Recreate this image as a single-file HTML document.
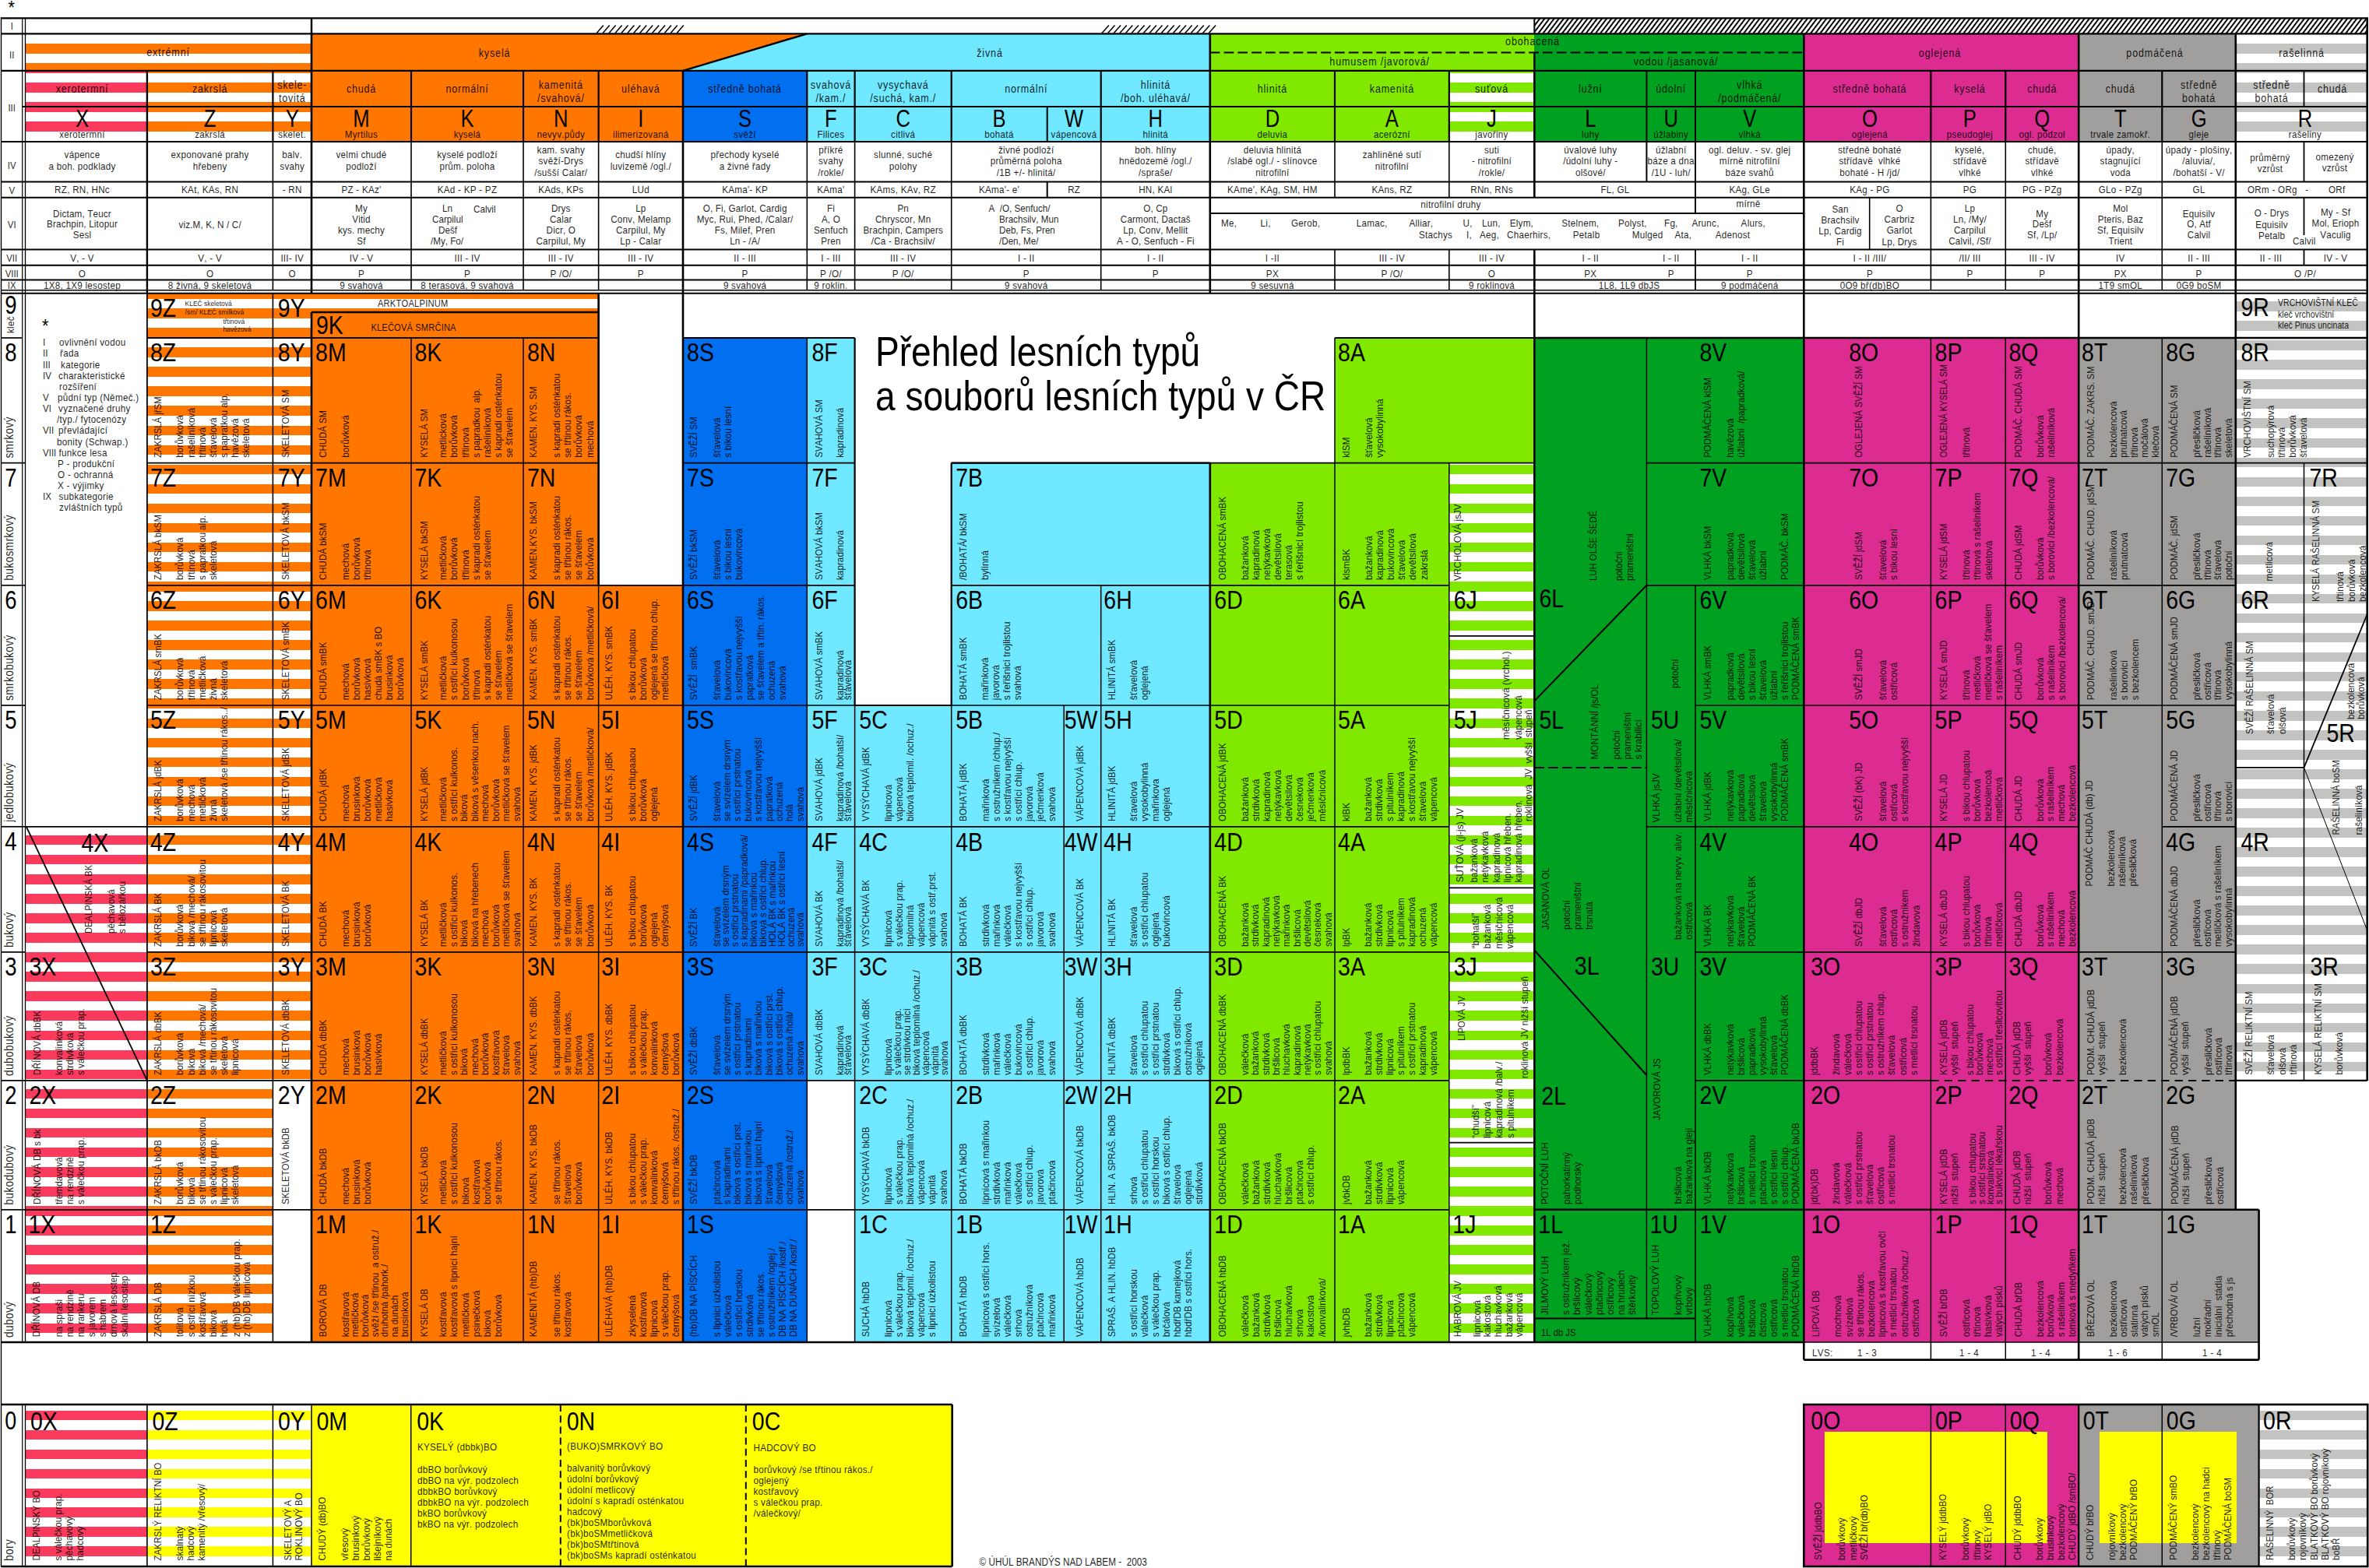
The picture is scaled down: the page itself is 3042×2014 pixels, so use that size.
<!DOCTYPE html><html lang="cs"><head><meta charset="utf-8"><title>Přehled lesních typů a souborů lesních typů v ČR</title><style>html,body{margin:0;padding:0;background:#fff}body{width:3042px;height:2014px;overflow:hidden}svg{display:block}</style></head><body><svg width="3042" height="2014" viewBox="0 0 3042 2014"><defs>
<pattern id="hatch" width="4.9" height="4.9" patternUnits="userSpaceOnUse" patternTransform="rotate(-53)"><rect width="4.9" height="4.9" fill="#fff"/><rect width="4.9" height="2.0" fill="#000"/></pattern>
</defs><rect width="100%" height="100%" fill="#fff"/><g shape-rendering="crispEdges"><rect x="32.5" y="43.4" width="367.5" height="0.2" fill="#FF7600"/><rect x="32.5" y="56.1" width="367.5" height="12.5" fill="#FF7600"/><rect x="32.5" y="81.1" width="367.5" height="9.7" fill="#FF7600"/><polygon points="400.0,43.4 1036.3,43.4 877.0,90.8 400.0,90.8" fill="#FF7600"/><polygon points="1036.3,43.4 1553.8,43.4 1553.8,90.8 877.0,90.8" fill="#70E8FF"/><rect x="1553.8" y="43.4" width="416.5" height="47.4" fill="#81E800"/><rect x="1970.3" y="43.4" width="346.0" height="47.4" fill="#00A020"/><rect x="2316.3" y="43.4" width="352.9" height="47.4" fill="#DC2C92"/><rect x="2669.2" y="43.4" width="201.6" height="47.4" fill="#A19F9D"/><rect x="2870.8" y="43.4" width="168.9" height="0.2" fill="#C3C3C1"/><rect x="2870.8" y="56.1" width="168.9" height="12.5" fill="#C3C3C1"/><rect x="2870.8" y="81.1" width="168.9" height="9.7" fill="#C3C3C1"/><rect x="32.5" y="90.8" width="156.4" height="2.8" fill="#FB3B5E"/><rect x="32.5" y="106.1" width="156.4" height="12.5" fill="#FB3B5E"/><rect x="32.5" y="131.1" width="156.4" height="12.5" fill="#FB3B5E"/><rect x="32.5" y="156.1" width="156.4" height="12.5" fill="#FB3B5E"/><rect x="32.5" y="181.1" width="156.4" height="0.8" fill="#FB3B5E"/><rect x="188.9" y="90.8" width="211.1" height="2.8" fill="#FF7600"/><rect x="188.9" y="106.1" width="211.1" height="12.5" fill="#FF7600"/><rect x="188.9" y="131.1" width="211.1" height="12.5" fill="#FF7600"/><rect x="188.9" y="156.1" width="211.1" height="12.5" fill="#FF7600"/><rect x="188.9" y="181.1" width="211.1" height="0.8" fill="#FF7600"/><rect x="400.0" y="90.8" width="477.0" height="91.1" fill="#FF7600"/><rect x="877.0" y="90.8" width="159.3" height="91.1" fill="#0070F0"/><rect x="1036.3" y="90.8" width="517.5" height="91.1" fill="#70E8FF"/><rect x="1553.8" y="90.8" width="307.0" height="91.1" fill="#81E800"/><rect x="1860.8" y="90.8" width="109.5" height="2.8" fill="#81E800"/><rect x="1860.8" y="106.1" width="109.5" height="12.5" fill="#81E800"/><rect x="1860.8" y="131.1" width="109.5" height="12.5" fill="#81E800"/><rect x="1860.8" y="156.1" width="109.5" height="12.5" fill="#81E800"/><rect x="1860.8" y="181.1" width="109.5" height="0.8" fill="#81E800"/><rect x="1970.3" y="90.8" width="346.0" height="91.1" fill="#00A020"/><rect x="2316.3" y="90.8" width="352.9" height="91.1" fill="#DC2C92"/><rect x="2669.2" y="90.8" width="201.6" height="91.1" fill="#A19F9D"/><rect x="2870.8" y="90.8" width="168.9" height="2.8" fill="#C3C3C1"/><rect x="2870.8" y="106.1" width="168.9" height="12.5" fill="#C3C3C1"/><rect x="2870.8" y="131.1" width="168.9" height="12.5" fill="#C3C3C1"/><rect x="2870.8" y="156.1" width="168.9" height="12.5" fill="#C3C3C1"/><rect x="2870.8" y="181.1" width="168.9" height="0.8" fill="#C3C3C1"/><rect x="1970.3" y="23.3" width="1069.4" height="20.1" fill="url(#hatch)"/><rect x="32.5" y="1072.9" width="156.4" height="12.5" fill="#FB3B5E"/><rect x="32.5" y="1097.9" width="156.4" height="12.5" fill="#FB3B5E"/><rect x="32.5" y="1123.0" width="156.4" height="12.5" fill="#FB3B5E"/><rect x="32.5" y="1148.1" width="156.4" height="12.5" fill="#FB3B5E"/><rect x="32.5" y="1173.1" width="156.4" height="12.5" fill="#FB3B5E"/><rect x="32.5" y="1198.2" width="156.4" height="12.5" fill="#FB3B5E"/><rect x="32.5" y="1223.2" width="156.4" height="12.5" fill="#FB3B5E"/><rect x="32.5" y="1248.3" width="156.4" height="12.5" fill="#FB3B5E"/><rect x="32.5" y="1273.4" width="156.4" height="12.5" fill="#FB3B5E"/><rect x="32.5" y="1298.4" width="156.4" height="12.5" fill="#FB3B5E"/><rect x="32.5" y="1323.5" width="156.4" height="12.5" fill="#FB3B5E"/><rect x="32.5" y="1348.6" width="156.4" height="12.5" fill="#FB3B5E"/><rect x="32.5" y="1373.6" width="156.4" height="12.5" fill="#FB3B5E"/><rect x="32.5" y="1398.7" width="156.4" height="12.5" fill="#FB3B5E"/><rect x="32.5" y="1423.8" width="156.4" height="12.5" fill="#FB3B5E"/><rect x="32.5" y="1448.8" width="156.4" height="12.5" fill="#FB3B5E"/><rect x="32.5" y="1473.9" width="156.4" height="12.5" fill="#FB3B5E"/><rect x="32.5" y="1499.0" width="156.4" height="12.5" fill="#FB3B5E"/><rect x="32.5" y="1524.0" width="156.4" height="12.5" fill="#FB3B5E"/><rect x="32.5" y="1549.1" width="156.4" height="12.5" fill="#FB3B5E"/><rect x="32.5" y="1574.2" width="156.4" height="12.5" fill="#FB3B5E"/><rect x="32.5" y="1599.2" width="156.4" height="12.5" fill="#FB3B5E"/><rect x="32.5" y="1624.3" width="156.4" height="12.5" fill="#FB3B5E"/><rect x="32.5" y="1649.4" width="156.4" height="12.5" fill="#FB3B5E"/><rect x="32.5" y="1674.4" width="156.4" height="12.5" fill="#FB3B5E"/><rect x="32.5" y="1699.5" width="156.4" height="12.5" fill="#FB3B5E"/><rect x="188.9" y="376.8" width="161.5" height="6.7" fill="#FF7600"/><rect x="188.9" y="396.1" width="161.5" height="12.5" fill="#FF7600"/><rect x="188.9" y="421.2" width="161.5" height="12.5" fill="#FF7600"/><rect x="188.9" y="446.2" width="161.5" height="12.5" fill="#FF7600"/><rect x="188.9" y="471.3" width="161.5" height="12.5" fill="#FF7600"/><rect x="188.9" y="496.4" width="161.5" height="12.5" fill="#FF7600"/><rect x="188.9" y="521.4" width="161.5" height="12.5" fill="#FF7600"/><rect x="188.9" y="546.5" width="161.5" height="12.5" fill="#FF7600"/><rect x="188.9" y="571.6" width="161.5" height="12.5" fill="#FF7600"/><rect x="188.9" y="596.6" width="161.5" height="12.5" fill="#FF7600"/><rect x="188.9" y="621.7" width="161.5" height="12.5" fill="#FF7600"/><rect x="188.9" y="646.8" width="161.5" height="12.5" fill="#FF7600"/><rect x="188.9" y="671.8" width="161.5" height="12.5" fill="#FF7600"/><rect x="188.9" y="696.9" width="161.5" height="12.5" fill="#FF7600"/><rect x="188.9" y="721.9" width="161.5" height="12.5" fill="#FF7600"/><rect x="188.9" y="747.0" width="161.5" height="4.8" fill="#FF7600"/><rect x="188.9" y="751.8" width="161.5" height="7.7" fill="#FF7600"/><rect x="188.9" y="772.1" width="161.5" height="12.5" fill="#FF7600"/><rect x="188.9" y="797.1" width="161.5" height="12.5" fill="#FF7600"/><rect x="188.9" y="822.2" width="161.5" height="12.5" fill="#FF7600"/><rect x="188.9" y="847.3" width="161.5" height="12.5" fill="#FF7600"/><rect x="188.9" y="872.3" width="161.5" height="12.5" fill="#FF7600"/><rect x="188.9" y="897.4" width="161.5" height="8.6" fill="#FF7600"/><rect x="188.9" y="906.0" width="161.5" height="3.9" fill="#FF7600"/><rect x="188.9" y="922.5" width="161.5" height="12.5" fill="#FF7600"/><rect x="188.9" y="947.5" width="161.5" height="12.5" fill="#FF7600"/><rect x="188.9" y="972.6" width="161.5" height="12.5" fill="#FF7600"/><rect x="188.9" y="997.7" width="161.5" height="12.5" fill="#FF7600"/><rect x="188.9" y="1022.7" width="161.5" height="12.5" fill="#FF7600"/><rect x="188.9" y="1047.8" width="161.5" height="12.5" fill="#FF7600"/><rect x="188.9" y="1072.9" width="161.5" height="12.5" fill="#FF7600"/><rect x="188.9" y="1097.9" width="161.5" height="12.5" fill="#FF7600"/><rect x="188.9" y="1123.0" width="161.5" height="12.5" fill="#FF7600"/><rect x="188.9" y="1148.1" width="161.5" height="12.5" fill="#FF7600"/><rect x="188.9" y="1173.1" width="161.5" height="12.5" fill="#FF7600"/><rect x="188.9" y="1198.2" width="161.5" height="12.5" fill="#FF7600"/><rect x="188.9" y="1223.2" width="161.5" height="12.5" fill="#FF7600"/><rect x="188.9" y="1248.3" width="161.5" height="12.5" fill="#FF7600"/><rect x="188.9" y="1273.4" width="161.5" height="12.5" fill="#FF7600"/><rect x="188.9" y="1298.4" width="161.5" height="12.5" fill="#FF7600"/><rect x="188.9" y="1323.5" width="161.5" height="12.5" fill="#FF7600"/><rect x="188.9" y="1348.6" width="161.5" height="12.5" fill="#FF7600"/><rect x="188.9" y="1373.6" width="161.5" height="12.5" fill="#FF7600"/><rect x="188.9" y="1398.7" width="161.5" height="12.5" fill="#FF7600"/><rect x="188.9" y="1423.8" width="161.5" height="12.5" fill="#FF7600"/><rect x="188.9" y="1448.8" width="161.5" height="12.5" fill="#FF7600"/><rect x="188.9" y="1473.9" width="161.5" height="12.5" fill="#FF7600"/><rect x="188.9" y="1499.0" width="161.5" height="12.5" fill="#FF7600"/><rect x="188.9" y="1524.0" width="161.5" height="12.5" fill="#FF7600"/><rect x="188.9" y="1549.1" width="161.5" height="4.7" fill="#FF7600"/><rect x="188.9" y="1553.8" width="161.5" height="7.8" fill="#FF7600"/><rect x="188.9" y="1574.2" width="161.5" height="12.5" fill="#FF7600"/><rect x="188.9" y="1599.2" width="161.5" height="12.5" fill="#FF7600"/><rect x="188.9" y="1624.3" width="161.5" height="12.5" fill="#FF7600"/><rect x="188.9" y="1649.4" width="161.5" height="12.5" fill="#FF7600"/><rect x="188.9" y="1674.4" width="161.5" height="12.5" fill="#FF7600"/><rect x="188.9" y="1699.5" width="161.5" height="12.5" fill="#FF7600"/><rect x="350.4" y="376.8" width="49.6" height="6.7" fill="#FF7600"/><rect x="350.4" y="396.1" width="49.6" height="12.5" fill="#FF7600"/><rect x="350.4" y="421.2" width="49.6" height="12.5" fill="#FF7600"/><rect x="350.4" y="446.2" width="49.6" height="12.5" fill="#FF7600"/><rect x="350.4" y="471.3" width="49.6" height="12.5" fill="#FF7600"/><rect x="350.4" y="496.4" width="49.6" height="12.5" fill="#FF7600"/><rect x="350.4" y="521.4" width="49.6" height="12.5" fill="#FF7600"/><rect x="350.4" y="546.5" width="49.6" height="12.5" fill="#FF7600"/><rect x="350.4" y="571.6" width="49.6" height="12.5" fill="#FF7600"/><rect x="350.4" y="596.6" width="49.6" height="12.5" fill="#FF7600"/><rect x="350.4" y="621.7" width="49.6" height="12.5" fill="#FF7600"/><rect x="350.4" y="646.8" width="49.6" height="12.5" fill="#FF7600"/><rect x="350.4" y="671.8" width="49.6" height="12.5" fill="#FF7600"/><rect x="350.4" y="696.9" width="49.6" height="12.5" fill="#FF7600"/><rect x="350.4" y="721.9" width="49.6" height="12.5" fill="#FF7600"/><rect x="350.4" y="747.0" width="49.6" height="4.8" fill="#FF7600"/><rect x="350.4" y="751.8" width="49.6" height="7.7" fill="#FF7600"/><rect x="350.4" y="772.1" width="49.6" height="12.5" fill="#FF7600"/><rect x="350.4" y="797.1" width="49.6" height="12.5" fill="#FF7600"/><rect x="350.4" y="822.2" width="49.6" height="12.5" fill="#FF7600"/><rect x="350.4" y="847.3" width="49.6" height="12.5" fill="#FF7600"/><rect x="350.4" y="872.3" width="49.6" height="12.5" fill="#FF7600"/><rect x="350.4" y="897.4" width="49.6" height="8.6" fill="#FF7600"/><rect x="350.4" y="906.0" width="49.6" height="3.9" fill="#FF7600"/><rect x="350.4" y="922.5" width="49.6" height="12.5" fill="#FF7600"/><rect x="350.4" y="947.5" width="49.6" height="12.5" fill="#FF7600"/><rect x="350.4" y="972.6" width="49.6" height="12.5" fill="#FF7600"/><rect x="350.4" y="997.7" width="49.6" height="12.5" fill="#FF7600"/><rect x="350.4" y="1022.7" width="49.6" height="12.5" fill="#FF7600"/><rect x="350.4" y="1047.8" width="49.6" height="12.5" fill="#FF7600"/><rect x="350.4" y="1072.9" width="49.6" height="12.5" fill="#FF7600"/><rect x="350.4" y="1097.9" width="49.6" height="12.5" fill="#FF7600"/><rect x="350.4" y="1123.0" width="49.6" height="12.5" fill="#FF7600"/><rect x="350.4" y="1148.1" width="49.6" height="12.5" fill="#FF7600"/><rect x="350.4" y="1173.1" width="49.6" height="12.5" fill="#FF7600"/><rect x="350.4" y="1198.2" width="49.6" height="12.5" fill="#FF7600"/><rect x="350.4" y="1223.2" width="49.6" height="12.5" fill="#FF7600"/><rect x="350.4" y="1248.3" width="49.6" height="12.5" fill="#FF7600"/><rect x="350.4" y="1273.4" width="49.6" height="12.5" fill="#FF7600"/><rect x="350.4" y="1298.4" width="49.6" height="12.5" fill="#FF7600"/><rect x="350.4" y="1323.5" width="49.6" height="12.5" fill="#FF7600"/><rect x="350.4" y="1348.6" width="49.6" height="12.5" fill="#FF7600"/><rect x="350.4" y="1373.6" width="49.6" height="12.5" fill="#FF7600"/><rect x="400.0" y="376.8" width="368.6" height="6.7" fill="#FF7600"/><rect x="400.0" y="396.1" width="368.6" height="4.9" fill="#FF7600"/><rect x="400.0" y="401.0" width="368.6" height="33.0" fill="#FF7600"/><rect x="400.0" y="434.0" width="128.0" height="160.6" fill="#FF7600"/><rect x="400.0" y="594.6" width="128.0" height="157.2" fill="#FF7600"/><rect x="400.0" y="751.8" width="128.0" height="154.2" fill="#FF7600"/><rect x="400.0" y="906.0" width="128.0" height="155.8" fill="#FF7600"/><rect x="400.0" y="1061.8" width="128.0" height="161.1" fill="#FF7600"/><rect x="400.0" y="1222.9" width="128.0" height="165.0" fill="#FF7600"/><rect x="400.0" y="1387.9" width="128.0" height="165.9" fill="#FF7600"/><rect x="400.0" y="1553.8" width="128.0" height="170.2" fill="#FF7600"/><rect x="528.0" y="434.0" width="144.0" height="160.6" fill="#FF7600"/><rect x="528.0" y="594.6" width="144.0" height="157.2" fill="#FF7600"/><rect x="528.0" y="751.8" width="144.0" height="154.2" fill="#FF7600"/><rect x="528.0" y="906.0" width="144.0" height="155.8" fill="#FF7600"/><rect x="528.0" y="1061.8" width="144.0" height="161.1" fill="#FF7600"/><rect x="528.0" y="1222.9" width="144.0" height="165.0" fill="#FF7600"/><rect x="528.0" y="1387.9" width="144.0" height="165.9" fill="#FF7600"/><rect x="528.0" y="1553.8" width="144.0" height="170.2" fill="#FF7600"/><rect x="672.0" y="434.0" width="96.6" height="160.6" fill="#FF7600"/><rect x="672.0" y="594.6" width="96.6" height="157.2" fill="#FF7600"/><rect x="672.0" y="751.8" width="96.6" height="154.2" fill="#FF7600"/><rect x="672.0" y="906.0" width="96.6" height="155.8" fill="#FF7600"/><rect x="672.0" y="1061.8" width="96.6" height="161.1" fill="#FF7600"/><rect x="672.0" y="1222.9" width="96.6" height="165.0" fill="#FF7600"/><rect x="672.0" y="1387.9" width="96.6" height="165.9" fill="#FF7600"/><rect x="672.0" y="1553.8" width="96.6" height="170.2" fill="#FF7600"/><rect x="768.6" y="751.8" width="108.4" height="154.2" fill="#FF7600"/><rect x="768.6" y="906.0" width="108.4" height="155.8" fill="#FF7600"/><rect x="768.6" y="1061.8" width="108.4" height="161.1" fill="#FF7600"/><rect x="768.6" y="1222.9" width="108.4" height="165.0" fill="#FF7600"/><rect x="768.6" y="1387.9" width="108.4" height="165.9" fill="#FF7600"/><rect x="768.6" y="1553.8" width="108.4" height="170.2" fill="#FF7600"/><rect x="877.0" y="434.0" width="159.3" height="160.6" fill="#0070F0"/><rect x="877.0" y="594.6" width="159.3" height="157.2" fill="#0070F0"/><rect x="877.0" y="751.8" width="159.3" height="154.2" fill="#0070F0"/><rect x="877.0" y="906.0" width="159.3" height="155.8" fill="#0070F0"/><rect x="877.0" y="1061.8" width="159.3" height="161.1" fill="#0070F0"/><rect x="877.0" y="1222.9" width="159.3" height="165.0" fill="#0070F0"/><rect x="877.0" y="1387.9" width="159.3" height="165.9" fill="#0070F0"/><rect x="877.0" y="1553.8" width="159.3" height="170.2" fill="#0070F0"/><rect x="1036.3" y="434.0" width="61.3" height="160.6" fill="#70E8FF"/><rect x="1036.3" y="594.6" width="61.3" height="157.2" fill="#70E8FF"/><rect x="1036.3" y="751.8" width="61.3" height="154.2" fill="#70E8FF"/><rect x="1036.3" y="906.0" width="61.3" height="155.8" fill="#70E8FF"/><rect x="1036.3" y="1061.8" width="61.3" height="161.1" fill="#70E8FF"/><rect x="1036.3" y="1222.9" width="61.3" height="165.0" fill="#70E8FF"/><rect x="1097.6" y="906.0" width="124.1" height="155.8" fill="#70E8FF"/><rect x="1097.6" y="1061.8" width="124.1" height="161.1" fill="#70E8FF"/><rect x="1097.6" y="1222.9" width="124.1" height="165.0" fill="#70E8FF"/><rect x="1097.6" y="1387.9" width="124.1" height="165.9" fill="#70E8FF"/><rect x="1097.6" y="1553.8" width="124.1" height="170.2" fill="#70E8FF"/><rect x="1221.7" y="594.6" width="332.1" height="157.2" fill="#70E8FF"/><rect x="1221.7" y="751.8" width="192.0" height="154.2" fill="#70E8FF"/><rect x="1221.7" y="906.0" width="144.5" height="155.8" fill="#70E8FF"/><rect x="1221.7" y="1061.8" width="144.5" height="161.1" fill="#70E8FF"/><rect x="1221.7" y="1222.9" width="144.5" height="165.0" fill="#70E8FF"/><rect x="1221.7" y="1387.9" width="144.5" height="165.9" fill="#70E8FF"/><rect x="1221.7" y="1553.8" width="144.5" height="170.2" fill="#70E8FF"/><rect x="1366.2" y="906.0" width="47.5" height="155.8" fill="#70E8FF"/><rect x="1366.2" y="1061.8" width="47.5" height="161.1" fill="#70E8FF"/><rect x="1366.2" y="1222.9" width="47.5" height="165.0" fill="#70E8FF"/><rect x="1366.2" y="1387.9" width="47.5" height="165.9" fill="#70E8FF"/><rect x="1366.2" y="1553.8" width="47.5" height="170.2" fill="#70E8FF"/><rect x="1413.7" y="751.8" width="140.1" height="154.2" fill="#70E8FF"/><rect x="1413.7" y="906.0" width="140.1" height="155.8" fill="#70E8FF"/><rect x="1413.7" y="1061.8" width="140.1" height="161.1" fill="#70E8FF"/><rect x="1413.7" y="1222.9" width="140.1" height="165.0" fill="#70E8FF"/><rect x="1413.7" y="1387.9" width="140.1" height="165.9" fill="#70E8FF"/><rect x="1413.7" y="1553.8" width="140.1" height="170.2" fill="#70E8FF"/><rect x="1553.8" y="594.6" width="160.2" height="157.2" fill="#81E800"/><rect x="1553.8" y="751.8" width="160.2" height="154.2" fill="#81E800"/><rect x="1553.8" y="906.0" width="160.2" height="155.8" fill="#81E800"/><rect x="1553.8" y="1061.8" width="160.2" height="161.1" fill="#81E800"/><rect x="1553.8" y="1222.9" width="160.2" height="165.0" fill="#81E800"/><rect x="1553.8" y="1387.9" width="160.2" height="165.9" fill="#81E800"/><rect x="1553.8" y="1553.8" width="160.2" height="170.2" fill="#81E800"/><rect x="1714.0" y="434.0" width="256.3" height="160.6" fill="#81E800"/><rect x="1714.0" y="594.6" width="146.8" height="157.2" fill="#81E800"/><rect x="1714.0" y="751.8" width="146.8" height="154.2" fill="#81E800"/><rect x="1714.0" y="906.0" width="146.8" height="155.8" fill="#81E800"/><rect x="1714.0" y="1061.8" width="146.8" height="161.1" fill="#81E800"/><rect x="1714.0" y="1222.9" width="146.8" height="165.0" fill="#81E800"/><rect x="1714.0" y="1387.9" width="146.8" height="165.9" fill="#81E800"/><rect x="1714.0" y="1553.8" width="146.8" height="170.2" fill="#81E800"/><rect x="1860.8" y="596.6" width="109.5" height="12.5" fill="#81E800"/><rect x="1860.8" y="621.7" width="109.5" height="12.5" fill="#81E800"/><rect x="1860.8" y="646.8" width="109.5" height="12.5" fill="#81E800"/><rect x="1860.8" y="671.8" width="109.5" height="12.5" fill="#81E800"/><rect x="1860.8" y="696.9" width="109.5" height="12.5" fill="#81E800"/><rect x="1860.8" y="721.9" width="109.5" height="12.5" fill="#81E800"/><rect x="1860.8" y="747.0" width="109.5" height="12.5" fill="#81E800"/><rect x="1860.8" y="772.1" width="109.5" height="12.5" fill="#81E800"/><rect x="1860.8" y="797.1" width="109.5" height="12.5" fill="#81E800"/><rect x="1860.8" y="822.2" width="109.5" height="12.5" fill="#81E800"/><rect x="1860.8" y="847.3" width="109.5" height="12.5" fill="#81E800"/><rect x="1860.8" y="872.3" width="109.5" height="12.5" fill="#81E800"/><rect x="1860.8" y="897.4" width="109.5" height="12.5" fill="#81E800"/><rect x="1860.8" y="922.5" width="109.5" height="12.5" fill="#81E800"/><rect x="1860.8" y="947.5" width="109.5" height="12.5" fill="#81E800"/><rect x="1860.8" y="972.6" width="109.5" height="12.5" fill="#81E800"/><rect x="1860.8" y="997.7" width="109.5" height="12.5" fill="#81E800"/><rect x="1860.8" y="1022.7" width="109.5" height="12.5" fill="#81E800"/><rect x="1860.8" y="1047.8" width="109.5" height="12.5" fill="#81E800"/><rect x="1860.8" y="1072.9" width="109.5" height="12.5" fill="#81E800"/><rect x="1860.8" y="1097.9" width="109.5" height="12.5" fill="#81E800"/><rect x="1860.8" y="1123.0" width="109.5" height="12.5" fill="#81E800"/><rect x="1860.8" y="1148.1" width="109.5" height="12.5" fill="#81E800"/><rect x="1860.8" y="1173.1" width="109.5" height="12.5" fill="#81E800"/><rect x="1860.8" y="1198.2" width="109.5" height="12.5" fill="#81E800"/><rect x="1860.8" y="1223.2" width="109.5" height="12.5" fill="#81E800"/><rect x="1860.8" y="1248.3" width="109.5" height="12.5" fill="#81E800"/><rect x="1860.8" y="1273.4" width="109.5" height="12.5" fill="#81E800"/><rect x="1860.8" y="1298.4" width="109.5" height="12.5" fill="#81E800"/><rect x="1860.8" y="1323.5" width="109.5" height="12.5" fill="#81E800"/><rect x="1860.8" y="1348.6" width="109.5" height="12.5" fill="#81E800"/><rect x="1860.8" y="1373.6" width="109.5" height="12.5" fill="#81E800"/><rect x="1860.8" y="1398.7" width="109.5" height="12.5" fill="#81E800"/><rect x="1860.8" y="1423.8" width="109.5" height="12.5" fill="#81E800"/><rect x="1860.8" y="1448.8" width="109.5" height="12.5" fill="#81E800"/><rect x="1860.8" y="1473.9" width="109.5" height="12.5" fill="#81E800"/><rect x="1860.8" y="1499.0" width="109.5" height="12.5" fill="#81E800"/><rect x="1860.8" y="1524.0" width="109.5" height="12.5" fill="#81E800"/><rect x="1860.8" y="1549.1" width="109.5" height="12.5" fill="#81E800"/><rect x="1860.8" y="1574.2" width="109.5" height="12.5" fill="#81E800"/><rect x="1860.8" y="1599.2" width="109.5" height="12.5" fill="#81E800"/><rect x="1860.8" y="1624.3" width="109.5" height="12.5" fill="#81E800"/><rect x="1860.8" y="1649.4" width="109.5" height="12.5" fill="#81E800"/><rect x="1860.8" y="1674.4" width="109.5" height="12.5" fill="#81E800"/><rect x="1860.8" y="1699.5" width="109.5" height="12.5" fill="#81E800"/><rect x="1970.3" y="434.0" width="346.0" height="1290.0" fill="#00A020"/><rect x="2316.3" y="434.0" width="163.1" height="160.6" fill="#DC2C92"/><rect x="2316.3" y="594.6" width="163.1" height="157.2" fill="#DC2C92"/><rect x="2316.3" y="751.8" width="163.1" height="154.2" fill="#DC2C92"/><rect x="2316.3" y="906.0" width="163.1" height="155.8" fill="#DC2C92"/><rect x="2316.3" y="1061.8" width="163.1" height="161.1" fill="#DC2C92"/><rect x="2316.3" y="1222.9" width="163.1" height="165.0" fill="#DC2C92"/><rect x="2316.3" y="1387.9" width="163.1" height="165.9" fill="#DC2C92"/><rect x="2316.3" y="1553.8" width="163.1" height="170.2" fill="#DC2C92"/><rect x="2479.4" y="434.0" width="95.9" height="160.6" fill="#DC2C92"/><rect x="2479.4" y="594.6" width="95.9" height="157.2" fill="#DC2C92"/><rect x="2479.4" y="751.8" width="95.9" height="154.2" fill="#DC2C92"/><rect x="2479.4" y="906.0" width="95.9" height="155.8" fill="#DC2C92"/><rect x="2479.4" y="1061.8" width="95.9" height="161.1" fill="#DC2C92"/><rect x="2479.4" y="1222.9" width="95.9" height="165.0" fill="#DC2C92"/><rect x="2479.4" y="1387.9" width="95.9" height="165.9" fill="#DC2C92"/><rect x="2479.4" y="1553.8" width="95.9" height="170.2" fill="#DC2C92"/><rect x="2575.3" y="434.0" width="93.9" height="160.6" fill="#DC2C92"/><rect x="2575.3" y="594.6" width="93.9" height="157.2" fill="#DC2C92"/><rect x="2575.3" y="751.8" width="93.9" height="154.2" fill="#DC2C92"/><rect x="2575.3" y="906.0" width="93.9" height="155.8" fill="#DC2C92"/><rect x="2575.3" y="1061.8" width="93.9" height="161.1" fill="#DC2C92"/><rect x="2575.3" y="1222.9" width="93.9" height="165.0" fill="#DC2C92"/><rect x="2575.3" y="1387.9" width="93.9" height="165.9" fill="#DC2C92"/><rect x="2575.3" y="1553.8" width="93.9" height="170.2" fill="#DC2C92"/><rect x="2669.2" y="434.0" width="107.1" height="160.6" fill="#A19F9D"/><rect x="2669.2" y="594.6" width="107.1" height="157.2" fill="#A19F9D"/><rect x="2669.2" y="751.8" width="107.1" height="154.2" fill="#A19F9D"/><rect x="2669.2" y="1222.9" width="107.1" height="165.0" fill="#A19F9D"/><rect x="2669.2" y="1387.9" width="107.1" height="165.9" fill="#A19F9D"/><rect x="2669.2" y="1553.8" width="107.1" height="170.2" fill="#A19F9D"/><rect x="2669.2" y="906.0" width="107.1" height="316.9" fill="#A19F9D"/><rect x="2776.3" y="434.0" width="94.5" height="160.6" fill="#A19F9D"/><rect x="2776.3" y="594.6" width="94.5" height="157.2" fill="#A19F9D"/><rect x="2776.3" y="751.8" width="94.5" height="154.2" fill="#A19F9D"/><rect x="2776.3" y="906.0" width="94.5" height="155.8" fill="#A19F9D"/><rect x="2776.3" y="1061.8" width="94.5" height="161.1" fill="#A19F9D"/><rect x="2776.3" y="1222.9" width="94.5" height="165.0" fill="#A19F9D"/><rect x="2776.3" y="1387.9" width="94.5" height="165.9" fill="#A19F9D"/><rect x="2776.3" y="1553.8" width="124.3" height="170.2" fill="#A19F9D"/><rect x="2870.8" y="387.2" width="168.9" height="12.5" fill="#C3C3C1"/><rect x="2870.8" y="412.2" width="168.9" height="12.5" fill="#C3C3C1"/><rect x="2870.8" y="437.3" width="168.9" height="12.5" fill="#C3C3C1"/><rect x="2870.8" y="462.3" width="168.9" height="12.5" fill="#C3C3C1"/><rect x="2870.8" y="487.3" width="168.9" height="12.5" fill="#C3C3C1"/><rect x="2870.8" y="512.4" width="168.9" height="12.5" fill="#C3C3C1"/><rect x="2870.8" y="537.4" width="168.9" height="12.5" fill="#C3C3C1"/><rect x="2870.8" y="562.5" width="168.9" height="12.5" fill="#C3C3C1"/><rect x="2870.8" y="587.5" width="168.9" height="12.5" fill="#C3C3C1"/><rect x="2870.8" y="612.5" width="168.9" height="12.5" fill="#C3C3C1"/><rect x="2870.8" y="637.6" width="168.9" height="12.5" fill="#C3C3C1"/><rect x="2870.8" y="662.6" width="168.9" height="12.5" fill="#C3C3C1"/><rect x="2870.8" y="687.6" width="168.9" height="12.5" fill="#C3C3C1"/><rect x="2870.8" y="712.7" width="168.9" height="12.5" fill="#C3C3C1"/><rect x="2870.8" y="737.7" width="168.9" height="12.5" fill="#C3C3C1"/><rect x="2870.8" y="762.7" width="168.9" height="12.5" fill="#C3C3C1"/><rect x="2870.8" y="787.8" width="168.9" height="12.5" fill="#C3C3C1"/><rect x="2870.8" y="812.8" width="168.9" height="12.5" fill="#C3C3C1"/><rect x="2870.8" y="837.8" width="168.9" height="12.5" fill="#C3C3C1"/><rect x="2870.8" y="862.9" width="168.9" height="12.5" fill="#C3C3C1"/><rect x="2870.8" y="887.9" width="168.9" height="12.5" fill="#C3C3C1"/><rect x="2870.8" y="913.0" width="168.9" height="12.5" fill="#C3C3C1"/><rect x="2870.8" y="938.0" width="168.9" height="12.5" fill="#C3C3C1"/><rect x="2870.8" y="963.0" width="168.9" height="12.5" fill="#C3C3C1"/><rect x="2870.8" y="988.1" width="168.9" height="12.5" fill="#C3C3C1"/><rect x="2870.8" y="1013.1" width="168.9" height="12.5" fill="#C3C3C1"/><rect x="2870.8" y="1038.1" width="168.9" height="12.5" fill="#C3C3C1"/><rect x="2870.8" y="1063.2" width="168.9" height="12.5" fill="#C3C3C1"/><rect x="2870.8" y="1088.2" width="168.9" height="12.5" fill="#C3C3C1"/><rect x="2870.8" y="1113.2" width="168.9" height="12.5" fill="#C3C3C1"/><rect x="2870.8" y="1138.3" width="168.9" height="12.5" fill="#C3C3C1"/><rect x="2870.8" y="1163.3" width="168.9" height="12.5" fill="#C3C3C1"/><rect x="2870.8" y="1188.4" width="168.9" height="12.5" fill="#C3C3C1"/><rect x="2870.8" y="1213.4" width="168.9" height="12.5" fill="#C3C3C1"/><rect x="2870.8" y="1238.4" width="168.9" height="12.5" fill="#C3C3C1"/><rect x="2870.8" y="1263.5" width="168.9" height="12.5" fill="#C3C3C1"/><rect x="2870.8" y="1288.5" width="168.9" height="12.5" fill="#C3C3C1"/><rect x="2870.8" y="1313.5" width="168.9" height="12.5" fill="#C3C3C1"/><rect x="2870.8" y="1338.6" width="168.9" height="12.5" fill="#C3C3C1"/><rect x="2870.8" y="1363.6" width="168.9" height="12.5" fill="#C3C3C1"/><rect x="32.5" y="1811.9" width="156.4" height="12.3" fill="#FB3B5E"/><rect x="32.5" y="1836.8" width="156.4" height="12.3" fill="#FB3B5E"/><rect x="32.5" y="1861.7" width="156.4" height="12.3" fill="#FB3B5E"/><rect x="32.5" y="1886.6" width="156.4" height="12.3" fill="#FB3B5E"/><rect x="32.5" y="1911.5" width="156.4" height="12.3" fill="#FB3B5E"/><rect x="32.5" y="1936.4" width="156.4" height="12.3" fill="#FB3B5E"/><rect x="32.5" y="1961.3" width="156.4" height="12.3" fill="#FB3B5E"/><rect x="32.5" y="1986.2" width="156.4" height="12.3" fill="#FB3B5E"/><rect x="32.5" y="2011.1" width="156.4" height="0.9" fill="#FB3B5E"/><rect x="188.9" y="1811.9" width="161.5" height="12.3" fill="#FFFF00"/><rect x="188.9" y="1836.8" width="161.5" height="12.3" fill="#FFFF00"/><rect x="188.9" y="1861.7" width="161.5" height="12.3" fill="#FFFF00"/><rect x="188.9" y="1886.6" width="161.5" height="12.3" fill="#FFFF00"/><rect x="188.9" y="1911.5" width="161.5" height="12.3" fill="#FFFF00"/><rect x="188.9" y="1936.4" width="161.5" height="12.3" fill="#FFFF00"/><rect x="188.9" y="1961.3" width="161.5" height="12.3" fill="#FFFF00"/><rect x="188.9" y="1986.2" width="161.5" height="12.3" fill="#FFFF00"/><rect x="188.9" y="2011.1" width="161.5" height="0.9" fill="#FFFF00"/><rect x="350.4" y="1811.9" width="49.6" height="12.3" fill="#FFFF00"/><rect x="350.4" y="1836.8" width="49.6" height="12.3" fill="#FFFF00"/><rect x="350.4" y="1861.7" width="49.6" height="12.3" fill="#FFFF00"/><rect x="350.4" y="1886.6" width="49.6" height="12.3" fill="#FFFF00"/><rect x="350.4" y="1911.5" width="49.6" height="12.3" fill="#FFFF00"/><rect x="350.4" y="1936.4" width="49.6" height="12.3" fill="#FFFF00"/><rect x="350.4" y="1961.3" width="49.6" height="12.3" fill="#FFFF00"/><rect x="350.4" y="1986.2" width="49.6" height="12.3" fill="#FFFF00"/><rect x="350.4" y="2011.1" width="49.6" height="0.9" fill="#FFFF00"/><rect x="400.0" y="1804.0" width="822.7" height="208.0" fill="#FFFF00"/><rect x="2316.3" y="1804.0" width="352.9" height="208.0" fill="#DC2C92"/><rect x="2669.2" y="1804.0" width="231.4" height="208.0" fill="#A19F9D"/><rect x="2900.6" y="1812.0" width="139.6" height="12.3" fill="#C3C3C1"/><rect x="2900.6" y="1836.9" width="139.6" height="12.3" fill="#C3C3C1"/><rect x="2900.6" y="1861.8" width="139.6" height="12.3" fill="#C3C3C1"/><rect x="2900.6" y="1886.7" width="139.6" height="12.3" fill="#C3C3C1"/><rect x="2900.6" y="1911.6" width="139.6" height="12.3" fill="#C3C3C1"/><rect x="2900.6" y="1936.5" width="139.6" height="12.3" fill="#C3C3C1"/><rect x="2900.6" y="1961.4" width="139.6" height="12.3" fill="#C3C3C1"/><rect x="2900.6" y="1986.3" width="139.6" height="12.3" fill="#C3C3C1"/><rect x="2900.6" y="2011.2" width="139.6" height="0.8" fill="#C3C3C1"/><rect x="2343.3" y="1839.1" width="286.1" height="142.9" fill="#FFFF00"/><rect x="2696.2" y="1839.1" width="175.7" height="142.9" fill="#FFFF00"/></g><g stroke="#000" fill="none"><line x1="766.2" y1="42.6" x2="774.8" y2="32.6" stroke-width="1.5"/><line x1="774.1" y1="42.6" x2="782.7" y2="32.6" stroke-width="1.5"/><line x1="782.0" y1="42.6" x2="790.6" y2="32.6" stroke-width="1.5"/><line x1="790.0" y1="42.6" x2="798.6" y2="32.6" stroke-width="1.5"/><line x1="797.9" y1="42.6" x2="806.5" y2="32.6" stroke-width="1.5"/><line x1="805.8" y1="42.6" x2="814.4" y2="32.6" stroke-width="1.5"/><line x1="813.7" y1="42.6" x2="822.3" y2="32.6" stroke-width="1.5"/><line x1="821.6" y1="42.6" x2="830.2" y2="32.6" stroke-width="1.5"/><line x1="829.6" y1="42.6" x2="838.2" y2="32.6" stroke-width="1.5"/><line x1="837.5" y1="42.6" x2="846.1" y2="32.6" stroke-width="1.5"/><line x1="845.4" y1="42.6" x2="854.0" y2="32.6" stroke-width="1.5"/><line x1="853.3" y1="42.6" x2="861.9" y2="32.6" stroke-width="1.5"/><line x1="861.2" y1="42.6" x2="869.8" y2="32.6" stroke-width="1.5"/><line x1="869.2" y1="42.6" x2="877.8" y2="32.6" stroke-width="1.5"/><line x1="1415.0" y1="42.6" x2="1423.9" y2="32.6" stroke-width="1.5"/><line x1="1422.6" y1="42.6" x2="1431.5" y2="32.6" stroke-width="1.5"/><line x1="1430.2" y1="42.6" x2="1439.1" y2="32.6" stroke-width="1.5"/><line x1="1437.9" y1="42.6" x2="1446.8" y2="32.6" stroke-width="1.5"/><line x1="1445.5" y1="42.6" x2="1454.4" y2="32.6" stroke-width="1.5"/><line x1="1453.1" y1="42.6" x2="1462.0" y2="32.6" stroke-width="1.5"/><line x1="1460.7" y1="42.6" x2="1469.6" y2="32.6" stroke-width="1.5"/><line x1="1468.3" y1="42.6" x2="1477.2" y2="32.6" stroke-width="1.5"/><line x1="1476.0" y1="42.6" x2="1484.9" y2="32.6" stroke-width="1.5"/><line x1="1483.6" y1="42.6" x2="1492.5" y2="32.6" stroke-width="1.5"/><line x1="1491.2" y1="42.6" x2="1500.1" y2="32.6" stroke-width="1.5"/><line x1="1498.8" y1="42.6" x2="1507.7" y2="32.6" stroke-width="1.5"/><line x1="1506.4" y1="42.6" x2="1515.3" y2="32.6" stroke-width="1.5"/><line x1="1514.1" y1="42.6" x2="1523.0" y2="32.6" stroke-width="1.5"/><line x1="1521.7" y1="42.6" x2="1530.6" y2="32.6" stroke-width="1.5"/><line x1="1529.3" y1="42.6" x2="1538.2" y2="32.6" stroke-width="1.5"/><line x1="1536.9" y1="42.6" x2="1545.8" y2="32.6" stroke-width="1.5"/><line x1="1544.5" y1="42.6" x2="1553.4" y2="32.6" stroke-width="1.5"/><line x1="1552.2" y1="42.6" x2="1561.1" y2="32.6" stroke-width="1.5"/><line x1="1.5" y1="23.3" x2="3039.7" y2="23.3" stroke-width="2.2"/><line x1="1.5" y1="43.4" x2="3039.7" y2="43.4" stroke-width="2.4"/><line x1="1.5" y1="90.8" x2="877.0" y2="90.8" stroke-width="2.2"/><line x1="877.0" y1="90.8" x2="3039.7" y2="90.8" stroke-width="2.2"/><line x1="877.0" y1="90.8" x2="1036.3" y2="43.4" stroke-width="2.4"/><line x1="28.7" y1="137.1" x2="3039.7" y2="137.1" stroke-width="2.0"/><line x1="1.5" y1="181.9" x2="3039.7" y2="181.9" stroke-width="2.0"/><line x1="1.5" y1="233.5" x2="3039.7" y2="233.5" stroke-width="2.0"/><line x1="1.5" y1="253.8" x2="3039.7" y2="253.8" stroke-width="2.0"/><line x1="1.5" y1="320.6" x2="3039.7" y2="320.6" stroke-width="2.0"/><line x1="1.5" y1="340.8" x2="3039.7" y2="340.8" stroke-width="2.0"/><line x1="1.5" y1="359.4" x2="3039.7" y2="359.4" stroke-width="2.0"/><line x1="1.5" y1="372.8" x2="3039.7" y2="372.8" stroke-width="1.6"/><line x1="1.5" y1="376.8" x2="3039.7" y2="376.8" stroke-width="2.0"/><line x1="1.5" y1="22.2" x2="1.5" y2="2012.5" stroke-width="1.4"/><line x1="28.7" y1="23.3" x2="28.7" y2="1724.0" stroke-width="1.2"/><line x1="32.5" y1="23.3" x2="32.5" y2="1724.0" stroke-width="1.3"/><line x1="3039.7" y1="22.2" x2="3039.7" y2="1388.0" stroke-width="2.6"/><line x1="400.0" y1="43.4" x2="400.0" y2="90.8" stroke-width="2.6"/><line x1="1553.8" y1="43.4" x2="1553.8" y2="90.8" stroke-width="2.6"/><line x1="2316.3" y1="43.4" x2="2316.3" y2="90.8" stroke-width="2.6"/><line x1="2669.2" y1="43.4" x2="2669.2" y2="90.8" stroke-width="2.6"/><line x1="2870.8" y1="43.4" x2="2870.8" y2="90.8" stroke-width="2.6"/><line x1="1970.3" y1="67.5" x2="1970.3" y2="90.8" stroke-width="2.4"/><line x1="400.0" y1="23.3" x2="400.0" y2="43.4" stroke-width="2.4"/><line x1="1970.3" y1="23.3" x2="1970.3" y2="43.4" stroke-width="2.0"/><line x1="1553.8" y1="67.5" x2="2316.3" y2="67.5" stroke-width="2.0" stroke-dasharray="12.7 5.1"/><line x1="400.0" y1="90.8" x2="400.0" y2="376.8" stroke-width="2.6"/><line x1="877.0" y1="90.8" x2="877.0" y2="376.8" stroke-width="2.6"/><line x1="1553.8" y1="90.8" x2="1553.8" y2="376.8" stroke-width="2.6"/><line x1="1970.3" y1="90.8" x2="1970.3" y2="253.8" stroke-width="2.6"/><line x1="1970.3" y1="320.6" x2="1970.3" y2="376.8" stroke-width="2.6"/><line x1="2316.3" y1="90.8" x2="2316.3" y2="376.8" stroke-width="2.6"/><line x1="2669.2" y1="90.8" x2="2669.2" y2="376.8" stroke-width="2.6"/><line x1="2870.8" y1="90.8" x2="2870.8" y2="376.8" stroke-width="2.6"/><line x1="188.9" y1="90.8" x2="188.9" y2="376.8" stroke-width="2.4"/><line x1="350.4" y1="90.8" x2="350.4" y2="181.9" stroke-width="2.2"/><line x1="350.4" y1="181.9" x2="350.4" y2="372.8" stroke-width="1.6"/><line x1="528.0" y1="90.8" x2="528.0" y2="181.9" stroke-width="2.2"/><line x1="528.0" y1="181.9" x2="528.0" y2="372.8" stroke-width="1.6"/><line x1="672.0" y1="90.8" x2="672.0" y2="181.9" stroke-width="2.2"/><line x1="672.0" y1="181.9" x2="672.0" y2="372.8" stroke-width="1.6"/><line x1="768.6" y1="90.8" x2="768.6" y2="181.9" stroke-width="2.2"/><line x1="768.6" y1="181.9" x2="768.6" y2="372.8" stroke-width="1.6"/><line x1="1036.3" y1="90.8" x2="1036.3" y2="181.9" stroke-width="2.2"/><line x1="1036.3" y1="181.9" x2="1036.3" y2="372.8" stroke-width="1.6"/><line x1="1097.6" y1="90.8" x2="1097.6" y2="181.9" stroke-width="2.2"/><line x1="1097.6" y1="181.9" x2="1097.6" y2="372.8" stroke-width="1.6"/><line x1="1221.7" y1="90.8" x2="1221.7" y2="181.9" stroke-width="2.2"/><line x1="1221.7" y1="181.9" x2="1221.7" y2="372.8" stroke-width="1.6"/><line x1="1413.7" y1="90.8" x2="1413.7" y2="181.9" stroke-width="2.2"/><line x1="1413.7" y1="181.9" x2="1413.7" y2="372.8" stroke-width="1.6"/><line x1="1714.0" y1="90.8" x2="1714.0" y2="181.9" stroke-width="2.2"/><line x1="1714.0" y1="181.9" x2="1714.0" y2="253.8" stroke-width="1.6"/><line x1="1714.0" y1="320.6" x2="1714.0" y2="372.8" stroke-width="1.6"/><line x1="1860.8" y1="90.8" x2="1860.8" y2="181.9" stroke-width="2.2"/><line x1="1860.8" y1="181.9" x2="1860.8" y2="253.8" stroke-width="1.6"/><line x1="1860.8" y1="320.6" x2="1860.8" y2="372.8" stroke-width="1.6"/><line x1="2479.4" y1="90.8" x2="2479.4" y2="181.9" stroke-width="2.2"/><line x1="2479.4" y1="181.9" x2="2479.4" y2="372.8" stroke-width="1.6"/><line x1="2575.3" y1="90.8" x2="2575.3" y2="181.9" stroke-width="2.2"/><line x1="2575.3" y1="181.9" x2="2575.3" y2="372.8" stroke-width="1.6"/><line x1="2776.3" y1="90.8" x2="2776.3" y2="181.9" stroke-width="2.2"/><line x1="2776.3" y1="181.9" x2="2776.3" y2="372.8" stroke-width="1.6"/><line x1="1344.7" y1="137.1" x2="1344.7" y2="181.9" stroke-width="2.0"/><line x1="1344.7" y1="233.5" x2="1344.7" y2="253.8" stroke-width="2.0"/><line x1="2114.4" y1="90.8" x2="2114.4" y2="233.5" stroke-width="2.0"/><line x1="2177.0" y1="90.8" x2="2177.0" y2="274.0" stroke-width="2.0"/><line x1="2177.0" y1="320.6" x2="2177.0" y2="372.8" stroke-width="1.8"/><line x1="2958.5" y1="90.8" x2="2958.5" y2="137.1" stroke-width="1.8"/><line x1="2958.5" y1="181.9" x2="2958.5" y2="233.5" stroke-width="1.8"/><line x1="2958.5" y1="253.8" x2="2958.5" y2="302.0" stroke-width="1.8"/><line x1="2958.5" y1="320.6" x2="2958.5" y2="340.8" stroke-width="1.8"/><line x1="2400.7" y1="253.8" x2="2400.7" y2="320.6" stroke-width="1.6"/><line x1="1553.8" y1="274.0" x2="2316.3" y2="274.0" stroke-width="1.8"/><line x1="400.0" y1="400.9" x2="400.0" y2="1724.0" stroke-width="2.6"/><line x1="877.0" y1="376.8" x2="877.0" y2="1724.0" stroke-width="2.6"/><line x1="1553.8" y1="594.6" x2="1553.8" y2="1724.0" stroke-width="2.6"/><line x1="1970.3" y1="376.8" x2="1970.3" y2="1724.0" stroke-width="2.6"/><line x1="2316.3" y1="376.8" x2="2316.3" y2="1746.6" stroke-width="2.6"/><line x1="2669.2" y1="376.8" x2="2669.2" y2="1746.6" stroke-width="2.6"/><line x1="2870.8" y1="376.8" x2="2870.8" y2="1553.8" stroke-width="2.6"/><line x1="188.9" y1="376.8" x2="188.9" y2="1724.0" stroke-width="1.8"/><line x1="350.4" y1="376.8" x2="350.4" y2="1724.0" stroke-width="1.6"/><line x1="768.6" y1="376.8" x2="768.6" y2="751.8" stroke-width="2.6"/><line x1="768.6" y1="751.8" x2="768.6" y2="1724.0" stroke-width="1.5"/><line x1="528.0" y1="434.0" x2="528.0" y2="1724.0" stroke-width="1.5"/><line x1="672.0" y1="434.0" x2="672.0" y2="1724.0" stroke-width="1.5"/><line x1="1036.3" y1="434.0" x2="1036.3" y2="1724.0" stroke-width="1.5"/><line x1="1097.6" y1="434.0" x2="1097.6" y2="906.0" stroke-width="2.2"/><line x1="1097.6" y1="906.0" x2="1097.6" y2="1724.0" stroke-width="1.5"/><line x1="1221.7" y1="594.6" x2="1221.7" y2="906.0" stroke-width="2.2"/><line x1="1221.7" y1="906.0" x2="1221.7" y2="1724.0" stroke-width="1.5"/><line x1="1366.2" y1="906.0" x2="1366.2" y2="1724.0" stroke-width="1.5"/><line x1="1413.7" y1="751.8" x2="1413.7" y2="1724.0" stroke-width="1.5"/><line x1="1714.0" y1="434.0" x2="1714.0" y2="1724.0" stroke-width="1.5"/><line x1="1860.8" y1="594.6" x2="1860.8" y2="1724.0" stroke-width="1.5"/><line x1="2114.4" y1="434.0" x2="2114.4" y2="1693.5" stroke-width="1.5"/><line x1="2177.0" y1="751.8" x2="2177.0" y2="1222.9" stroke-width="1.5"/><line x1="2177.0" y1="1222.9" x2="2177.0" y2="1724.0" stroke-width="1.5"/><line x1="2479.4" y1="434.0" x2="2479.4" y2="1746.6" stroke-width="1.5"/><line x1="2575.3" y1="434.0" x2="2575.3" y2="1746.6" stroke-width="1.5"/><line x1="2776.3" y1="434.0" x2="2776.3" y2="1746.6" stroke-width="1.5"/><line x1="2958.5" y1="594.6" x2="2958.5" y2="1387.9" stroke-width="1.5"/><line x1="2900.6" y1="1553.8" x2="2900.6" y2="1746.6" stroke-width="2.6"/><line x1="188.9" y1="434.0" x2="768.6" y2="434.0" stroke-width="2.0"/><line x1="400.0" y1="401.0" x2="768.6" y2="401.0" stroke-width="2.6"/><line x1="877.0" y1="434.0" x2="1097.6" y2="434.0" stroke-width="2.2"/><line x1="1714.0" y1="434.0" x2="1970.3" y2="434.0" stroke-width="2.2"/><line x1="1970.3" y1="434.0" x2="2316.3" y2="434.0" stroke-width="2.6"/><line x1="2316.3" y1="434.0" x2="3039.7" y2="434.0" stroke-width="2.6"/><line x1="1.5" y1="594.6" x2="32.5" y2="594.6" stroke-width="1.7"/><line x1="188.9" y1="594.6" x2="768.6" y2="594.6" stroke-width="1.7"/><line x1="877.0" y1="594.6" x2="1097.6" y2="594.6" stroke-width="1.7"/><line x1="1221.7" y1="594.6" x2="1860.8" y2="594.6" stroke-width="1.7"/><line x1="1.5" y1="751.8" x2="32.5" y2="751.8" stroke-width="1.7"/><line x1="188.9" y1="751.8" x2="1097.6" y2="751.8" stroke-width="1.7"/><line x1="1221.7" y1="751.8" x2="1860.8" y2="751.8" stroke-width="1.7"/><line x1="1.5" y1="906.0" x2="32.5" y2="906.0" stroke-width="1.7"/><line x1="188.9" y1="906.0" x2="1097.6" y2="906.0" stroke-width="1.7"/><line x1="1097.6" y1="906.0" x2="1221.7" y2="906.0" stroke-width="1.7"/><line x1="1221.7" y1="906.0" x2="1860.8" y2="906.0" stroke-width="1.7"/><line x1="1.5" y1="1061.8" x2="32.5" y2="1061.8" stroke-width="1.7"/><line x1="32.5" y1="1061.8" x2="188.9" y2="1061.8" stroke-width="1.7"/><line x1="188.9" y1="1061.8" x2="1097.6" y2="1061.8" stroke-width="1.7"/><line x1="1097.6" y1="1061.8" x2="1221.7" y2="1061.8" stroke-width="1.7"/><line x1="1221.7" y1="1061.8" x2="1860.8" y2="1061.8" stroke-width="1.7"/><line x1="1.5" y1="1222.9" x2="32.5" y2="1222.9" stroke-width="1.7"/><line x1="188.9" y1="1222.9" x2="1097.6" y2="1222.9" stroke-width="1.7"/><line x1="1097.6" y1="1222.9" x2="1221.7" y2="1222.9" stroke-width="1.7"/><line x1="1221.7" y1="1222.9" x2="1860.8" y2="1222.9" stroke-width="1.7"/><line x1="1.5" y1="1387.9" x2="32.5" y2="1387.9" stroke-width="1.7"/><line x1="32.5" y1="1387.9" x2="188.9" y2="1387.9" stroke-width="1.7"/><line x1="188.9" y1="1387.9" x2="1097.6" y2="1387.9" stroke-width="1.7"/><line x1="1097.6" y1="1387.9" x2="1221.7" y2="1387.9" stroke-width="1.7"/><line x1="1221.7" y1="1387.9" x2="1860.8" y2="1387.9" stroke-width="1.7"/><line x1="1.5" y1="1553.8" x2="32.5" y2="1553.8" stroke-width="1.7"/><line x1="32.5" y1="1553.8" x2="188.9" y2="1553.8" stroke-width="1.7"/><line x1="188.9" y1="1553.8" x2="1097.6" y2="1553.8" stroke-width="1.7"/><line x1="1097.6" y1="1553.8" x2="1221.7" y2="1553.8" stroke-width="1.7"/><line x1="1221.7" y1="1553.8" x2="1860.8" y2="1553.8" stroke-width="1.7"/><line x1="1221.7" y1="594.6" x2="1553.8" y2="594.6" stroke-width="2.2"/><line x1="1097.6" y1="906.0" x2="1221.7" y2="906.0" stroke-width="2.2"/><line x1="33.8" y1="1061.8" x2="188.9" y2="1387.9" stroke-width="1.8"/><line x1="1860.8" y1="594.6" x2="1970.3" y2="594.6" stroke-width="1.7"/><line x1="1860.8" y1="816.8" x2="1970.3" y2="816.8" stroke-width="1.7"/><line x1="1860.8" y1="1140.4" x2="1970.3" y2="1140.4" stroke-width="1.7"/><line x1="1860.8" y1="1467.6" x2="1970.3" y2="1467.6" stroke-width="1.7"/><line x1="2114.4" y1="594.6" x2="2316.3" y2="594.6" stroke-width="1.7"/><line x1="2114.4" y1="751.8" x2="2316.3" y2="751.8" stroke-width="1.7"/><line x1="2177.0" y1="906.0" x2="2316.3" y2="906.0" stroke-width="1.7"/><line x1="2177.0" y1="1061.8" x2="2316.3" y2="1061.8" stroke-width="1.7"/><line x1="2177.0" y1="1222.9" x2="2316.3" y2="1222.9" stroke-width="1.7"/><line x1="2177.0" y1="1387.9" x2="2316.3" y2="1387.9" stroke-width="1.7"/><line x1="2114.4" y1="1061.8" x2="2177.0" y2="1061.8" stroke-width="1.7"/><line x1="1970.3" y1="1553.8" x2="2316.3" y2="1553.8" stroke-width="2.4"/><line x1="1970.3" y1="1693.5" x2="2177.0" y2="1693.5" stroke-width="2.1"/><line x1="2114.4" y1="751.8" x2="1970.3" y2="900.4" stroke-width="2.0"/><line x1="1970.3" y1="1220.5" x2="2114.4" y2="1381.0" stroke-width="2.0"/><line x1="1970.3" y1="986.0" x2="2114.4" y2="986.0" stroke-width="2.0" stroke-dasharray="12.7 5.1"/><line x1="2316.3" y1="594.6" x2="2870.8" y2="594.6" stroke-width="1.7"/><line x1="2316.3" y1="751.8" x2="2870.8" y2="751.8" stroke-width="1.7"/><line x1="2316.3" y1="906.0" x2="2870.8" y2="906.0" stroke-width="1.7"/><line x1="2316.3" y1="1061.8" x2="2669.2" y2="1061.8" stroke-width="1.7"/><line x1="2776.3" y1="1061.8" x2="2870.8" y2="1061.8" stroke-width="1.7"/><line x1="2316.3" y1="1222.9" x2="2870.8" y2="1222.9" stroke-width="1.7"/><line x1="2316.3" y1="1387.9" x2="2479.4" y2="1387.9" stroke-width="1.7"/><line x1="2479.4" y1="1387.9" x2="2870.8" y2="1387.9" stroke-width="2.0" stroke-dasharray="10.2 7.2"/><line x1="2316.3" y1="1553.8" x2="2900.6" y2="1553.8" stroke-width="2.6"/><line x1="2870.8" y1="594.6" x2="3039.7" y2="594.6" stroke-width="1.7"/><line x1="2870.8" y1="985.9" x2="2958.5" y2="985.9" stroke-width="1.7"/><line x1="2870.8" y1="1387.9" x2="3039.7" y2="1387.9" stroke-width="2.2"/><line x1="2958.5" y1="985.9" x2="3039.7" y2="789.0" stroke-width="1.8"/><line x1="2958.5" y1="985.9" x2="3039.7" y2="1195.0" stroke-width="1.0"/><line x1="1.5" y1="1724.0" x2="2316.3" y2="1724.0" stroke-width="2.6"/><line x1="2316.3" y1="1724.0" x2="2900.6" y2="1724.0" stroke-width="1.5"/><line x1="2316.3" y1="1746.6" x2="2900.6" y2="1746.6" stroke-width="2.6"/><line x1="1.5" y1="434.0" x2="28.7" y2="434.0" stroke-width="1.7"/><line x1="1.5" y1="1804.0" x2="1222.7" y2="1804.0" stroke-width="2.4"/><line x1="1.5" y1="2012.0" x2="1222.7" y2="2012.0" stroke-width="2.4"/><line x1="28.7" y1="1804.0" x2="28.7" y2="2012.0" stroke-width="1.2"/><line x1="32.5" y1="1804.0" x2="32.5" y2="2012.0" stroke-width="1.3"/><line x1="188.9" y1="1804.0" x2="188.9" y2="2012.0" stroke-width="1.6"/><line x1="350.4" y1="1804.0" x2="350.4" y2="2012.0" stroke-width="1.5"/><line x1="400.0" y1="1804.0" x2="400.0" y2="2012.0" stroke-width="1.5"/><line x1="527.7" y1="1804.0" x2="527.7" y2="2012.0" stroke-width="1.5"/><line x1="719.8" y1="1804.0" x2="719.8" y2="2012.0" stroke-width="2.0" stroke-dasharray="9 5.2"/><line x1="957.8" y1="1804.0" x2="957.8" y2="2012.0" stroke-width="2.0" stroke-dasharray="9 5.2"/><line x1="1222.7" y1="1804.0" x2="1222.7" y2="2012.0" stroke-width="2.6"/><rect x="2316.3" y="1804.0" width="723.9" height="208.0" fill="none" stroke-width="2.6"/><line x1="2479.4" y1="1804.0" x2="2479.4" y2="2012.0" stroke-width="1.5"/><line x1="2575.3" y1="1804.0" x2="2575.3" y2="2012.0" stroke-width="1.5"/><line x1="2776.3" y1="1804.0" x2="2776.3" y2="2012.0" stroke-width="1.5"/><line x1="2669.2" y1="1804.0" x2="2669.2" y2="2012.0" stroke-width="2.2"/><line x1="2900.6" y1="1804.0" x2="2900.6" y2="2012.0" stroke-width="2.2"/></g><g font-family='"Liberation Sans", sans-serif' font-size="13.4" fill="#000" style="font-kerning:none"><g fill-opacity=".88"><text transform="translate(15.2 38.0) scale(0.85 1)" text-anchor="middle">I</text><text transform="translate(15.2 74.5) scale(0.85 1)" text-anchor="middle">II</text><text transform="translate(15.2 143.0) scale(0.85 1)" text-anchor="middle">III</text><text transform="translate(15.2 217.0) scale(0.85 1)" text-anchor="middle">IV</text><text transform="translate(15.2 249.0) scale(0.85 1)" text-anchor="middle">V</text><text transform="translate(15.2 293.0) scale(0.85 1)" text-anchor="middle">VI</text><text transform="translate(15.2 336.0) scale(0.85 1)" text-anchor="middle">VII</text><text transform="translate(15.2 356.0) scale(0.85 1)" text-anchor="middle">VIII</text><text transform="translate(15.2 370.6) scale(0.85 1)" text-anchor="middle">IX</text><text transform="translate(216.0 71.6) scale(0.86 1)" font-size="14.6" text-anchor="middle" letter-spacing="1.0">extrémní</text><text transform="translate(635.0 72.6) scale(0.86 1)" font-size="14.6" text-anchor="middle" letter-spacing="1.0">kyselá</text><text transform="translate(1271.0 72.6) scale(0.86 1)" font-size="14.6" text-anchor="middle" letter-spacing="1.0">živná</text><text transform="translate(2491.0 72.6) scale(0.86 1)" font-size="14.6" text-anchor="middle" letter-spacing="1.0">oglejená</text><text transform="translate(2767.0 72.6) scale(0.86 1)" font-size="14.6" text-anchor="middle" letter-spacing="1.0">podmáčená</text><text transform="translate(2955.6 72.6) scale(0.86 1)" font-size="14.6" text-anchor="middle" letter-spacing="1.0">rašelinná</text><text transform="translate(1968.0 57.6) scale(0.86 1)" font-size="14.6" text-anchor="middle" letter-spacing="1.0">obohacená</text><text transform="translate(1771.6 83.6) scale(0.86 1)" font-size="14.6" text-anchor="middle" letter-spacing="1.0">humusem /javorová/</text><text transform="translate(2152.0 83.6) scale(0.86 1)" font-size="14.6" text-anchor="middle" letter-spacing="1.0">vodou /jasanová/</text><text transform="translate(105.5 118.5) scale(0.86 1)" font-size="14.6" text-anchor="middle" letter-spacing="0.9">xerotermní</text><text transform="translate(105.5 177.3) scale(0.86 1)" text-anchor="middle" letter-spacing="0.4">xerotermní</text><text transform="translate(105.5 203.0) scale(0.87 1)" text-anchor="middle" letter-spacing="0.3">vápence</text><text transform="translate(105.5 217.5) scale(0.87 1)" text-anchor="middle" letter-spacing="0.3">a boh. podklady</text><text transform="translate(105.5 248.4) scale(0.87 1)" text-anchor="middle" letter-spacing="0.3">RZ, RN, HNc</text><text transform="translate(105.5 278.7) scale(0.87 1)" text-anchor="middle" letter-spacing="0.2">Dictam, Teucr</text><text transform="translate(105.5 292.4) scale(0.87 1)" text-anchor="middle" letter-spacing="0.2">Brachpin, Litopur</text><text transform="translate(105.5 306.2) scale(0.87 1)" text-anchor="middle" letter-spacing="0.2">Sesl</text><text transform="translate(105.5 335.6) scale(0.87 1)" text-anchor="middle" letter-spacing="0.3">V, - V</text><text transform="translate(105.5 355.6) scale(0.87 1)" text-anchor="middle" letter-spacing="0.3">O</text><text transform="translate(105.5 370.6) scale(0.87 1)" text-anchor="middle" letter-spacing="0.3">1X8, 1X9 lesostep</text><text transform="translate(269.6 118.5) scale(0.86 1)" font-size="14.6" text-anchor="middle" letter-spacing="0.9">zakrslá</text><text transform="translate(269.6 177.3) scale(0.86 1)" text-anchor="middle" letter-spacing="0.4">zakrslá</text><text transform="translate(269.6 203.0) scale(0.87 1)" text-anchor="middle" letter-spacing="0.3">exponované prahy</text><text transform="translate(269.6 217.5) scale(0.87 1)" text-anchor="middle" letter-spacing="0.3">hřebeny</text><text transform="translate(269.6 248.4) scale(0.87 1)" text-anchor="middle" letter-spacing="0.3">KAt, KAs, RN</text><text transform="translate(269.6 293.0) scale(0.87 1)" text-anchor="middle" letter-spacing="0.2">viz.M, K, N / C/</text><text transform="translate(269.6 335.6) scale(0.87 1)" text-anchor="middle" letter-spacing="0.3">V, - V</text><text transform="translate(269.6 355.6) scale(0.87 1)" text-anchor="middle" letter-spacing="0.3">O</text><text transform="translate(269.6 370.6) scale(0.87 1)" text-anchor="middle" letter-spacing="0.3">8 živná, 9 skeletová</text><text transform="translate(375.2 113.5) scale(0.86 1)" font-size="14.6" text-anchor="middle" letter-spacing="0.9">skele-</text><text transform="translate(375.2 130.5) scale(0.86 1)" font-size="14.6" text-anchor="middle" letter-spacing="0.9">tovitá</text><text transform="translate(375.2 177.3) scale(0.86 1)" text-anchor="middle" letter-spacing="0.4">skelet.</text><text transform="translate(375.2 203.0) scale(0.87 1)" text-anchor="middle" letter-spacing="0.3">balv.</text><text transform="translate(375.2 217.5) scale(0.87 1)" text-anchor="middle" letter-spacing="0.3">svahy</text><text transform="translate(375.2 248.4) scale(0.87 1)" text-anchor="middle" letter-spacing="0.3">- RN</text><text transform="translate(375.2 335.6) scale(0.87 1)" text-anchor="middle" letter-spacing="0.3">III- IV</text><text transform="translate(375.2 355.6) scale(0.87 1)" text-anchor="middle" letter-spacing="0.3">O</text><text transform="translate(464.0 118.5) scale(0.86 1)" font-size="14.6" text-anchor="middle" letter-spacing="0.9">chudá</text><text transform="translate(464.0 177.3) scale(0.86 1)" text-anchor="middle" letter-spacing="0.4">Myrtilus</text><text transform="translate(464.0 203.0) scale(0.87 1)" text-anchor="middle" letter-spacing="0.3">velmi chudé</text><text transform="translate(464.0 217.5) scale(0.87 1)" text-anchor="middle" letter-spacing="0.3">podloží</text><text transform="translate(464.0 248.4) scale(0.87 1)" text-anchor="middle" letter-spacing="0.3">PZ - KAz'</text><text transform="translate(464.0 272.0) scale(0.87 1)" text-anchor="middle" letter-spacing="0.2">My</text><text transform="translate(464.0 286.0) scale(0.87 1)" text-anchor="middle" letter-spacing="0.2">Vitid</text><text transform="translate(464.0 300.0) scale(0.87 1)" text-anchor="middle" letter-spacing="0.2">kys. mechy</text><text transform="translate(464.0 314.0) scale(0.87 1)" text-anchor="middle" letter-spacing="0.2">Sf</text><text transform="translate(464.0 335.6) scale(0.87 1)" text-anchor="middle" letter-spacing="0.3">IV - V</text><text transform="translate(464.0 355.6) scale(0.87 1)" text-anchor="middle" letter-spacing="0.3">P</text><text transform="translate(464.0 370.6) scale(0.87 1)" text-anchor="middle" letter-spacing="0.3">9 svahová</text><text transform="translate(600.0 118.5) scale(0.86 1)" font-size="14.6" text-anchor="middle" letter-spacing="0.9">normální</text><text transform="translate(600.0 177.3) scale(0.86 1)" text-anchor="middle" letter-spacing="0.4">kyselá</text><text transform="translate(600.0 203.0) scale(0.87 1)" text-anchor="middle" letter-spacing="0.3">kyselé podloží</text><text transform="translate(600.0 217.5) scale(0.87 1)" text-anchor="middle" letter-spacing="0.3">prům. poloha</text><text transform="translate(600.0 248.4) scale(0.87 1)" text-anchor="middle" letter-spacing="0.3">KAd - KP - PZ</text><text transform="translate(600.0 335.6) scale(0.87 1)" text-anchor="middle" letter-spacing="0.3">III - IV</text><text transform="translate(600.0 355.6) scale(0.87 1)" text-anchor="middle" letter-spacing="0.3">P</text><text transform="translate(600.0 370.6) scale(0.87 1)" text-anchor="middle" letter-spacing="0.3">8 terasová, 9 svahová</text><text transform="translate(720.3 113.5) scale(0.86 1)" font-size="14.6" text-anchor="middle" letter-spacing="0.9">kamenitá</text><text transform="translate(720.3 130.5) scale(0.86 1)" font-size="14.6" text-anchor="middle" letter-spacing="0.9">/svahová/</text><text transform="translate(720.3 177.3) scale(0.86 1)" text-anchor="middle" letter-spacing="0.4">nevyv.půdy</text><text transform="translate(720.3 196.5) scale(0.87 1)" text-anchor="middle" letter-spacing="0.3">kam. svahy</text><text transform="translate(720.3 211.0) scale(0.87 1)" text-anchor="middle" letter-spacing="0.3">svěží-Drys</text><text transform="translate(720.3 225.5) scale(0.87 1)" text-anchor="middle" letter-spacing="0.3">/sušší Calar/</text><text transform="translate(720.3 248.4) scale(0.87 1)" text-anchor="middle" letter-spacing="0.3">KAds, KPs</text><text transform="translate(720.3 272.0) scale(0.87 1)" text-anchor="middle" letter-spacing="0.2">Drys</text><text transform="translate(720.3 286.0) scale(0.87 1)" text-anchor="middle" letter-spacing="0.2">Calar</text><text transform="translate(720.3 300.0) scale(0.87 1)" text-anchor="middle" letter-spacing="0.2">Dicr, O</text><text transform="translate(720.3 314.0) scale(0.87 1)" text-anchor="middle" letter-spacing="0.2">Carpilul, My</text><text transform="translate(720.3 335.6) scale(0.87 1)" text-anchor="middle" letter-spacing="0.3">III - IV</text><text transform="translate(720.3 355.6) scale(0.87 1)" text-anchor="middle" letter-spacing="0.3">P /O/</text><text transform="translate(822.8 118.5) scale(0.86 1)" font-size="14.6" text-anchor="middle" letter-spacing="0.9">uléhavá</text><text transform="translate(822.8 177.3) scale(0.86 1)" text-anchor="middle" letter-spacing="0.4">ilimerizovaná</text><text transform="translate(822.8 203.0) scale(0.87 1)" text-anchor="middle" letter-spacing="0.3">chudší hlíny</text><text transform="translate(822.8 217.5) scale(0.87 1)" text-anchor="middle" letter-spacing="0.3">luvizemě /ogl./</text><text transform="translate(822.8 248.4) scale(0.87 1)" text-anchor="middle" letter-spacing="0.3">LUd</text><text transform="translate(822.8 272.0) scale(0.87 1)" text-anchor="middle" letter-spacing="0.2">Lp</text><text transform="translate(822.8 286.0) scale(0.87 1)" text-anchor="middle" letter-spacing="0.2">Conv, Melamp</text><text transform="translate(822.8 300.0) scale(0.87 1)" text-anchor="middle" letter-spacing="0.2">Carpilul, My</text><text transform="translate(822.8 314.0) scale(0.87 1)" text-anchor="middle" letter-spacing="0.2">Lp - Calar</text><text transform="translate(822.8 335.6) scale(0.87 1)" text-anchor="middle" letter-spacing="0.3">III - IV</text><text transform="translate(822.8 355.6) scale(0.87 1)" text-anchor="middle" letter-spacing="0.3">P</text><text transform="translate(956.6 118.5) scale(0.86 1)" font-size="14.6" text-anchor="middle" letter-spacing="0.9">středně bohatá</text><text transform="translate(956.6 177.3) scale(0.86 1)" text-anchor="middle" letter-spacing="0.4">svěží</text><text transform="translate(956.6 203.0) scale(0.87 1)" text-anchor="middle" letter-spacing="0.3">přechody kyselé</text><text transform="translate(956.6 217.5) scale(0.87 1)" text-anchor="middle" letter-spacing="0.3">a živné řady</text><text transform="translate(956.6 248.4) scale(0.87 1)" text-anchor="middle" letter-spacing="0.3">KAma'- KP</text><text transform="translate(956.6 272.0) scale(0.87 1)" text-anchor="middle" letter-spacing="0.2">O, Fi, Garlot, Cardig</text><text transform="translate(956.6 286.0) scale(0.87 1)" text-anchor="middle" letter-spacing="0.2">Myc, Rui, Phed, /Calar/</text><text transform="translate(956.6 300.0) scale(0.87 1)" text-anchor="middle" letter-spacing="0.2">Fs, Milef, Pren</text><text transform="translate(956.6 314.0) scale(0.87 1)" text-anchor="middle" letter-spacing="0.2">Ln - /A/</text><text transform="translate(956.6 335.6) scale(0.87 1)" text-anchor="middle" letter-spacing="0.3">II - III</text><text transform="translate(956.6 355.6) scale(0.87 1)" text-anchor="middle" letter-spacing="0.3">P</text><text transform="translate(956.6 370.6) scale(0.87 1)" text-anchor="middle" letter-spacing="0.3">9 svahová</text><text transform="translate(1066.9 113.5) scale(0.86 1)" font-size="14.6" text-anchor="middle" letter-spacing="0.9">svahová</text><text transform="translate(1066.9 130.5) scale(0.86 1)" font-size="14.6" text-anchor="middle" letter-spacing="0.9">/kam./</text><text transform="translate(1066.9 177.3) scale(0.86 1)" text-anchor="middle" letter-spacing="0.4">Filices</text><text transform="translate(1066.9 196.5) scale(0.87 1)" text-anchor="middle" letter-spacing="0.3">příkré</text><text transform="translate(1066.9 211.0) scale(0.87 1)" text-anchor="middle" letter-spacing="0.3">svahy</text><text transform="translate(1066.9 225.5) scale(0.87 1)" text-anchor="middle" letter-spacing="0.3">/rokle/</text><text transform="translate(1066.9 248.4) scale(0.87 1)" text-anchor="middle" letter-spacing="0.3">KAma'</text><text transform="translate(1066.9 272.0) scale(0.87 1)" text-anchor="middle" letter-spacing="0.2">Fi</text><text transform="translate(1066.9 286.0) scale(0.87 1)" text-anchor="middle" letter-spacing="0.2">A, O</text><text transform="translate(1066.9 300.0) scale(0.87 1)" text-anchor="middle" letter-spacing="0.2">Senfuch</text><text transform="translate(1066.9 314.0) scale(0.87 1)" text-anchor="middle" letter-spacing="0.2">Pren</text><text transform="translate(1066.9 335.6) scale(0.87 1)" text-anchor="middle" letter-spacing="0.3">I - III</text><text transform="translate(1066.9 355.6) scale(0.87 1)" text-anchor="middle" letter-spacing="0.3">P /O/</text><text transform="translate(1066.9 370.6) scale(0.87 1)" text-anchor="middle" letter-spacing="0.3">9 roklin.</text><text transform="translate(1159.7 113.5) scale(0.86 1)" font-size="14.6" text-anchor="middle" letter-spacing="0.9">vysychavá</text><text transform="translate(1159.7 130.5) scale(0.86 1)" font-size="14.6" text-anchor="middle" letter-spacing="0.9">/suchá, kam./</text><text transform="translate(1159.7 177.3) scale(0.86 1)" text-anchor="middle" letter-spacing="0.4">citlivá</text><text transform="translate(1159.7 203.0) scale(0.87 1)" text-anchor="middle" letter-spacing="0.3">slunné, suché</text><text transform="translate(1159.7 217.5) scale(0.87 1)" text-anchor="middle" letter-spacing="0.3">polohy</text><text transform="translate(1159.7 248.4) scale(0.87 1)" text-anchor="middle" letter-spacing="0.3">KAms, KAv, RZ</text><text transform="translate(1159.7 272.0) scale(0.87 1)" text-anchor="middle" letter-spacing="0.2">Pn</text><text transform="translate(1159.7 286.0) scale(0.87 1)" text-anchor="middle" letter-spacing="0.2">Chryscor, Mn</text><text transform="translate(1159.7 300.0) scale(0.87 1)" text-anchor="middle" letter-spacing="0.2">Brachpin, Campers</text><text transform="translate(1159.7 314.0) scale(0.87 1)" text-anchor="middle" letter-spacing="0.2">/Ca - Brachsilv/</text><text transform="translate(1159.7 335.6) scale(0.87 1)" text-anchor="middle" letter-spacing="0.3">III - IV</text><text transform="translate(1159.7 355.6) scale(0.87 1)" text-anchor="middle" letter-spacing="0.3">P /O/</text><text transform="translate(1317.7 118.5) scale(0.86 1)" font-size="14.6" text-anchor="middle" letter-spacing="0.9">normální</text><text transform="translate(1317.7 196.5) scale(0.87 1)" text-anchor="middle" letter-spacing="0.3">živné podloží</text><text transform="translate(1317.7 211.0) scale(0.87 1)" text-anchor="middle" letter-spacing="0.3">průměrná poloha</text><text transform="translate(1317.7 225.5) scale(0.87 1)" text-anchor="middle" letter-spacing="0.3">/1B +/- hlinitá/</text><text transform="translate(1317.7 335.6) scale(0.87 1)" text-anchor="middle" letter-spacing="0.3">I - II</text><text transform="translate(1317.7 355.6) scale(0.87 1)" text-anchor="middle" letter-spacing="0.3">P</text><text transform="translate(1317.7 370.6) scale(0.87 1)" text-anchor="middle" letter-spacing="0.3">9 svahová</text><text transform="translate(1483.8 113.5) scale(0.86 1)" font-size="14.6" text-anchor="middle" letter-spacing="0.9">hlinitá</text><text transform="translate(1483.8 130.5) scale(0.86 1)" font-size="14.6" text-anchor="middle" letter-spacing="0.9">/boh. uléhavá/</text><text transform="translate(1483.8 177.3) scale(0.86 1)" text-anchor="middle" letter-spacing="0.4">hlinitá</text><text transform="translate(1483.8 196.5) scale(0.87 1)" text-anchor="middle" letter-spacing="0.3">boh. hlíny</text><text transform="translate(1483.8 211.0) scale(0.87 1)" text-anchor="middle" letter-spacing="0.3">hnědozemě /ogl./</text><text transform="translate(1483.8 225.5) scale(0.87 1)" text-anchor="middle" letter-spacing="0.3">/spraše/</text><text transform="translate(1483.8 248.4) scale(0.87 1)" text-anchor="middle" letter-spacing="0.3">HN, KAl</text><text transform="translate(1483.8 272.0) scale(0.87 1)" text-anchor="middle" letter-spacing="0.2">O, Cp</text><text transform="translate(1483.8 286.0) scale(0.87 1)" text-anchor="middle" letter-spacing="0.2">Carmont, Dactaš</text><text transform="translate(1483.8 300.0) scale(0.87 1)" text-anchor="middle" letter-spacing="0.2">Lp, Conv, Mellit</text><text transform="translate(1483.8 314.0) scale(0.87 1)" text-anchor="middle" letter-spacing="0.2">A - O, Senfuch - Fi</text><text transform="translate(1483.8 335.6) scale(0.87 1)" text-anchor="middle" letter-spacing="0.3">I - II</text><text transform="translate(1483.8 355.6) scale(0.87 1)" text-anchor="middle" letter-spacing="0.3">P</text><text transform="translate(1633.9 118.5) scale(0.86 1)" font-size="14.6" text-anchor="middle" letter-spacing="0.9">hlinitá</text><text transform="translate(1633.9 177.3) scale(0.86 1)" text-anchor="middle" letter-spacing="0.4">deluvia</text><text transform="translate(1633.9 196.5) scale(0.87 1)" text-anchor="middle" letter-spacing="0.3">deluvia hlinitá</text><text transform="translate(1633.9 211.0) scale(0.87 1)" text-anchor="middle" letter-spacing="0.3">/slabě ogl./ - slínovce</text><text transform="translate(1633.9 225.5) scale(0.87 1)" text-anchor="middle" letter-spacing="0.3">nitrofilní</text><text transform="translate(1633.9 248.4) scale(0.87 1)" text-anchor="middle" letter-spacing="0.3">KAme', KAg, SM, HM</text><text transform="translate(1633.9 335.6) scale(0.87 1)" text-anchor="middle" letter-spacing="0.3">I -II</text><text transform="translate(1633.9 355.6) scale(0.87 1)" text-anchor="middle" letter-spacing="0.3">PX</text><text transform="translate(1633.9 370.6) scale(0.87 1)" text-anchor="middle" letter-spacing="0.3">9 sesuvná</text><text transform="translate(1787.4 118.5) scale(0.86 1)" font-size="14.6" text-anchor="middle" letter-spacing="0.9">kamenitá</text><text transform="translate(1787.4 177.3) scale(0.86 1)" text-anchor="middle" letter-spacing="0.4">acerózní</text><text transform="translate(1787.4 203.0) scale(0.87 1)" text-anchor="middle" letter-spacing="0.3">zahliněné sutí</text><text transform="translate(1787.4 217.5) scale(0.87 1)" text-anchor="middle" letter-spacing="0.3">nitrofilní</text><text transform="translate(1787.4 248.4) scale(0.87 1)" text-anchor="middle" letter-spacing="0.3">KAns, RZ</text><text transform="translate(1787.4 335.6) scale(0.87 1)" text-anchor="middle" letter-spacing="0.3">III - IV</text><text transform="translate(1787.4 355.6) scale(0.87 1)" text-anchor="middle" letter-spacing="0.3">P /O/</text><text transform="translate(1915.5 118.5) scale(0.86 1)" font-size="14.6" text-anchor="middle" letter-spacing="0.9">suťová</text><text transform="translate(1915.5 177.3) scale(0.86 1)" text-anchor="middle" letter-spacing="0.4">javořiny</text><text transform="translate(1915.5 196.5) scale(0.87 1)" text-anchor="middle" letter-spacing="0.3">suti</text><text transform="translate(1915.5 211.0) scale(0.87 1)" text-anchor="middle" letter-spacing="0.3">- nitrofilní</text><text transform="translate(1915.5 225.5) scale(0.87 1)" text-anchor="middle" letter-spacing="0.3">/rokle/</text><text transform="translate(1915.5 248.4) scale(0.87 1)" text-anchor="middle" letter-spacing="0.3">RNn, RNs</text><text transform="translate(1915.5 335.6) scale(0.87 1)" text-anchor="middle" letter-spacing="0.3">III - IV</text><text transform="translate(1915.5 355.6) scale(0.87 1)" text-anchor="middle" letter-spacing="0.3">O</text><text transform="translate(1915.5 370.6) scale(0.87 1)" text-anchor="middle" letter-spacing="0.3">9 roklinová</text><text transform="translate(2042.3 118.5) scale(0.86 1)" font-size="14.6" text-anchor="middle" letter-spacing="0.9">lužní</text><text transform="translate(2042.3 177.3) scale(0.86 1)" text-anchor="middle" letter-spacing="0.4">luhy</text><text transform="translate(2042.3 196.5) scale(0.87 1)" text-anchor="middle" letter-spacing="0.3">úvalové luhy</text><text transform="translate(2042.3 211.0) scale(0.87 1)" text-anchor="middle" letter-spacing="0.3">/údolní luhy -</text><text transform="translate(2042.3 225.5) scale(0.87 1)" text-anchor="middle" letter-spacing="0.3">olšové/</text><text transform="translate(2042.3 335.6) scale(0.87 1)" text-anchor="middle" letter-spacing="0.3">I - II</text><text transform="translate(2042.3 355.6) scale(0.87 1)" text-anchor="middle" letter-spacing="0.3">PX</text><text transform="translate(2145.7 118.5) scale(0.86 1)" font-size="14.6" text-anchor="middle" letter-spacing="0.9">údolní</text><text transform="translate(2145.7 177.3) scale(0.86 1)" text-anchor="middle" letter-spacing="0.4">úžlabiny</text><text transform="translate(2145.7 196.5) scale(0.87 1)" text-anchor="middle" letter-spacing="0.3">úžlabní</text><text transform="translate(2145.7 211.0) scale(0.87 1)" text-anchor="middle" letter-spacing="0.3">báze a dna</text><text transform="translate(2145.7 225.5) scale(0.87 1)" text-anchor="middle" letter-spacing="0.3">/1U - luh/</text><text transform="translate(2145.7 335.6) scale(0.87 1)" text-anchor="middle" letter-spacing="0.3">I - II</text><text transform="translate(2145.7 355.6) scale(0.87 1)" text-anchor="middle" letter-spacing="0.3">P</text><text transform="translate(2246.7 113.5) scale(0.86 1)" font-size="14.6" text-anchor="middle" letter-spacing="0.9">vlhká</text><text transform="translate(2246.7 130.5) scale(0.86 1)" font-size="14.6" text-anchor="middle" letter-spacing="0.9">/podmáčená/</text><text transform="translate(2246.7 177.3) scale(0.86 1)" text-anchor="middle" letter-spacing="0.4">vlhká</text><text transform="translate(2246.7 196.5) scale(0.87 1)" text-anchor="middle" letter-spacing="0.3">ogl. deluv. - sv. glej</text><text transform="translate(2246.7 211.0) scale(0.87 1)" text-anchor="middle" letter-spacing="0.3">mírně nitrofilní</text><text transform="translate(2246.7 225.5) scale(0.87 1)" text-anchor="middle" letter-spacing="0.3">báze svahů</text><text transform="translate(2246.7 248.4) scale(0.87 1)" text-anchor="middle" letter-spacing="0.3">KAg, GLe</text><text transform="translate(2246.7 335.6) scale(0.87 1)" text-anchor="middle" letter-spacing="0.3">I - II</text><text transform="translate(2246.7 355.6) scale(0.87 1)" text-anchor="middle" letter-spacing="0.3">P</text><text transform="translate(2246.7 370.6) scale(0.87 1)" text-anchor="middle" letter-spacing="0.3">9 podmáčená</text><text transform="translate(2400.9 118.5) scale(0.86 1)" font-size="14.6" text-anchor="middle" letter-spacing="0.9">středně bohatá</text><text transform="translate(2400.9 177.3) scale(0.86 1)" text-anchor="middle" letter-spacing="0.4">oglejená</text><text transform="translate(2400.9 196.5) scale(0.87 1)" text-anchor="middle" letter-spacing="0.3">středně bohaté</text><text transform="translate(2400.9 211.0) scale(0.87 1)" text-anchor="middle" letter-spacing="0.3">střídavě  vlhké</text><text transform="translate(2400.9 225.5) scale(0.87 1)" text-anchor="middle" letter-spacing="0.3">bohaté - H /jd/</text><text transform="translate(2400.9 248.4) scale(0.87 1)" text-anchor="middle" letter-spacing="0.3">KAg - PG</text><text transform="translate(2400.9 335.6) scale(0.87 1)" text-anchor="middle" letter-spacing="0.3">I - II /III/</text><text transform="translate(2400.9 355.6) scale(0.87 1)" text-anchor="middle" letter-spacing="0.3">P</text><text transform="translate(2400.9 370.6) scale(0.87 1)" text-anchor="middle" letter-spacing="0.3">0O9 bř(db)BO</text><text transform="translate(2529.4 118.5) scale(0.86 1)" font-size="14.6" text-anchor="middle" letter-spacing="0.9">kyselá</text><text transform="translate(2529.4 177.3) scale(0.86 1)" text-anchor="middle" letter-spacing="0.4">pseudoglej</text><text transform="translate(2529.4 196.5) scale(0.87 1)" text-anchor="middle" letter-spacing="0.3">kyselé,</text><text transform="translate(2529.4 211.0) scale(0.87 1)" text-anchor="middle" letter-spacing="0.3">střídavě</text><text transform="translate(2529.4 225.5) scale(0.87 1)" text-anchor="middle" letter-spacing="0.3">vlhké</text><text transform="translate(2529.4 248.4) scale(0.87 1)" text-anchor="middle" letter-spacing="0.3">PG</text><text transform="translate(2529.4 272.0) scale(0.87 1)" text-anchor="middle" letter-spacing="0.2">Lp</text><text transform="translate(2529.4 286.0) scale(0.87 1)" text-anchor="middle" letter-spacing="0.2">Ln, /My/</text><text transform="translate(2529.4 300.0) scale(0.87 1)" text-anchor="middle" letter-spacing="0.2">Carpilul</text><text transform="translate(2529.4 314.0) scale(0.87 1)" text-anchor="middle" letter-spacing="0.2">Calvil, /Sf/</text><text transform="translate(2529.4 335.6) scale(0.87 1)" text-anchor="middle" letter-spacing="0.3">/II/ III</text><text transform="translate(2529.4 355.6) scale(0.87 1)" text-anchor="middle" letter-spacing="0.3">P</text><text transform="translate(2622.2 118.5) scale(0.86 1)" font-size="14.6" text-anchor="middle" letter-spacing="0.9">chudá</text><text transform="translate(2622.2 177.3) scale(0.86 1)" text-anchor="middle" letter-spacing="0.4">ogl. podzol</text><text transform="translate(2622.2 196.5) scale(0.87 1)" text-anchor="middle" letter-spacing="0.3">chudé,</text><text transform="translate(2622.2 211.0) scale(0.87 1)" text-anchor="middle" letter-spacing="0.3">střídavě</text><text transform="translate(2622.2 225.5) scale(0.87 1)" text-anchor="middle" letter-spacing="0.3">vlhké</text><text transform="translate(2622.2 248.4) scale(0.87 1)" text-anchor="middle" letter-spacing="0.3">PG - PZg</text><text transform="translate(2622.2 278.7) scale(0.87 1)" text-anchor="middle" letter-spacing="0.2">My</text><text transform="translate(2622.2 292.4) scale(0.87 1)" text-anchor="middle" letter-spacing="0.2">Dešf</text><text transform="translate(2622.2 306.2) scale(0.87 1)" text-anchor="middle" letter-spacing="0.2">Sf, /Lp/</text><text transform="translate(2622.2 335.6) scale(0.87 1)" text-anchor="middle" letter-spacing="0.3">III - IV</text><text transform="translate(2622.2 355.6) scale(0.87 1)" text-anchor="middle" letter-spacing="0.3">P</text><text transform="translate(2722.8 118.5) scale(0.86 1)" font-size="14.6" text-anchor="middle" letter-spacing="0.9">chudá</text><text transform="translate(2722.8 177.3) scale(0.86 1)" text-anchor="middle" letter-spacing="0.4">trvale zamokř.</text><text transform="translate(2722.8 196.5) scale(0.87 1)" text-anchor="middle" letter-spacing="0.3">úpady,</text><text transform="translate(2722.8 211.0) scale(0.87 1)" text-anchor="middle" letter-spacing="0.3">stagnující</text><text transform="translate(2722.8 225.5) scale(0.87 1)" text-anchor="middle" letter-spacing="0.3">voda</text><text transform="translate(2722.8 248.4) scale(0.87 1)" text-anchor="middle" letter-spacing="0.3">GLo - PZg</text><text transform="translate(2722.8 272.0) scale(0.87 1)" text-anchor="middle" letter-spacing="0.2">Mol</text><text transform="translate(2722.8 286.0) scale(0.87 1)" text-anchor="middle" letter-spacing="0.2">Pteris, Baz</text><text transform="translate(2722.8 300.0) scale(0.87 1)" text-anchor="middle" letter-spacing="0.2">Sf, Equisilv</text><text transform="translate(2722.8 314.0) scale(0.87 1)" text-anchor="middle" letter-spacing="0.2">Trient</text><text transform="translate(2722.8 335.6) scale(0.87 1)" text-anchor="middle" letter-spacing="0.3">IV</text><text transform="translate(2722.8 355.6) scale(0.87 1)" text-anchor="middle" letter-spacing="0.3">PX</text><text transform="translate(2722.8 370.6) scale(0.87 1)" text-anchor="middle" letter-spacing="0.3">1T9 smOL</text><text transform="translate(2823.6 113.5) scale(0.86 1)" font-size="14.6" text-anchor="middle" letter-spacing="0.9">středně</text><text transform="translate(2823.6 130.5) scale(0.86 1)" font-size="14.6" text-anchor="middle" letter-spacing="0.9">bohatá</text><text transform="translate(2823.6 177.3) scale(0.86 1)" text-anchor="middle" letter-spacing="0.4">gleje</text><text transform="translate(2823.6 196.5) scale(0.87 1)" text-anchor="middle" letter-spacing="0.3">úpady - plošiny,</text><text transform="translate(2823.6 211.0) scale(0.87 1)" text-anchor="middle" letter-spacing="0.3">/aluvia/,</text><text transform="translate(2823.6 225.5) scale(0.87 1)" text-anchor="middle" letter-spacing="0.3">/bohatší - V/</text><text transform="translate(2823.6 248.4) scale(0.87 1)" text-anchor="middle" letter-spacing="0.3">GL</text><text transform="translate(2823.6 278.7) scale(0.87 1)" text-anchor="middle" letter-spacing="0.2">Equisilv</text><text transform="translate(2823.6 292.4) scale(0.87 1)" text-anchor="middle" letter-spacing="0.2">O, Atf</text><text transform="translate(2823.6 306.2) scale(0.87 1)" text-anchor="middle" letter-spacing="0.2">Calvil</text><text transform="translate(2823.6 335.6) scale(0.87 1)" text-anchor="middle" letter-spacing="0.3">II - III</text><text transform="translate(2823.6 355.6) scale(0.87 1)" text-anchor="middle" letter-spacing="0.3">P</text><text transform="translate(2823.6 370.6) scale(0.87 1)" text-anchor="middle" letter-spacing="0.3">0G9 boSM</text><text transform="translate(1283.0 177.3) scale(0.86 1)" text-anchor="middle" letter-spacing="0.4">bohatá</text><text transform="translate(1379.0 177.3) scale(0.86 1)" text-anchor="middle" letter-spacing="0.4">vápencová</text><text transform="translate(1283.0 248.4) scale(0.87 1)" text-anchor="middle" letter-spacing="0.3">KAma'- e'</text><text transform="translate(1379.0 248.4) scale(0.87 1)" text-anchor="middle">RZ</text><text transform="translate(1269.5 271.5) scale(0.87 1)">A  /O, Senfuch/</text><text transform="translate(1283.0 285.5) scale(0.87 1)">Brachsilv, Mun</text><text transform="translate(1283.0 299.5) scale(0.87 1)">Deb, Fs, Pren</text><text transform="translate(1283.0 313.5) scale(0.87 1)">/Den, Me/</text><text transform="translate(568.0 271.5) scale(0.87 1)">Ln</text><text transform="translate(608.0 273.0) scale(0.87 1)">Calvil</text><text transform="translate(555.0 285.5) scale(0.87 1)">Carpilul</text><text transform="translate(563.0 299.5) scale(0.87 1)">Dešf</text><text transform="translate(553.0 313.5) scale(0.87 1)">/My, Fo/</text><text transform="translate(2074.0 248.4) scale(0.87 1)" text-anchor="middle" letter-spacing="0.3">FL, GL</text><text transform="translate(2092.0 370.6) scale(0.87 1)" text-anchor="middle" letter-spacing="0.3">1L8, 1L9 dbJS</text><text transform="translate(1863.0 266.6) scale(0.87 1)" text-anchor="middle" letter-spacing="0.3">nitrofilní druhy</text><text transform="translate(2245.0 266.2) scale(0.87 1)" text-anchor="middle" letter-spacing="0.3">mírně</text><text transform="translate(1568.0 291.0) scale(0.87 1)" letter-spacing="0.3">Me,</text><text transform="translate(1618.6 291.0) scale(0.87 1)" letter-spacing="0.3">Li,</text><text transform="translate(1658.0 291.0) scale(0.87 1)" letter-spacing="0.3">Gerob,</text><text transform="translate(1741.8 291.0) scale(0.87 1)" letter-spacing="0.3">Lamac,</text><text transform="translate(1809.4 291.0) scale(0.87 1)" letter-spacing="0.3">Alliar,</text><text transform="translate(1878.6 291.0) scale(0.87 1)" letter-spacing="0.3">U,</text><text transform="translate(1903.0 291.0) scale(0.87 1)" letter-spacing="0.3">Lun,</text><text transform="translate(1938.7 291.0) scale(0.87 1)" letter-spacing="0.3">Elym,</text><text transform="translate(2005.3 291.0) scale(0.87 1)" letter-spacing="0.3">Stelnem,</text><text transform="translate(2077.9 291.0) scale(0.87 1)" letter-spacing="0.3">Polyst,</text><text transform="translate(2137.0 291.0) scale(0.87 1)" letter-spacing="0.3">Fg,</text><text transform="translate(2172.4 291.0) scale(0.87 1)" letter-spacing="0.3">Arunc,</text><text transform="translate(2235.6 291.0) scale(0.87 1)" letter-spacing="0.3">Alurs,</text><text transform="translate(1821.9 305.6) scale(0.87 1)" letter-spacing="0.3">Stachys</text><text transform="translate(1883.0 305.6) scale(0.87 1)" letter-spacing="0.3">I,</text><text transform="translate(1900.0 305.6) scale(0.87 1)" letter-spacing="0.3">Aeg,</text><text transform="translate(1935.0 305.6) scale(0.87 1)" letter-spacing="0.3">Chaerhirs,</text><text transform="translate(2019.8 305.6) scale(0.87 1)" letter-spacing="0.3">Petalb</text><text transform="translate(2095.8 305.6) scale(0.87 1)" letter-spacing="0.3">Mulged</text><text transform="translate(2150.5 305.6) scale(0.87 1)" letter-spacing="0.3">Ata,</text><text transform="translate(2202.8 305.6) scale(0.87 1)" letter-spacing="0.3">Adenost</text><text transform="translate(2363.0 273.0) scale(0.87 1)" text-anchor="middle" letter-spacing="0.2">San</text><text transform="translate(2363.0 287.0) scale(0.87 1)" text-anchor="middle" letter-spacing="0.2">Brachsilv</text><text transform="translate(2363.0 301.0) scale(0.87 1)" text-anchor="middle" letter-spacing="0.2">Lp, Cardig</text><text transform="translate(2363.0 315.0) scale(0.87 1)" text-anchor="middle" letter-spacing="0.2">Fi</text><text transform="translate(2439.0 271.5) scale(0.87 1)" text-anchor="middle" letter-spacing="0.2">O</text><text transform="translate(2439.0 285.5) scale(0.87 1)" text-anchor="middle" letter-spacing="0.2">Carbriz</text><text transform="translate(2439.0 300.0) scale(0.87 1)" text-anchor="middle" letter-spacing="0.2">Garlot</text><text transform="translate(2439.0 314.5) scale(0.87 1)" text-anchor="middle" letter-spacing="0.2">Lp, Drys</text><text transform="translate(2917.0 113.5) scale(0.86 1)" font-size="14.6" text-anchor="middle" letter-spacing="0.9">středně</text><text transform="translate(2917.0 130.5) scale(0.86 1)" font-size="14.6" text-anchor="middle" letter-spacing="0.9">bohatá</text><text transform="translate(2995.0 118.5) scale(0.86 1)" font-size="14.6" text-anchor="middle" letter-spacing="0.9">chudá</text><text transform="translate(2960.0 176.5) scale(0.86 1)" text-anchor="middle" letter-spacing="0.4">rašeliny</text><text transform="translate(2915.0 207.0) scale(0.87 1)" text-anchor="middle" letter-spacing="0.3">průměrný</text><text transform="translate(2915.0 221.0) scale(0.87 1)" text-anchor="middle" letter-spacing="0.3">vzrůst</text><text transform="translate(2998.0 206.0) scale(0.87 1)" text-anchor="middle" letter-spacing="0.3">omezený</text><text transform="translate(2998.0 220.0) scale(0.87 1)" text-anchor="middle" letter-spacing="0.3">vzrůst</text><text transform="translate(2886.0 248.4) scale(0.87 1)" letter-spacing="0.3">ORm - ORg   -</text><text transform="translate(2990.0 248.4) scale(0.87 1)" letter-spacing="0.3">ORf</text><text transform="translate(2917.0 277.5) scale(0.87 1)" text-anchor="middle" letter-spacing="0.2">O - Drys</text><text transform="translate(2917.0 292.5) scale(0.87 1)" text-anchor="middle" letter-spacing="0.2">Equisilv</text><text transform="translate(2917.0 306.5) scale(0.87 1)" text-anchor="middle" letter-spacing="0.2">Petalb</text><text transform="translate(2999.0 276.5) scale(0.87 1)" text-anchor="middle" letter-spacing="0.2">My - Sf</text><text transform="translate(2999.0 291.0) scale(0.87 1)" text-anchor="middle" letter-spacing="0.2">Mol, Erioph</text><text transform="translate(2999.0 305.5) scale(0.87 1)" text-anchor="middle" letter-spacing="0.2">Vaculig</text><text transform="translate(2944.0 314.0) scale(0.87 1)" letter-spacing="0.2">Calvil</text><text transform="translate(2916.0 335.6) scale(0.87 1)" text-anchor="middle" letter-spacing="0.3">II - III</text><text transform="translate(2999.0 335.6) scale(0.87 1)" text-anchor="middle" letter-spacing="0.3">IV - V</text><text transform="translate(2960.0 355.6) scale(0.87 1)" text-anchor="middle" letter-spacing="0.3">O /P/</text><text transform="translate(117.5 1199.0) rotate(-90) scale(0.834 1)">DEALPINSKÁ BK</text><text transform="translate(147.0 1199.0) rotate(-90) scale(0.875 1)">pěchavová</text><text transform="translate(161.0 1199.0) rotate(-90) scale(0.884 1)">s bělozářkou</text><text transform="translate(52.0 1381.1) rotate(-90) scale(0.85 1)">DŘÍNOVÁ dbBK</text><text transform="translate(80.0 1381.1) rotate(-90) scale(0.895 1)">konvalinková</text><text transform="translate(94.1 1381.1) rotate(-90) scale(0.905 1)">strdivková</text><text transform="translate(108.2 1381.1) rotate(-90) scale(0.882 1)">s válečkou prap.</text><text transform="translate(51.5 1547.0) rotate(-90) scale(0.865 1)">DŘÍNOVÁ DB s bk</text><text transform="translate(80.0 1547.0) rotate(-90) scale(0.87 1)">třemdavová</text><text transform="translate(94.1 1547.0) rotate(-90) scale(0.87 1)">na rendzině</text><text transform="translate(108.2 1547.0) rotate(-90) scale(0.882 1)">s válečkou prap.</text><text transform="translate(50.7 1717.2) rotate(-90) scale(0.856 1)">DŘÍNOVÁ DB</text><text transform="translate(80.0 1717.2) rotate(-90) scale(0.888 1)">na spraši</text><text transform="translate(94.0 1717.2) rotate(-90) scale(0.87 1)">na rendzině</text><text transform="translate(108.0 1717.2) rotate(-90) scale(0.869 1)">na rankeru</text><text transform="translate(122.0 1717.2) rotate(-90) scale(0.886 1)">s javorem</text><text transform="translate(136.0 1717.2) rotate(-90) scale(0.865 1)">s habrem</text><text transform="translate(150.0 1717.2) rotate(-90) scale(0.877 1)">drnová lesostep</text><text transform="translate(164.0 1717.2) rotate(-90) scale(0.888 1)">skalní lesostep</text><text transform="translate(237.6 392.9) scale(0.88 1)" font-size="9.6">KLEČ skeletová</text><text transform="translate(237.6 403.8) scale(0.88 1)" font-size="9.6">/sm/ KLEČ smilková</text><text transform="translate(286.4 415.8) scale(0.88 1)" font-size="9.6">třtinová</text><text transform="translate(286.4 426.4) scale(0.88 1)" font-size="9.6">havězová</text><text transform="translate(206.9 587.8) rotate(-90) scale(0.853 1)">ZAKRSLÁ jřSM</text><text transform="translate(235.4 587.8) rotate(-90) scale(0.883 1)">borůvková</text><text transform="translate(249.5 587.8) rotate(-90) scale(0.896 1)">rašeliníková</text><text transform="translate(263.6 587.8) rotate(-90) scale(0.884 1)">třtinová</text><text transform="translate(277.7 587.8) rotate(-90) scale(0.888 1)">šťavelová</text><text transform="translate(291.8 587.8) rotate(-90) scale(0.87 1)">s papratkou alp.</text><text transform="translate(305.9 587.8) rotate(-90) scale(0.879 1)">havězová</text><text transform="translate(320.0 587.8) rotate(-90) scale(0.89 1)">skeletová</text><text transform="translate(206.9 745.0) rotate(-90) scale(0.848 1)">ZAKRSLÁ bkSM</text><text transform="translate(235.4 745.0) rotate(-90) scale(0.883 1)">borůvková</text><text transform="translate(249.5 745.0) rotate(-90) scale(0.884 1)">třtinová</text><text transform="translate(263.6 745.0) rotate(-90) scale(0.87 1)">s papratkou alp.</text><text transform="translate(277.7 745.0) rotate(-90) scale(0.89 1)">skeletová</text><text transform="translate(206.9 899.2) rotate(-90) scale(0.846 1)">ZAKRSLÁ smBK</text><text transform="translate(235.4 899.2) rotate(-90) scale(0.883 1)">borůvková</text><text transform="translate(249.5 899.2) rotate(-90) scale(0.884 1)">třtinová</text><text transform="translate(263.6 899.2) rotate(-90) scale(0.896 1)">metličková</text><text transform="translate(277.7 899.2) rotate(-90) scale(0.906 1)">živná</text><text transform="translate(291.8 899.2) rotate(-90) scale(0.89 1)">skeletová</text><text transform="translate(206.9 1055.0) rotate(-90) scale(0.846 1)">ZAKRSLÁ jdBK</text><text transform="translate(235.4 1055.0) rotate(-90) scale(0.883 1)">borůvková</text><text transform="translate(249.5 1055.0) rotate(-90) scale(0.869 1)">mechová</text><text transform="translate(263.6 1055.0) rotate(-90) scale(0.896 1)">metličková</text><text transform="translate(277.7 1055.0) rotate(-90) scale(0.906 1)">živná</text><text transform="translate(291.8 1055.0) rotate(-90) scale(0.881 1)">skeletová /se třtinou rákos../</text><text transform="translate(206.9 1216.1) rotate(-90) scale(0.838 1)">ZAKRSLÁ BK</text><text transform="translate(235.4 1216.1) rotate(-90) scale(0.883 1)">borůvková</text><text transform="translate(249.5 1216.1) rotate(-90) scale(0.876 1)">biková /mechová/</text><text transform="translate(263.6 1216.1) rotate(-90) scale(0.882 1)">se třtinou rákosovitou</text><text transform="translate(277.7 1216.1) rotate(-90) scale(0.906 1)">lipnicová</text><text transform="translate(291.8 1216.1) rotate(-90) scale(0.89 1)">skeletová</text><text transform="translate(206.9 1381.1) rotate(-90) scale(0.839 1)">ZAKRSLÁ dbBK</text><text transform="translate(235.4 1381.1) rotate(-90) scale(0.883 1)">borůvková</text><text transform="translate(249.5 1381.1) rotate(-90) scale(0.895 1)">biková</text><text transform="translate(263.6 1381.1) rotate(-90) scale(0.876 1)">biková /mechová/</text><text transform="translate(277.7 1381.1) rotate(-90) scale(0.882 1)">se třtinou rákosovitou</text><text transform="translate(291.8 1381.1) rotate(-90) scale(0.89 1)">skeletová</text><text transform="translate(305.9 1381.1) rotate(-90) scale(0.906 1)">lipnicová</text><text transform="translate(206.9 1547.0) rotate(-90) scale(0.85 1)">ZAKRSLÁ bkDB</text><text transform="translate(235.4 1547.0) rotate(-90) scale(0.883 1)">borůvková</text><text transform="translate(249.5 1547.0) rotate(-90) scale(0.895 1)">biková</text><text transform="translate(263.6 1547.0) rotate(-90) scale(0.882 1)">se třtinou rákosovitou</text><text transform="translate(277.7 1547.0) rotate(-90) scale(0.882 1)">s válečkou prap.</text><text transform="translate(291.8 1547.0) rotate(-90) scale(0.906 1)">lipnicová</text><text transform="translate(305.9 1547.0) rotate(-90) scale(0.89 1)">skeletová</text><text transform="translate(206.9 1717.2) rotate(-90) scale(0.843 1)">ZAKRSLÁ DB</text><text transform="translate(235.4 1717.2) rotate(-90) scale(0.89 1)">tolitová</text><text transform="translate(249.5 1717.2) rotate(-90) scale(0.893 1)">s ostřicí nízkou</text><text transform="translate(263.6 1717.2) rotate(-90) scale(0.891 1)">kostřavová</text><text transform="translate(277.7 1717.2) rotate(-90) scale(0.895 1)">biková</text><text transform="translate(291.8 1717.2) rotate(-90) scale(0.87 1)">holá</text><text transform="translate(307.9 1717.2) rotate(-90) scale(0.877 1)">z (hb)DB válečkou prap.</text><text transform="translate(320.5 1717.2) rotate(-90) scale(0.888 1)">z (hb)DB lipnicová</text><text transform="translate(371.4 587.8) rotate(-90) scale(0.842 1)">SKELETOVÁ SM</text><text transform="translate(371.4 745.0) rotate(-90) scale(0.848 1)">SKELETOVÁ bkSM</text><text transform="translate(371.4 899.2) rotate(-90) scale(0.846 1)">SKELETOVÁ smBK</text><text transform="translate(371.4 1055.0) rotate(-90) scale(0.846 1)">SKELETOVÁ jdBK</text><text transform="translate(371.4 1216.1) rotate(-90) scale(0.84 1)">SKELETOVÁ BK</text><text transform="translate(371.4 1381.1) rotate(-90) scale(0.84 1)">SKELETOVÁ dbBK</text><text transform="translate(371.4 1547.0) rotate(-90) scale(0.85 1)">SKELETOVÁ bkDB</text><text transform="translate(530.2 394.0) scale(0.83 1)" text-anchor="middle" letter-spacing="0.3">ARKTOALPINUM</text><text transform="translate(476.4 424.5) scale(0.83 1)" letter-spacing="0.2">KLEČOVÁ SMRČINA</text><text transform="translate(419.0 587.8) rotate(-90) scale(0.852 1)">CHUDÁ SM</text><text transform="translate(447.5 587.8) rotate(-90) scale(0.883 1)">borůvková</text><text transform="translate(419.0 745.0) rotate(-90) scale(0.858 1)">CHUDÁ bkSM</text><text transform="translate(447.5 745.0) rotate(-90) scale(0.869 1)">mechová</text><text transform="translate(461.6 745.0) rotate(-90) scale(0.883 1)">borůvková</text><text transform="translate(475.7 745.0) rotate(-90) scale(0.884 1)">třtinová</text><text transform="translate(419.0 899.2) rotate(-90) scale(0.856 1)">CHUDÁ smBK</text><text transform="translate(447.5 899.2) rotate(-90) scale(0.869 1)">mechová</text><text transform="translate(461.6 899.2) rotate(-90) scale(0.883 1)">borůvková</text><text transform="translate(475.7 899.2) rotate(-90) scale(0.899 1)">hasivková</text><text transform="translate(489.8 899.2) rotate(-90) scale(0.863 1)">chudá smBK s BO</text><text transform="translate(503.9 899.2) rotate(-90) scale(0.891 1)">brusinková</text><text transform="translate(518.0 899.2) rotate(-90) scale(0.883 1)">borůvková</text><text transform="translate(419.0 1055.0) rotate(-90) scale(0.857 1)">CHUDÁ jdBK</text><text transform="translate(447.5 1055.0) rotate(-90) scale(0.869 1)">mechová</text><text transform="translate(461.6 1055.0) rotate(-90) scale(0.891 1)">brusinková</text><text transform="translate(475.7 1055.0) rotate(-90) scale(0.883 1)">borůvková</text><text transform="translate(489.8 1055.0) rotate(-90) scale(0.896 1)">metličková</text><text transform="translate(503.9 1055.0) rotate(-90) scale(0.899 1)">hasivková</text><text transform="translate(419.0 1216.1) rotate(-90) scale(0.849 1)">CHUDÁ BK</text><text transform="translate(447.5 1216.1) rotate(-90) scale(0.869 1)">mechová</text><text transform="translate(461.6 1216.1) rotate(-90) scale(0.891 1)">brusinková</text><text transform="translate(475.7 1216.1) rotate(-90) scale(0.883 1)">borůvková</text><text transform="translate(419.0 1381.1) rotate(-90) scale(0.848 1)">CHUDÁ dbBK</text><text transform="translate(447.5 1381.1) rotate(-90) scale(0.869 1)">mechová</text><text transform="translate(461.6 1381.1) rotate(-90) scale(0.891 1)">brusinková</text><text transform="translate(475.7 1381.1) rotate(-90) scale(0.883 1)">borůvková</text><text transform="translate(489.8 1381.1) rotate(-90) scale(0.899 1)">hasivková</text><text transform="translate(419.0 1547.0) rotate(-90) scale(0.861 1)">CHUDÁ bkDB</text><text transform="translate(447.5 1547.0) rotate(-90) scale(0.869 1)">mechová</text><text transform="translate(461.6 1547.0) rotate(-90) scale(0.891 1)">brusinková</text><text transform="translate(475.7 1547.0) rotate(-90) scale(0.883 1)">borůvková</text><text transform="translate(419.0 1717.2) rotate(-90) scale(0.857 1)">BOROVÁ DB</text><text transform="translate(447.5 1717.2) rotate(-90) scale(0.891 1)">kostřavová</text><text transform="translate(460.2 1717.2) rotate(-90) scale(0.896 1)">metličková</text><text transform="translate(472.8 1717.2) rotate(-90) scale(0.883 1)">borůvková</text><text transform="translate(485.5 1717.2) rotate(-90) scale(0.879 1)">svěží /se třtinou  a ostruž./</text><text transform="translate(498.2 1717.2) rotate(-90) scale(0.859 1)">druhotná /pahork./</text><text transform="translate(510.8 1717.2) rotate(-90) scale(0.856 1)">na dunách</text><text transform="translate(523.5 1717.2) rotate(-90) scale(0.891 1)">brusinková</text><text transform="translate(548.5 587.8) rotate(-90) scale(0.829 1)">KYSELÁ SM</text><text transform="translate(573.3 587.8) rotate(-90) scale(0.896 1)">metlicková</text><text transform="translate(587.4 587.8) rotate(-90) scale(0.883 1)">borůvková</text><text transform="translate(601.5 587.8) rotate(-90) scale(0.884 1)">třtinová</text><text transform="translate(615.6 587.8) rotate(-90) scale(0.868 1)">s papradkou  alp.</text><text transform="translate(629.7 587.8) rotate(-90) scale(0.896 1)">rašeliníková</text><text transform="translate(643.8 587.8) rotate(-90) scale(0.869 1)">s kapradí osténkatou</text><text transform="translate(657.9 587.8) rotate(-90) scale(0.88 1)">se šťavelem</text><text transform="translate(548.5 745.0) rotate(-90) scale(0.839 1)">KYSELÁ bkSM</text><text transform="translate(573.3 745.0) rotate(-90) scale(0.896 1)">metličková</text><text transform="translate(587.4 745.0) rotate(-90) scale(0.883 1)">borůvková</text><text transform="translate(601.5 745.0) rotate(-90) scale(0.884 1)">třtinová</text><text transform="translate(615.6 745.0) rotate(-90) scale(0.869 1)">s kapradí osténkatou</text><text transform="translate(629.7 745.0) rotate(-90) scale(0.88 1)">se šťavelem</text><text transform="translate(548.5 899.2) rotate(-90) scale(0.837 1)">KYSELÁ smBK</text><text transform="translate(573.3 899.2) rotate(-90) scale(0.896 1)">metličková</text><text transform="translate(587.4 899.2) rotate(-90) scale(0.892 1)">s ostřicí kulkonosou</text><text transform="translate(601.5 899.2) rotate(-90) scale(0.883 1)">borůvková</text><text transform="translate(615.6 899.2) rotate(-90) scale(0.884 1)">třtinová</text><text transform="translate(629.7 899.2) rotate(-90) scale(0.869 1)">s kapradí osténkatou</text><text transform="translate(643.8 899.2) rotate(-90) scale(0.88 1)">se šťavelem</text><text transform="translate(657.9 899.2) rotate(-90) scale(0.886 1)">metličková se šťavelem</text><text transform="translate(548.5 1055.0) rotate(-90) scale(0.836 1)">KYSELÁ jdBK</text><text transform="translate(573.3 1055.0) rotate(-90) scale(0.896 1)">metličková</text><text transform="translate(586.8 1055.0) rotate(-90) scale(0.897 1)">s ostřicí kulkonos.</text><text transform="translate(600.2 1055.0) rotate(-90) scale(0.895 1)">biková</text><text transform="translate(613.7 1055.0) rotate(-90) scale(0.88 1)">biková s věsenkou nach.</text><text transform="translate(627.1 1055.0) rotate(-90) scale(0.869 1)">mechová</text><text transform="translate(640.6 1055.0) rotate(-90) scale(0.883 1)">borůvková</text><text transform="translate(654.0 1055.0) rotate(-90) scale(0.886 1)">metličková se šťavelem</text><text transform="translate(667.5 1055.0) rotate(-90) scale(0.884 1)">svahová</text><text transform="translate(548.5 1216.1) rotate(-90) scale(0.826 1)">KYSELÁ BK</text><text transform="translate(573.3 1216.1) rotate(-90) scale(0.896 1)">metličková</text><text transform="translate(586.8 1216.1) rotate(-90) scale(0.897 1)">s ostřicí kulkonos.</text><text transform="translate(600.2 1216.1) rotate(-90) scale(0.895 1)">biková</text><text transform="translate(613.7 1216.1) rotate(-90) scale(0.869 1)">biková na hřebenech</text><text transform="translate(627.1 1216.1) rotate(-90) scale(0.869 1)">mechová</text><text transform="translate(640.6 1216.1) rotate(-90) scale(0.883 1)">borůvková</text><text transform="translate(654.0 1216.1) rotate(-90) scale(0.886 1)">metličková se šťavelem</text><text transform="translate(667.5 1216.1) rotate(-90) scale(0.884 1)">svahová</text><text transform="translate(548.5 1381.1) rotate(-90) scale(0.829 1)">KYSELÁ dbBK</text><text transform="translate(573.3 1381.1) rotate(-90) scale(0.896 1)">metličková</text><text transform="translate(586.8 1381.1) rotate(-90) scale(0.892 1)">s ostřicí kulkonosou</text><text transform="translate(600.2 1381.1) rotate(-90) scale(0.895 1)">biková</text><text transform="translate(613.7 1381.1) rotate(-90) scale(0.869 1)">mechová</text><text transform="translate(627.1 1381.1) rotate(-90) scale(0.883 1)">borůvková</text><text transform="translate(640.6 1381.1) rotate(-90) scale(0.891 1)">kostřavová</text><text transform="translate(654.0 1381.1) rotate(-90) scale(0.888 1)">šťavelová</text><text transform="translate(667.5 1381.1) rotate(-90) scale(0.884 1)">svahová</text><text transform="translate(548.5 1547.0) rotate(-90) scale(0.841 1)">KYSELÁ bkDB</text><text transform="translate(573.3 1547.0) rotate(-90) scale(0.896 1)">metličková</text><text transform="translate(587.4 1547.0) rotate(-90) scale(0.892 1)">s ostřicí kulkonosou</text><text transform="translate(601.5 1547.0) rotate(-90) scale(0.895 1)">biková</text><text transform="translate(615.6 1547.0) rotate(-90) scale(0.891 1)">kostřavová</text><text transform="translate(629.7 1547.0) rotate(-90) scale(0.883 1)">borůvková</text><text transform="translate(643.8 1547.0) rotate(-90) scale(0.881 1)">se třtinou rákos.</text><text transform="translate(548.5 1717.2) rotate(-90) scale(0.832 1)">KYSELÁ DB</text><text transform="translate(573.3 1717.2) rotate(-90) scale(0.891 1)">kostřavová</text><text transform="translate(587.4 1717.2) rotate(-90) scale(0.892 1)">kostřavová s lipnicí hajní</text><text transform="translate(601.5 1717.2) rotate(-90) scale(0.896 1)">metličková</text><text transform="translate(615.6 1717.2) rotate(-90) scale(0.893 1)">psinečková</text><text transform="translate(629.7 1717.2) rotate(-90) scale(0.895 1)">biková</text><text transform="translate(643.8 1717.2) rotate(-90) scale(0.883 1)">borůvková</text><text transform="translate(689.2 587.8) rotate(-90) scale(0.835 1)">KAMEN. KYS. SM</text><text transform="translate(719.2 587.8) rotate(-90) scale(0.869 1)">s kapradí osténkatou</text><text transform="translate(733.3 587.8) rotate(-90) scale(0.881 1)">se třtinou rákos.</text><text transform="translate(747.4 587.8) rotate(-90) scale(0.883 1)">borůvková</text><text transform="translate(761.5 587.8) rotate(-90) scale(0.869 1)">mechová</text><text transform="translate(689.2 745.0) rotate(-90) scale(0.841 1)">KAMEN.KYS. bkSM</text><text transform="translate(719.2 745.0) rotate(-90) scale(0.869 1)">s kapradí osténkatou</text><text transform="translate(733.3 745.0) rotate(-90) scale(0.881 1)">se třtinou rákos.</text><text transform="translate(747.4 745.0) rotate(-90) scale(0.88 1)">se šťavelem</text><text transform="translate(761.5 745.0) rotate(-90) scale(0.883 1)">borůvková</text><text transform="translate(689.2 899.2) rotate(-90) scale(0.839 1)">KAMEN. KYS. smBK</text><text transform="translate(719.2 899.2) rotate(-90) scale(0.869 1)">s kapradí osténkatou</text><text transform="translate(733.3 899.2) rotate(-90) scale(0.881 1)">se třtinou rákos.</text><text transform="translate(747.4 899.2) rotate(-90) scale(0.88 1)">se šťavelem</text><text transform="translate(761.5 899.2) rotate(-90) scale(0.886 1)">borůvková /metličková/</text><text transform="translate(689.2 1055.0) rotate(-90) scale(0.839 1)">KAMEN. KYS. jdBK</text><text transform="translate(719.2 1055.0) rotate(-90) scale(0.869 1)">s kapradí osténkatou</text><text transform="translate(733.3 1055.0) rotate(-90) scale(0.881 1)">se třtinou rákos.</text><text transform="translate(747.4 1055.0) rotate(-90) scale(0.88 1)">se šťavelem</text><text transform="translate(761.5 1055.0) rotate(-90) scale(0.886 1)">borůvková /metličková/</text><text transform="translate(689.2 1216.1) rotate(-90) scale(0.832 1)">KAMEN. KYS. BK</text><text transform="translate(719.2 1216.1) rotate(-90) scale(0.869 1)">s kapradí osténkatou</text><text transform="translate(733.3 1216.1) rotate(-90) scale(0.881 1)">se třtinou rákos.</text><text transform="translate(747.4 1216.1) rotate(-90) scale(0.88 1)">se šťavelem</text><text transform="translate(761.5 1216.1) rotate(-90) scale(0.883 1)">borůvková</text><text transform="translate(689.2 1381.1) rotate(-90) scale(0.834 1)">KAMEN. KYS. dbBK</text><text transform="translate(719.2 1381.1) rotate(-90) scale(0.869 1)">s kapradí osténkatou</text><text transform="translate(733.3 1381.1) rotate(-90) scale(0.881 1)">se třtinou rákos.</text><text transform="translate(747.4 1381.1) rotate(-90) scale(0.888 1)">šťavelová</text><text transform="translate(761.5 1381.1) rotate(-90) scale(0.883 1)">borůvková</text><text transform="translate(689.2 1547.0) rotate(-90) scale(0.843 1)">KAMEN. KYS. bkDB</text><text transform="translate(719.2 1547.0) rotate(-90) scale(0.881 1)">se třtinou rákos.</text><text transform="translate(733.3 1547.0) rotate(-90) scale(0.888 1)">šťavelová</text><text transform="translate(747.4 1547.0) rotate(-90) scale(0.883 1)">borůvková</text><text transform="translate(689.2 1717.2) rotate(-90) scale(0.852 1)">KAMENITÁ (hb)DB</text><text transform="translate(719.2 1717.2) rotate(-90) scale(0.881 1)">se třtinou rákos.</text><text transform="translate(733.3 1717.2) rotate(-90) scale(0.891 1)">kostřavová</text><text transform="translate(785.6 899.2) rotate(-90) scale(0.844 1)">ULÉH. KYS. smBK</text><text transform="translate(815.6 899.2) rotate(-90) scale(0.876 1)">s bikou chlupatou</text><text transform="translate(829.7 899.2) rotate(-90) scale(0.883 1)">borůvková</text><text transform="translate(843.8 899.2) rotate(-90) scale(0.874 1)">oglejená se třtinou chlup.</text><text transform="translate(857.9 899.2) rotate(-90) scale(0.896 1)">metličková</text><text transform="translate(785.6 1055.0) rotate(-90) scale(0.844 1)">ULÉH. KYS. jdBK</text><text transform="translate(815.6 1055.0) rotate(-90) scale(0.875 1)">s bikou chlupaaou</text><text transform="translate(829.7 1055.0) rotate(-90) scale(0.883 1)">borůvková</text><text transform="translate(843.8 1055.0) rotate(-90) scale(0.87 1)">oglejená</text><text transform="translate(785.6 1216.1) rotate(-90) scale(0.837 1)">ULÉH. KYS. BK</text><text transform="translate(815.6 1216.1) rotate(-90) scale(0.876 1)">s bikou chlupatou</text><text transform="translate(829.7 1216.1) rotate(-90) scale(0.883 1)">borůvková</text><text transform="translate(843.8 1216.1) rotate(-90) scale(0.87 1)">oglejená</text><text transform="translate(857.9 1216.1) rotate(-90) scale(0.894 1)">černýšová</text><text transform="translate(785.6 1381.1) rotate(-90) scale(0.838 1)">ULÉH. KYS. dbBK</text><text transform="translate(815.6 1381.1) rotate(-90) scale(0.876 1)">s bikou chlupatou</text><text transform="translate(829.7 1381.1) rotate(-90) scale(0.882 1)">s válečkou prap.</text><text transform="translate(843.8 1381.1) rotate(-90) scale(0.895 1)">konvalinková</text><text transform="translate(857.9 1381.1) rotate(-90) scale(0.894 1)">černýšová</text><text transform="translate(872.0 1381.1) rotate(-90) scale(0.883 1)">borůvková</text><text transform="translate(785.6 1547.0) rotate(-90) scale(0.848 1)">ULÉH. KYS. bkDB</text><text transform="translate(815.6 1547.0) rotate(-90) scale(0.876 1)">s bikou chlupatou</text><text transform="translate(829.7 1547.0) rotate(-90) scale(0.882 1)">s válečkou prap.</text><text transform="translate(843.8 1547.0) rotate(-90) scale(0.895 1)">konvalinková</text><text transform="translate(857.9 1547.0) rotate(-90) scale(0.894 1)">černýšová</text><text transform="translate(872.0 1547.0) rotate(-90) scale(0.882 1)">s třtinou rákos. /ostruž./</text><text transform="translate(785.6 1717.2) rotate(-90) scale(0.85 1)">ULÉHAVÁ (hb)DB</text><text transform="translate(815.6 1717.2) rotate(-90) scale(0.899 1)">zkyselená</text><text transform="translate(829.7 1717.2) rotate(-90) scale(0.891 1)">kostřavová</text><text transform="translate(843.8 1717.2) rotate(-90) scale(0.906 1)">lipnicová</text><text transform="translate(857.9 1717.2) rotate(-90) scale(0.882 1)">s válečkou prap.</text><text transform="translate(872.0 1717.2) rotate(-90) scale(0.894 1)">černýšová</text><text transform="translate(895.1 587.8) rotate(-90) scale(0.839 1)">SVĚŽÍ SM</text><text transform="translate(924.5 587.8) rotate(-90) scale(0.888 1)">šťavelová</text><text transform="translate(938.6 587.8) rotate(-90) scale(0.888 1)">s bikou lesní</text><text transform="translate(895.1 745.0) rotate(-90) scale(0.849 1)">SVĚŽÍ bkSM</text><text transform="translate(924.5 745.0) rotate(-90) scale(0.888 1)">šťavelová</text><text transform="translate(938.6 745.0) rotate(-90) scale(0.888 1)">s bikou lesní</text><text transform="translate(952.7 745.0) rotate(-90) scale(0.888 1)">bukovincová</text><text transform="translate(895.1 899.2) rotate(-90) scale(0.846 1)">SVĚŽÍ  smBK</text><text transform="translate(924.5 899.2) rotate(-90) scale(0.888 1)">šťavelová</text><text transform="translate(938.6 899.2) rotate(-90) scale(0.888 1)">bukovincová</text><text transform="translate(952.7 899.2) rotate(-90) scale(0.896 1)">s kostřavou nejvyšší</text><text transform="translate(966.8 899.2) rotate(-90) scale(0.871 1)">papratková</text><text transform="translate(980.9 899.2) rotate(-90) scale(0.88 1)">se šťavelem a třtin. rákos.</text><text transform="translate(995.0 899.2) rotate(-90) scale(0.867 1)">ochuzená</text><text transform="translate(1009.1 899.2) rotate(-90) scale(0.884 1)">svahová</text><text transform="translate(895.1 1055.0) rotate(-90) scale(0.846 1)">SVĚŽÍ jdBK</text><text transform="translate(924.5 1055.0) rotate(-90) scale(0.888 1)">šťavelová</text><text transform="translate(937.9 1055.0) rotate(-90) scale(0.887 1)">se svízelem drsným</text><text transform="translate(951.3 1055.0) rotate(-90) scale(0.884 1)">s ostřicí prstnatou</text><text transform="translate(964.7 1055.0) rotate(-90) scale(0.888 1)">bukovincová</text><text transform="translate(978.2 1055.0) rotate(-90) scale(0.896 1)">s kostřavou nejvyšší</text><text transform="translate(991.6 1055.0) rotate(-90) scale(0.871 1)">papratková</text><text transform="translate(1005.0 1055.0) rotate(-90) scale(0.867 1)">ochuzená</text><text transform="translate(1018.4 1055.0) rotate(-90) scale(0.87 1)">holá</text><text transform="translate(1031.8 1055.0) rotate(-90) scale(0.884 1)">svahová</text><text transform="translate(895.1 1216.1) rotate(-90) scale(0.836 1)">SVĚŽÍ BK</text><text transform="translate(924.5 1216.1) rotate(-90) scale(0.888 1)">šťavelová</text><text transform="translate(936.4 1216.1) rotate(-90) scale(0.887 1)">se svízelem drsným</text><text transform="translate(948.3 1216.1) rotate(-90) scale(0.884 1)">s ostřicí prstnatou</text><text transform="translate(960.3 1216.1) rotate(-90) scale(0.874 1)">s kapradinami /papradková/</text><text transform="translate(972.2 1216.1) rotate(-90) scale(0.885 1)">biková s mařinkou</text><text transform="translate(984.1 1216.1) rotate(-90) scale(0.893 1)">biková s ostřicí chlup.</text><text transform="translate(996.0 1216.1) rotate(-90) scale(0.866 1)">HOLÁ BK s mařinkou</text><text transform="translate(1008.0 1216.1) rotate(-90) scale(0.877 1)">HOLÁ BK s ostřicí lesní</text><text transform="translate(1019.9 1216.1) rotate(-90) scale(0.867 1)">ochuzená</text><text transform="translate(1031.8 1216.1) rotate(-90) scale(0.884 1)">svahová</text><text transform="translate(895.1 1381.1) rotate(-90) scale(0.837 1)">SVĚŽÍ dbBK</text><text transform="translate(924.5 1381.1) rotate(-90) scale(0.888 1)">šťavelová</text><text transform="translate(937.9 1381.1) rotate(-90) scale(0.887 1)">se svízelem drsným</text><text transform="translate(951.3 1381.1) rotate(-90) scale(0.884 1)">s ostřicí prstnatou</text><text transform="translate(964.7 1381.1) rotate(-90) scale(0.881 1)">s kapradinami</text><text transform="translate(978.2 1381.1) rotate(-90) scale(0.885 1)">biková s mařinkou</text><text transform="translate(991.6 1381.1) rotate(-90) scale(0.896 1)">biková s ostřicí prst.</text><text transform="translate(1005.0 1381.1) rotate(-90) scale(0.893 1)">biková s ostřicí chlup.</text><text transform="translate(1018.4 1381.1) rotate(-90) scale(0.866 1)">ochuzená /holá/</text><text transform="translate(1031.8 1381.1) rotate(-90) scale(0.884 1)">svahová</text><text transform="translate(895.1 1547.0) rotate(-90) scale(0.852 1)">SVĚŽÍ bkDB</text><text transform="translate(924.5 1547.0) rotate(-90) scale(0.885 1)">ptačincová</text><text transform="translate(937.9 1547.0) rotate(-90) scale(0.881 1)">s kapradinami</text><text transform="translate(951.3 1547.0) rotate(-90) scale(0.896 1)">biková s ostřicí prst.</text><text transform="translate(964.7 1547.0) rotate(-90) scale(0.885 1)">biková s mařinkou</text><text transform="translate(978.2 1547.0) rotate(-90) scale(0.893 1)">biková s lipnicí hajní</text><text transform="translate(991.6 1547.0) rotate(-90) scale(0.888 1)">šťavelová</text><text transform="translate(1005.0 1547.0) rotate(-90) scale(0.894 1)">černýšová</text><text transform="translate(1018.4 1547.0) rotate(-90) scale(0.873 1)">ochuzená /ostruž./</text><text transform="translate(1031.8 1547.0) rotate(-90) scale(0.884 1)">svahová</text><text transform="translate(895.1 1717.2) rotate(-90) scale(0.855 1)">(hb)DB NA PÍSCÍCH</text><text transform="translate(924.5 1717.2) rotate(-90) scale(0.904 1)">s lipnicí úzkolistou</text><text transform="translate(938.6 1717.2) rotate(-90) scale(0.899 1)">válečková</text><text transform="translate(952.7 1717.2) rotate(-90) scale(0.893 1)">s ostřicí horskou</text><text transform="translate(966.8 1717.2) rotate(-90) scale(0.905 1)">strdivková</text><text transform="translate(980.9 1717.2) rotate(-90) scale(0.881 1)">se třtinou rákos.</text><text transform="translate(995.0 1717.2) rotate(-90) scale(0.883 1)">s ostružiníkem /oglej./</text><text transform="translate(1009.1 1717.2) rotate(-90) scale(0.859 1)">DB NA PÍSCÍCH /kostř./</text><text transform="translate(1023.2 1717.2) rotate(-90) scale(0.863 1)">DB NA DUNÁCH /kostř./</text><text transform="translate(1055.5 587.8) rotate(-90) scale(0.841 1)">SVAHOVÁ SM</text><text transform="translate(1082.5 587.8) rotate(-90) scale(0.877 1)">kapradinová</text><text transform="translate(1055.5 745.0) rotate(-90) scale(0.848 1)">SVAHOVÁ bkSM</text><text transform="translate(1082.5 745.0) rotate(-90) scale(0.877 1)">kapradinová</text><text transform="translate(1055.5 899.2) rotate(-90) scale(0.846 1)">SVAHOVÁ smBK</text><text transform="translate(1082.5 899.2) rotate(-90) scale(0.877 1)">kapradinová</text><text transform="translate(1093.1 899.2) rotate(-90) scale(0.888 1)">šťavelová</text><text transform="translate(1055.5 1055.0) rotate(-90) scale(0.846 1)">SVAHOVÁ jdBK</text><text transform="translate(1082.5 1055.0) rotate(-90) scale(0.869 1)">kapradinová /bohatší/</text><text transform="translate(1093.1 1055.0) rotate(-90) scale(0.888 1)">šťavelová</text><text transform="translate(1055.5 1216.1) rotate(-90) scale(0.839 1)">SVAHOVÁ BK</text><text transform="translate(1082.5 1216.1) rotate(-90) scale(0.869 1)">kapradinová /bohatší/</text><text transform="translate(1093.1 1216.1) rotate(-90) scale(0.888 1)">šťavelová</text><text transform="translate(1055.5 1381.1) rotate(-90) scale(0.84 1)">SVAHOVÁ dbBK</text><text transform="translate(1082.5 1381.1) rotate(-90) scale(0.877 1)">kapradinová</text><text transform="translate(1093.1 1381.1) rotate(-90) scale(0.888 1)">šťavelová</text><text transform="translate(1116.4 1055.0) rotate(-90) scale(0.839 1)">VYSÝCHAVÁ jdBK</text><text transform="translate(1145.0 1055.0) rotate(-90) scale(0.906 1)">lipnicová</text><text transform="translate(1159.1 1055.0) rotate(-90) scale(0.875 1)">vápencová</text><text transform="translate(1173.2 1055.0) rotate(-90) scale(0.881 1)">biková teplomil. /ochuz./</text><text transform="translate(1116.4 1216.1) rotate(-90) scale(0.832 1)">VYSÝCHAVÁ BK</text><text transform="translate(1145.0 1216.1) rotate(-90) scale(0.906 1)">lipnicová</text><text transform="translate(1159.1 1216.1) rotate(-90) scale(0.882 1)">s válečkou prap.</text><text transform="translate(1173.2 1216.1) rotate(-90) scale(0.877 1)">teplomilná</text><text transform="translate(1187.3 1216.1) rotate(-90) scale(0.875 1)">vápencová</text><text transform="translate(1201.4 1216.1) rotate(-90) scale(0.882 1)">vápnitá s ostř.prst.</text><text transform="translate(1215.5 1216.1) rotate(-90) scale(0.884 1)">svahová</text><text transform="translate(1116.4 1381.1) rotate(-90) scale(0.833 1)">VYSÝCHAVÁ dbBK</text><text transform="translate(1145.0 1381.1) rotate(-90) scale(0.906 1)">lipnicová</text><text transform="translate(1157.0 1381.1) rotate(-90) scale(0.882 1)">s válečkou prap.</text><text transform="translate(1169.1 1381.1) rotate(-90) scale(0.896 1)">se strdivkou nicí</text><text transform="translate(1181.1 1381.1) rotate(-90) scale(0.878 1)">biková teplomilná /ochuz./</text><text transform="translate(1193.1 1381.1) rotate(-90) scale(0.875 1)">vápencová</text><text transform="translate(1205.2 1381.1) rotate(-90) scale(0.875 1)">vápnitá</text><text transform="translate(1217.2 1381.1) rotate(-90) scale(0.884 1)">svahová</text><text transform="translate(1116.4 1547.0) rotate(-90) scale(0.842 1)">VYSÝCHAVÁ bkDB</text><text transform="translate(1145.0 1547.0) rotate(-90) scale(0.906 1)">lipnicová</text><text transform="translate(1159.1 1547.0) rotate(-90) scale(0.882 1)">s válečkou prap.</text><text transform="translate(1173.2 1547.0) rotate(-90) scale(0.878 1)">biková teplomilná /ochuz./</text><text transform="translate(1187.3 1547.0) rotate(-90) scale(0.875 1)">vápencová</text><text transform="translate(1201.4 1547.0) rotate(-90) scale(0.875 1)">vápnitá</text><text transform="translate(1215.5 1547.0) rotate(-90) scale(0.884 1)">svahová</text><text transform="translate(1116.4 1717.2) rotate(-90) scale(0.848 1)">SUCHÁ hbDB</text><text transform="translate(1145.0 1717.2) rotate(-90) scale(0.906 1)">lipnicová</text><text transform="translate(1159.1 1717.2) rotate(-90) scale(0.882 1)">s válečkou prap.</text><text transform="translate(1173.2 1717.2) rotate(-90) scale(0.881 1)">biková teplomil. /ochuz./</text><text transform="translate(1187.3 1717.2) rotate(-90) scale(0.875 1)">vápencová</text><text transform="translate(1201.4 1717.2) rotate(-90) scale(0.904 1)">s lipnicí úzkolistou</text><text transform="translate(1240.7 745.0) rotate(-90) scale(0.857 1)">/BOHATÁ/ bkSM</text><text transform="translate(1268.7 745.0) rotate(-90) scale(0.89 1)">bylinná</text><text transform="translate(1240.7 899.2) rotate(-90) scale(0.855 1)">BOHATÁ smBK</text><text transform="translate(1268.7 899.2) rotate(-90) scale(0.883 1)">mařinková</text><text transform="translate(1282.8 899.2) rotate(-90) scale(0.891 1)">javorová</text><text transform="translate(1296.9 899.2) rotate(-90) scale(0.909 1)">s řeřišnicí trojlistou</text><text transform="translate(1311.0 899.2) rotate(-90) scale(0.884 1)">svahová</text><text transform="translate(1241.2 1055.0) rotate(-90) scale(0.856 1)">BOHATÁ jdBK</text><text transform="translate(1269.9 1055.0) rotate(-90) scale(0.883 1)">mařinková</text><text transform="translate(1284.0 1055.0) rotate(-90) scale(0.878 1)">s ostružníkem /chlup./</text><text transform="translate(1298.1 1055.0) rotate(-90) scale(0.896 1)">s kostřavou nejvyšší</text><text transform="translate(1312.2 1055.0) rotate(-90) scale(0.895 1)">s ostřicí chlup.</text><text transform="translate(1326.3 1055.0) rotate(-90) scale(0.891 1)">javorová</text><text transform="translate(1340.4 1055.0) rotate(-90) scale(0.881 1)">ječmenková</text><text transform="translate(1354.5 1055.0) rotate(-90) scale(0.884 1)">svahová</text><text transform="translate(1241.2 1216.1) rotate(-90) scale(0.849 1)">BOHATÁ BK</text><text transform="translate(1269.9 1216.1) rotate(-90) scale(0.905 1)">strdivková</text><text transform="translate(1284.0 1216.1) rotate(-90) scale(0.883 1)">mařinková</text><text transform="translate(1298.1 1216.1) rotate(-90) scale(0.899 1)">válečková</text><text transform="translate(1312.2 1216.1) rotate(-90) scale(0.896 1)">s kostřavou nejvyšší</text><text transform="translate(1326.3 1216.1) rotate(-90) scale(0.895 1)">s ostřicí chlup.</text><text transform="translate(1340.4 1216.1) rotate(-90) scale(0.891 1)">javorová</text><text transform="translate(1354.5 1216.1) rotate(-90) scale(0.884 1)">svahová</text><text transform="translate(1241.2 1381.1) rotate(-90) scale(0.848 1)">BOHATÁ dbBK</text><text transform="translate(1269.9 1381.1) rotate(-90) scale(0.905 1)">strdivková</text><text transform="translate(1284.0 1381.1) rotate(-90) scale(0.883 1)">mařinková</text><text transform="translate(1298.1 1381.1) rotate(-90) scale(0.899 1)">válečková</text><text transform="translate(1312.2 1381.1) rotate(-90) scale(0.888 1)">bukovincová</text><text transform="translate(1326.3 1381.1) rotate(-90) scale(0.895 1)">s ostřicí chlup.</text><text transform="translate(1340.4 1381.1) rotate(-90) scale(0.891 1)">javorová</text><text transform="translate(1354.5 1381.1) rotate(-90) scale(0.884 1)">svahová</text><text transform="translate(1241.2 1547.0) rotate(-90) scale(0.86 1)">BOHATÁ bkDB</text><text transform="translate(1269.9 1547.0) rotate(-90) scale(0.891 1)">lipnicová s mařinkou</text><text transform="translate(1284.0 1547.0) rotate(-90) scale(0.905 1)">strdivková</text><text transform="translate(1298.1 1547.0) rotate(-90) scale(0.883 1)">mařinková</text><text transform="translate(1312.2 1547.0) rotate(-90) scale(0.899 1)">válečková</text><text transform="translate(1326.3 1547.0) rotate(-90) scale(0.895 1)">s ostřicí chlup.</text><text transform="translate(1340.4 1547.0) rotate(-90) scale(0.891 1)">javorová</text><text transform="translate(1354.5 1547.0) rotate(-90) scale(0.885 1)">ptačincová</text><text transform="translate(1241.2 1717.2) rotate(-90) scale(0.853 1)">BOHATÁ hbDB</text><text transform="translate(1269.9 1717.2) rotate(-90) scale(0.899 1)">lipnicová s ostřicí hors.</text><text transform="translate(1284.0 1717.2) rotate(-90) scale(0.902 1)">svízelová</text><text transform="translate(1298.1 1717.2) rotate(-90) scale(0.899 1)">válečková</text><text transform="translate(1312.2 1717.2) rotate(-90) scale(0.888 1)">srhová</text><text transform="translate(1326.3 1717.2) rotate(-90) scale(0.885 1)">ostružníková</text><text transform="translate(1340.4 1717.2) rotate(-90) scale(0.885 1)">ptačincová</text><text transform="translate(1354.5 1717.2) rotate(-90) scale(0.883 1)">mařinková</text><text transform="translate(1391.2 1055.0) rotate(-90) scale(0.846 1)">VÁPENCOVÁ jdBK</text><text transform="translate(1391.2 1216.1) rotate(-90) scale(0.84 1)">VÁPENCOVÁ BK</text><text transform="translate(1391.2 1381.1) rotate(-90) scale(0.841 1)">VÁPENCOVÁ dbBK</text><text transform="translate(1391.2 1547.0) rotate(-90) scale(0.849 1)">VÁPENCOVÁ bkDB</text><text transform="translate(1391.2 1717.2) rotate(-90) scale(0.844 1)">VÁPENCOVÁ hbDB</text><text transform="translate(1432.0 899.2) rotate(-90) scale(0.855 1)">HLINITÁ smBK</text><text transform="translate(1459.8 899.2) rotate(-90) scale(0.888 1)">šťavelová</text><text transform="translate(1473.9 899.2) rotate(-90) scale(0.87 1)">oglejená</text><text transform="translate(1432.0 1055.0) rotate(-90) scale(0.856 1)">HLINITÁ jdBK</text><text transform="translate(1459.8 1055.0) rotate(-90) scale(0.888 1)">šťavelová</text><text transform="translate(1473.9 1055.0) rotate(-90) scale(0.898 1)">vysokobylinná</text><text transform="translate(1488.0 1055.0) rotate(-90) scale(0.883 1)">mařinkova</text><text transform="translate(1502.1 1055.0) rotate(-90) scale(0.87 1)">oglejená</text><text transform="translate(1432.0 1216.1) rotate(-90) scale(0.849 1)">HLINITÁ BK</text><text transform="translate(1459.8 1216.1) rotate(-90) scale(0.888 1)">šťavelová</text><text transform="translate(1473.9 1216.1) rotate(-90) scale(0.885 1)">s ostřicí chlupatou</text><text transform="translate(1488.0 1216.1) rotate(-90) scale(0.87 1)">oglejená</text><text transform="translate(1502.1 1216.1) rotate(-90) scale(0.888 1)">bukovincová</text><text transform="translate(1432.0 1381.1) rotate(-90) scale(0.848 1)">HLINITÁ dbBK</text><text transform="translate(1459.8 1381.1) rotate(-90) scale(0.888 1)">šťavelová</text><text transform="translate(1473.9 1381.1) rotate(-90) scale(0.885 1)">s ostřicí chlupatou</text><text transform="translate(1488.0 1381.1) rotate(-90) scale(0.884 1)">s ostřicí prstnatou</text><text transform="translate(1502.1 1381.1) rotate(-90) scale(0.905 1)">strdivková</text><text transform="translate(1516.2 1381.1) rotate(-90) scale(0.893 1)">biková s ostřicí chlup.</text><text transform="translate(1530.3 1381.1) rotate(-90) scale(0.885 1)">ostružníková</text><text transform="translate(1544.4 1381.1) rotate(-90) scale(0.87 1)">oglejená</text><text transform="translate(1432.0 1547.0) rotate(-90) scale(0.848 1)">HLIN. A SPRAŠ. bkDB</text><text transform="translate(1459.8 1547.0) rotate(-90) scale(0.888 1)">srhová</text><text transform="translate(1473.9 1547.0) rotate(-90) scale(0.885 1)">s ostřicí chlupatou</text><text transform="translate(1488.0 1547.0) rotate(-90) scale(0.893 1)">s ostřicí horskou</text><text transform="translate(1502.1 1547.0) rotate(-90) scale(0.893 1)">biková s ostřicí chlup.</text><text transform="translate(1516.2 1547.0) rotate(-90) scale(0.888 1)">šťavelová</text><text transform="translate(1530.3 1547.0) rotate(-90) scale(0.87 1)">oglejená</text><text transform="translate(1544.4 1547.0) rotate(-90) scale(0.905 1)">strdivková</text><text transform="translate(1432.0 1717.2) rotate(-90) scale(0.843 1)">SPRAŠ. A HLIN. hbDB</text><text transform="translate(1459.8 1717.2) rotate(-90) scale(0.893 1)">s ostřicí horskou</text><text transform="translate(1473.9 1717.2) rotate(-90) scale(0.899 1)">válečková</text><text transform="translate(1488.0 1717.2) rotate(-90) scale(0.882 1)">s válečkou prap.</text><text transform="translate(1502.1 1717.2) rotate(-90) scale(0.891 1)">brčálová</text><text transform="translate(1516.2 1717.2) rotate(-90) scale(0.872 1)">hbdřDB kamejková</text><text transform="translate(1530.3 1717.2) rotate(-90) scale(0.88 1)">hbdřDB s ostřicí hors.</text><text transform="translate(1573.8 745.0) rotate(-90) scale(0.856 1)">OBOHACENÁ smBK</text><text transform="translate(1602.8 745.0) rotate(-90) scale(0.875 1)">bažanková</text><text transform="translate(1616.9 745.0) rotate(-90) scale(0.877 1)">kapradinová</text><text transform="translate(1631.0 745.0) rotate(-90) scale(0.888 1)">netýkavková</text><text transform="translate(1645.1 745.0) rotate(-90) scale(0.893 1)">devětsilová</text><text transform="translate(1659.2 745.0) rotate(-90) scale(0.878 1)">terasová</text><text transform="translate(1673.3 745.0) rotate(-90) scale(0.909 1)">s řeřišnicí trojlistou</text><text transform="translate(1573.8 1055.0) rotate(-90) scale(0.857 1)">OBOHACENÁ jdBK</text><text transform="translate(1602.8 1055.0) rotate(-90) scale(0.875 1)">bažanková</text><text transform="translate(1616.9 1055.0) rotate(-90) scale(0.905 1)">strdivková</text><text transform="translate(1631.0 1055.0) rotate(-90) scale(0.877 1)">kapradinová</text><text transform="translate(1645.1 1055.0) rotate(-90) scale(0.888 1)">netýkavková</text><text transform="translate(1659.2 1055.0) rotate(-90) scale(0.893 1)">devětsilová</text><text transform="translate(1673.3 1055.0) rotate(-90) scale(0.885 1)">česneková</text><text transform="translate(1687.4 1055.0) rotate(-90) scale(0.881 1)">ječmenková</text><text transform="translate(1701.5 1055.0) rotate(-90) scale(0.888 1)">měsíčnicová</text><text transform="translate(1573.8 1216.1) rotate(-90) scale(0.852 1)">OBOHACENÁ BK</text><text transform="translate(1602.8 1216.1) rotate(-90) scale(0.875 1)">bažanková</text><text transform="translate(1616.1 1216.1) rotate(-90) scale(0.905 1)">strdivková</text><text transform="translate(1629.5 1216.1) rotate(-90) scale(0.877 1)">kapradinová</text><text transform="translate(1642.8 1216.1) rotate(-90) scale(0.888 1)">netýkavková</text><text transform="translate(1656.2 1216.1) rotate(-90) scale(0.883 1)">mařinková</text><text transform="translate(1669.5 1216.1) rotate(-90) scale(0.913 1)">bršlicová</text><text transform="translate(1682.8 1216.1) rotate(-90) scale(0.893 1)">devětsilová</text><text transform="translate(1696.2 1216.1) rotate(-90) scale(0.885 1)">česneková</text><text transform="translate(1709.5 1216.1) rotate(-90) scale(0.884 1)">svahová</text><text transform="translate(1573.8 1381.1) rotate(-90) scale(0.851 1)">OBOHACENÁ dbBK</text><text transform="translate(1602.8 1381.1) rotate(-90) scale(0.899 1)">válečková</text><text transform="translate(1616.1 1381.1) rotate(-90) scale(0.875 1)">bažanková</text><text transform="translate(1629.5 1381.1) rotate(-90) scale(0.905 1)">strdivková</text><text transform="translate(1642.8 1381.1) rotate(-90) scale(0.913 1)">bršlicová</text><text transform="translate(1656.2 1381.1) rotate(-90) scale(0.888 1)">hluchavková</text><text transform="translate(1669.5 1381.1) rotate(-90) scale(0.877 1)">kapradinová</text><text transform="translate(1682.8 1381.1) rotate(-90) scale(0.888 1)">netýkavková</text><text transform="translate(1696.2 1381.1) rotate(-90) scale(0.885 1)">s ostřicí chlupatou</text><text transform="translate(1709.5 1381.1) rotate(-90) scale(0.884 1)">svahová</text><text transform="translate(1573.8 1547.0) rotate(-90) scale(0.86 1)">OBOHACENÁ bkDB</text><text transform="translate(1602.8 1547.0) rotate(-90) scale(0.899 1)">válečková</text><text transform="translate(1616.9 1547.0) rotate(-90) scale(0.875 1)">bažanková</text><text transform="translate(1631.0 1547.0) rotate(-90) scale(0.905 1)">strdivková</text><text transform="translate(1645.1 1547.0) rotate(-90) scale(0.888 1)">hluchavková</text><text transform="translate(1659.2 1547.0) rotate(-90) scale(0.913 1)">bršlicová</text><text transform="translate(1673.3 1547.0) rotate(-90) scale(0.885 1)">ptačincová</text><text transform="translate(1687.4 1547.0) rotate(-90) scale(0.895 1)">s ostřicí chlup.</text><text transform="translate(1573.8 1717.2) rotate(-90) scale(0.855 1)">OBOHACENÁ hbDB</text><text transform="translate(1602.8 1717.2) rotate(-90) scale(0.899 1)">válečková</text><text transform="translate(1616.9 1717.2) rotate(-90) scale(0.875 1)">bažanková</text><text transform="translate(1631.0 1717.2) rotate(-90) scale(0.905 1)">strdivková</text><text transform="translate(1645.1 1717.2) rotate(-90) scale(0.913 1)">bršlicová</text><text transform="translate(1659.2 1717.2) rotate(-90) scale(0.888 1)">hluchavková</text><text transform="translate(1673.3 1717.2) rotate(-90) scale(0.888 1)">srhová</text><text transform="translate(1687.4 1717.2) rotate(-90) scale(0.888 1)">kakostová</text><text transform="translate(1701.5 1717.2) rotate(-90) scale(0.89 1)">/konvalinková/</text><text transform="translate(1733.0 587.8) rotate(-90) scale(0.882 1)">klSM</text><text transform="translate(1762.0 587.8) rotate(-90) scale(0.888 1)">šťavelová</text><text transform="translate(1776.1 587.8) rotate(-90) scale(0.898 1)">vysokobylinná</text><text transform="translate(1733.0 745.0) rotate(-90) scale(0.879 1)">klsmBK</text><text transform="translate(1762.0 745.0) rotate(-90) scale(0.875 1)">bažanková</text><text transform="translate(1776.1 745.0) rotate(-90) scale(0.877 1)">kapradinová</text><text transform="translate(1790.2 745.0) rotate(-90) scale(0.888 1)">bukovincová</text><text transform="translate(1804.3 745.0) rotate(-90) scale(0.888 1)">šťavelová</text><text transform="translate(1818.4 745.0) rotate(-90) scale(0.893 1)">devětsilová</text><text transform="translate(1832.5 745.0) rotate(-90) scale(0.915 1)">zakrslá</text><text transform="translate(1732.8 1055.0) rotate(-90) scale(0.877 1)">klBK</text><text transform="translate(1760.8 1055.0) rotate(-90) scale(0.875 1)">bažanková</text><text transform="translate(1774.9 1055.0) rotate(-90) scale(0.905 1)">strdivková</text><text transform="translate(1789.0 1055.0) rotate(-90) scale(0.881 1)">s pitulníkem</text><text transform="translate(1803.1 1055.0) rotate(-90) scale(0.877 1)">kapradinová</text><text transform="translate(1817.2 1055.0) rotate(-90) scale(0.896 1)">s kostřavou nejvyšší</text><text transform="translate(1831.3 1055.0) rotate(-90) scale(0.888 1)">šťavelová</text><text transform="translate(1845.4 1055.0) rotate(-90) scale(0.875 1)">vápencová</text><text transform="translate(1732.8 1216.1) rotate(-90) scale(0.853 1)">lpBK</text><text transform="translate(1760.8 1216.1) rotate(-90) scale(0.875 1)">bažanková</text><text transform="translate(1774.9 1216.1) rotate(-90) scale(0.905 1)">strdivková</text><text transform="translate(1789.0 1216.1) rotate(-90) scale(0.906 1)">lipnicová</text><text transform="translate(1803.1 1216.1) rotate(-90) scale(0.881 1)">s pitulníkem</text><text transform="translate(1817.2 1216.1) rotate(-90) scale(0.877 1)">kapradinová</text><text transform="translate(1831.3 1216.1) rotate(-90) scale(0.867 1)">ochuzená</text><text transform="translate(1845.4 1216.1) rotate(-90) scale(0.875 1)">vápencová</text><text transform="translate(1732.8 1381.1) rotate(-90) scale(0.85 1)">lpdbBK</text><text transform="translate(1760.8 1381.1) rotate(-90) scale(0.875 1)">bažanková</text><text transform="translate(1774.9 1381.1) rotate(-90) scale(0.905 1)">strdivková</text><text transform="translate(1789.0 1381.1) rotate(-90) scale(0.906 1)">lipnicová</text><text transform="translate(1803.1 1381.1) rotate(-90) scale(0.881 1)">s pitulníkem</text><text transform="translate(1817.2 1381.1) rotate(-90) scale(0.884 1)">s ostřicí prstnatou</text><text transform="translate(1831.3 1381.1) rotate(-90) scale(0.877 1)">kapradinová</text><text transform="translate(1845.4 1381.1) rotate(-90) scale(0.875 1)">vápencová</text><text transform="translate(1732.8 1547.0) rotate(-90) scale(0.891 1)">jvbkDB</text><text transform="translate(1760.8 1547.0) rotate(-90) scale(0.875 1)">bažanková</text><text transform="translate(1774.9 1547.0) rotate(-90) scale(0.905 1)">strdivková</text><text transform="translate(1789.0 1547.0) rotate(-90) scale(0.906 1)">lipnicová</text><text transform="translate(1803.1 1547.0) rotate(-90) scale(0.875 1)">vápencová</text><text transform="translate(1732.8 1717.2) rotate(-90) scale(0.875 1)">jvhbDB</text><text transform="translate(1760.8 1717.2) rotate(-90) scale(0.875 1)">bažanková</text><text transform="translate(1774.9 1717.2) rotate(-90) scale(0.905 1)">strdivková</text><text transform="translate(1789.0 1717.2) rotate(-90) scale(0.906 1)">lipnicová</text><text transform="translate(1803.1 1717.2) rotate(-90) scale(0.885 1)">ptačincová</text><text transform="translate(1817.2 1717.2) rotate(-90) scale(0.875 1)">vápencová</text><text transform="translate(1875.5 746.0) rotate(-90) scale(0.872 1)">VRCHOLOVÁ jsJV</text><text transform="translate(1879.3 1133.6) rotate(-90) scale(0.891 1)">SUŤOVÁ (jl-js) JV</text><text transform="translate(1896.8 1133.6) rotate(-90) scale(0.875 1)">bažanková</text><text transform="translate(1911.2 1133.6) rotate(-90) scale(0.888 1)">netýkavková</text><text transform="translate(1925.6 1133.6) rotate(-90) scale(0.877 1)">kapradinová</text><text transform="translate(1940.0 1133.6) rotate(-90) scale(0.881 1)">lipnicová hřeben.</text><text transform="translate(1954.4 1133.6) rotate(-90) scale(0.868 1)">kapradinová hřeben.</text><text transform="translate(1966.5 1055.0) rotate(-90) scale(0.886 1)">roklinová  JV  vyšší  stupeň</text><text transform="translate(1938.0 950.0) rotate(-90) scale(0.896 1)">měsíčnicová (vrchol.)</text><text transform="translate(1953.5 950.0) rotate(-90) scale(0.875 1)">vápencová</text><text transform="translate(1899.0 1218.5) rotate(-90) scale(0.874 1)">“bohatší”</text><text transform="translate(1914.0 1218.5) rotate(-90) scale(0.875 1)">bažanková</text><text transform="translate(1928.5 1218.5) rotate(-90) scale(0.888 1)">měsíčnicová</text><text transform="translate(1943.0 1218.5) rotate(-90) scale(0.875 1)">vápencová</text><text transform="translate(1880.5 1337.0) rotate(-90) scale(0.852 1)">LIPOVÁ JV</text><text transform="translate(1961.5 1385.0) rotate(-90) scale(0.886 1)">roklinová JV nižší stupeň</text><text transform="translate(1899.0 1462.0) rotate(-90) scale(0.889 1)">“chudší”</text><text transform="translate(1914.0 1462.0) rotate(-90) scale(0.906 1)">lipnicová</text><text transform="translate(1929.0 1462.0) rotate(-90) scale(0.877 1)">kapradinová /balv./</text><text transform="translate(1943.5 1462.0) rotate(-90) scale(0.881 1)">s pitulníkem</text><text transform="translate(1875.8 1717.2) rotate(-90) scale(0.853 1)">HABROVÁ JV</text><text transform="translate(1900.8 1717.2) rotate(-90) scale(0.906 1)">lipnicová</text><text transform="translate(1914.4 1717.2) rotate(-90) scale(0.888 1)">kakostová</text><text transform="translate(1928.0 1717.2) rotate(-90) scale(0.888 1)">hluchavková</text><text transform="translate(1941.6 1717.2) rotate(-90) scale(0.875 1)">bažanková</text><text transform="translate(1955.2 1717.2) rotate(-90) scale(0.875 1)">vápencová</text><text transform="translate(2050.0 746.0) rotate(-90) scale(0.848 1)">LUH OLŠE ŠEDÉ</text><text transform="translate(2082.5 746.0) rotate(-90) scale(0.86 1)">potoční</text><text transform="translate(2096.5 746.0) rotate(-90) scale(0.87 1)">prameništní</text><text transform="translate(2052.0 975.5) rotate(-90) scale(0.877 1)">MONTÁNNÍ /js/OL</text><text transform="translate(2079.5 975.5) rotate(-90) scale(0.86 1)">potoční</text><text transform="translate(2093.5 975.5) rotate(-90) scale(0.87 1)">prameništní</text><text transform="translate(2108.0 975.5) rotate(-90) scale(0.921 1)">s krabilicí</text><text transform="translate(1989.0 1194.0) rotate(-90) scale(0.857 1)">JASANOVÁ OL</text><text transform="translate(2016.0 1194.0) rotate(-90) scale(0.86 1)">potoční</text><text transform="translate(2030.0 1194.0) rotate(-90) scale(0.87 1)">prameništní</text><text transform="translate(2044.5 1194.0) rotate(-90) scale(0.871 1)">trsnatá</text><text transform="translate(1988.0 1547.0) rotate(-90) scale(0.871 1)">POTOČNÍ LUH</text><text transform="translate(2016.0 1547.0) rotate(-90) scale(0.876 1)">pahorkatinný</text><text transform="translate(2030.0 1547.0) rotate(-90) scale(0.883 1)">podhorský</text><text transform="translate(1987.8 1689.0) rotate(-90) scale(0.86 1)">JILMOVÝ LUH</text><text transform="translate(2015.3 1689.0) rotate(-90) scale(0.885 1)">s ostružníkem jež.</text><text transform="translate(2029.4 1689.0) rotate(-90) scale(0.927 1)">bršlicový</text><text transform="translate(2043.5 1689.0) rotate(-90) scale(0.91 1)">válečkový</text><text transform="translate(2057.6 1689.0) rotate(-90) scale(0.896 1)">ptačincový</text><text transform="translate(2071.7 1689.0) rotate(-90) scale(0.914 1)">ostřicový</text><text transform="translate(2085.8 1689.0) rotate(-90) scale(0.861 1)">na hrudech</text><text transform="translate(2099.9 1689.0) rotate(-90) scale(0.909 1)">štěrkovitý</text><text transform="translate(1979.0 1716.0) scale(0.84 1)">1L db JS</text><text transform="translate(2155.0 884.0) rotate(-90) scale(0.86 1)">potoční</text><text transform="translate(2130.5 1056.5) rotate(-90) scale(0.863 1)">VLHKÁ jsJV</text><text transform="translate(2158.5 1056.5) rotate(-90) scale(0.882 1)">úžlabní /devětsilová/</text><text transform="translate(2173.0 1056.5) rotate(-90) scale(0.888 1)">měsíčnicová</text><text transform="translate(2158.5 1207.0) rotate(-90) scale(0.878 1)">bažanková na nevyv. aluv.</text><text transform="translate(2173.0 1207.0) rotate(-90) scale(0.901 1)">ostřicová</text><text transform="translate(2131.5 1439.0) rotate(-90) scale(0.864 1)">JAVOROVÁ JS</text><text transform="translate(2159.0 1546.5) rotate(-90) scale(0.913 1)">bršlicová</text><text transform="translate(2173.0 1546.5) rotate(-90) scale(0.88 1)">bažanková na gleji</text><text transform="translate(2130.0 1689.0) rotate(-90) scale(0.866 1)">TOPOLOVÝ LUH</text><text transform="translate(2158.5 1689.0) rotate(-90) scale(0.909 1)">kopřivový</text><text transform="translate(2172.5 1689.0) rotate(-90) scale(0.905 1)">vrbový</text><text transform="translate(2197.0 587.8) rotate(-90) scale(0.858 1)">PODMÁČENÁ klSM</text><text transform="translate(2225.8 587.8) rotate(-90) scale(0.879 1)">havězová</text><text transform="translate(2239.9 587.8) rotate(-90) scale(0.869 1)">úžlabní  /papradková/</text><text transform="translate(2197.0 745.0) rotate(-90) scale(0.846 1)">VLHKÁ bkSM</text><text transform="translate(2225.8 745.0) rotate(-90) scale(0.87 1)">papradková</text><text transform="translate(2239.9 745.0) rotate(-90) scale(0.893 1)">devětsilová</text><text transform="translate(2254.0 745.0) rotate(-90) scale(0.888 1)">šťavelová</text><text transform="translate(2268.1 745.0) rotate(-90) scale(0.875 1)">úžlabní</text><text transform="translate(2296.2 745.0) rotate(-90) scale(0.857 1)">PODMÁČ. bkSM</text><text transform="translate(2197.0 899.2) rotate(-90) scale(0.843 1)">VLHKÁ smBK</text><text transform="translate(2225.8 899.2) rotate(-90) scale(0.87 1)">papradková</text><text transform="translate(2239.9 899.2) rotate(-90) scale(0.893 1)">devětsilová</text><text transform="translate(2254.0 899.2) rotate(-90) scale(0.888 1)">s bikou lesní</text><text transform="translate(2268.1 899.2) rotate(-90) scale(0.888 1)">šťavelová</text><text transform="translate(2282.2 899.2) rotate(-90) scale(0.875 1)">úžlabní</text><text transform="translate(2296.3 899.2) rotate(-90) scale(0.909 1)">s řeřišnicí trojlistou</text><text transform="translate(2310.4 899.2) rotate(-90) scale(0.851 1)">PODMÁČENÁ smBK</text><text transform="translate(2197.0 1055.0) rotate(-90) scale(0.843 1)">VLHKÁ jdBK</text><text transform="translate(2225.8 1055.0) rotate(-90) scale(0.888 1)">netýkavková</text><text transform="translate(2239.9 1055.0) rotate(-90) scale(0.87 1)">papradková</text><text transform="translate(2254.0 1055.0) rotate(-90) scale(0.893 1)">devětsilová</text><text transform="translate(2268.1 1055.0) rotate(-90) scale(0.888 1)">šťavelová</text><text transform="translate(2282.2 1055.0) rotate(-90) scale(0.898 1)">vysokobylinná</text><text transform="translate(2296.3 1055.0) rotate(-90) scale(0.851 1)">PODMÁČENÁ smBK</text><text transform="translate(2197.0 1216.1) rotate(-90) scale(0.833 1)">VLHKÁ BK</text><text transform="translate(2225.8 1216.1) rotate(-90) scale(0.888 1)">netýkavková</text><text transform="translate(2239.9 1216.1) rotate(-90) scale(0.888 1)">šťavelová</text><text transform="translate(2254.0 1216.1) rotate(-90) scale(0.846 1)">PODMÁČENÁ BK</text><text transform="translate(2197.0 1381.1) rotate(-90) scale(0.835 1)">VLHKÁ dbBK</text><text transform="translate(2225.8 1381.1) rotate(-90) scale(0.888 1)">netýkavková</text><text transform="translate(2239.9 1381.1) rotate(-90) scale(0.913 1)">bršlicová</text><text transform="translate(2254.0 1381.1) rotate(-90) scale(0.87 1)">papradková</text><text transform="translate(2268.1 1381.1) rotate(-90) scale(0.898 1)">vysokobylinná</text><text transform="translate(2282.2 1381.1) rotate(-90) scale(0.888 1)">šťavelová</text><text transform="translate(2296.3 1381.1) rotate(-90) scale(0.846 1)">PODMÁČENÁ dbBK</text><text transform="translate(2197.0 1547.0) rotate(-90) scale(0.849 1)">VLHKÁ bkDB</text><text transform="translate(2225.8 1547.0) rotate(-90) scale(0.888 1)">netýkavková</text><text transform="translate(2239.9 1547.0) rotate(-90) scale(0.913 1)">bršlicová</text><text transform="translate(2254.0 1547.0) rotate(-90) scale(0.881 1)">s metlicí trsnatou</text><text transform="translate(2268.1 1547.0) rotate(-90) scale(0.885 1)">ptačincová</text><text transform="translate(2282.2 1547.0) rotate(-90) scale(0.9 1)">s ostřicí lesní</text><text transform="translate(2296.3 1547.0) rotate(-90) scale(0.895 1)">s ostřicí chlup.</text><text transform="translate(2310.4 1547.0) rotate(-90) scale(0.855 1)">PODMÁČENÁ bkDB</text><text transform="translate(2197.0 1717.2) rotate(-90) scale(0.841 1)">VLHKÁ hbDB</text><text transform="translate(2225.8 1717.2) rotate(-90) scale(0.897 1)">kopřivová</text><text transform="translate(2239.9 1717.2) rotate(-90) scale(0.899 1)">válečková</text><text transform="translate(2254.0 1717.2) rotate(-90) scale(0.913 1)">bršlicová</text><text transform="translate(2268.1 1717.2) rotate(-90) scale(0.911 1)">čistcová</text><text transform="translate(2282.2 1717.2) rotate(-90) scale(0.901 1)">ostřicová</text><text transform="translate(2296.3 1717.2) rotate(-90) scale(0.881 1)">s metlicí trsnatou</text><text transform="translate(2310.4 1717.2) rotate(-90) scale(0.849 1)">PODMÁČENÁ hbDB</text><text transform="translate(2391.3 587.8) rotate(-90) scale(0.854 1)">OGLEJENÁ SVĚŽÍ SM</text><text transform="translate(2391.3 745.0) rotate(-90) scale(0.849 1)">SVĚŽÍ jdSM</text><text transform="translate(2421.7 745.0) rotate(-90) scale(0.888 1)">šťavelová</text><text transform="translate(2436.0 745.0) rotate(-90) scale(0.888 1)">s bikou lesní</text><text transform="translate(2391.3 899.2) rotate(-90) scale(0.863 1)">SVĚŽÍ smJD</text><text transform="translate(2421.7 899.2) rotate(-90) scale(0.888 1)">šťavelová</text><text transform="translate(2436.0 899.2) rotate(-90) scale(0.901 1)">ostřicová</text><text transform="translate(2391.3 1055.0) rotate(-90) scale(0.86 1)">SVĚŽÍ (bK) JD</text><text transform="translate(2421.7 1055.0) rotate(-90) scale(0.888 1)">šťavelová</text><text transform="translate(2436.0 1055.0) rotate(-90) scale(0.901 1)">ostřicová</text><text transform="translate(2450.3 1055.0) rotate(-90) scale(0.896 1)">s kostřavou nejvyšší</text><text transform="translate(2391.3 1216.1) rotate(-90) scale(0.855 1)">SVĚŽÍ dbJD</text><text transform="translate(2421.7 1216.1) rotate(-90) scale(0.888 1)">šťavelová</text><text transform="translate(2436.0 1216.1) rotate(-90) scale(0.901 1)">ostřicová</text><text transform="translate(2450.3 1216.1) rotate(-90) scale(0.881 1)">s ostružníkem</text><text transform="translate(2464.6 1216.1) rotate(-90) scale(0.887 1)">žindavová</text><text transform="translate(2334.3 1381.1) rotate(-90) scale(0.85 1)">jddbBK</text><text transform="translate(2362.3 1381.1) rotate(-90) scale(0.887 1)">žindavová</text><text transform="translate(2376.5 1381.1) rotate(-90) scale(0.899 1)">válečková</text><text transform="translate(2390.7 1381.1) rotate(-90) scale(0.885 1)">s ostřicí chlupatou</text><text transform="translate(2404.9 1381.1) rotate(-90) scale(0.884 1)">s ostřicí prstnatou</text><text transform="translate(2419.1 1381.1) rotate(-90) scale(0.88 1)">s ostružníkem chlup.</text><text transform="translate(2433.3 1381.1) rotate(-90) scale(0.888 1)">šťavelová</text><text transform="translate(2447.5 1381.1) rotate(-90) scale(0.901 1)">ostřicová</text><text transform="translate(2461.7 1381.1) rotate(-90) scale(0.881 1)">s metlicí trsnatou</text><text transform="translate(2334.3 1547.0) rotate(-90) scale(0.886 1)">jd(bk)DB</text><text transform="translate(2362.3 1547.0) rotate(-90) scale(0.887 1)">žindavová</text><text transform="translate(2376.5 1547.0) rotate(-90) scale(0.899 1)">válečková</text><text transform="translate(2390.7 1547.0) rotate(-90) scale(0.884 1)">s ostřicí prstnatou</text><text transform="translate(2404.9 1547.0) rotate(-90) scale(0.888 1)">šťavelová</text><text transform="translate(2419.1 1547.0) rotate(-90) scale(0.901 1)">ostřicová</text><text transform="translate(2433.3 1547.0) rotate(-90) scale(0.881 1)">s metlicí trsnatou</text><text transform="translate(2335.8 1717.2) rotate(-90) scale(0.846 1)">LIPOVÁ DB</text><text transform="translate(2364.3 1717.2) rotate(-90) scale(0.866 1)">mochnová</text><text transform="translate(2378.5 1717.2) rotate(-90) scale(0.902 1)">svízelová</text><text transform="translate(2392.7 1717.2) rotate(-90) scale(0.881 1)">se třtinou rákos.</text><text transform="translate(2406.9 1717.2) rotate(-90) scale(0.884 1)">bezkolencová</text><text transform="translate(2421.1 1717.2) rotate(-90) scale(0.894 1)">lipnicová s kostřavou ovčí</text><text transform="translate(2435.3 1717.2) rotate(-90) scale(0.881 1)">s metlicí trsnatou</text><text transform="translate(2449.5 1717.2) rotate(-90) scale(0.879 1)">ostružníková /ochuz./</text><text transform="translate(2463.7 1717.2) rotate(-90) scale(0.901 1)">ostřicová</text><text transform="translate(2500.4 587.8) rotate(-90) scale(0.791 1)">OGLEJENÁ KYSELÁ SM</text><text transform="translate(2529.1 587.8) rotate(-90) scale(0.884 1)">třtinová</text><text transform="translate(2500.4 745.0) rotate(-90) scale(0.839 1)">KYSELÁ jdSM</text><text transform="translate(2529.1 745.0) rotate(-90) scale(0.884 1)">třtinová</text><text transform="translate(2543.3 745.0) rotate(-90) scale(0.887 1)">třtinová s rašeliníkem</text><text transform="translate(2557.5 745.0) rotate(-90) scale(0.89 1)">skeletová</text><text transform="translate(2500.4 899.2) rotate(-90) scale(0.851 1)">KYSELÁ smJD</text><text transform="translate(2529.1 899.2) rotate(-90) scale(0.884 1)">třtinová</text><text transform="translate(2543.0 899.2) rotate(-90) scale(0.896 1)">metličková</text><text transform="translate(2556.9 899.2) rotate(-90) scale(0.886 1)">metličková se šťavelem</text><text transform="translate(2570.8 899.2) rotate(-90) scale(0.891 1)">s rašeliníkem</text><text transform="translate(2500.4 1055.0) rotate(-90) scale(0.843 1)">KYSELÁ JD</text><text transform="translate(2529.1 1055.0) rotate(-90) scale(0.876 1)">s bikou chlupatou</text><text transform="translate(2543.0 1055.0) rotate(-90) scale(0.883 1)">borůvková</text><text transform="translate(2556.9 1055.0) rotate(-90) scale(0.879 1)">bezkolencoá</text><text transform="translate(2570.8 1055.0) rotate(-90) scale(0.896 1)">metličková</text><text transform="translate(2500.4 1216.1) rotate(-90) scale(0.843 1)">KYSELÁ dbJD</text><text transform="translate(2529.1 1216.1) rotate(-90) scale(0.876 1)">s bikou chlupatou</text><text transform="translate(2543.0 1216.1) rotate(-90) scale(0.883 1)">borůvková</text><text transform="translate(2556.9 1216.1) rotate(-90) scale(0.884 1)">třtinová</text><text transform="translate(2570.8 1216.1) rotate(-90) scale(0.896 1)">metličková</text><text transform="translate(2499.9 1381.1) rotate(-90) scale(0.841 1)">KYSELÁ jdDB</text><text transform="translate(2513.9 1381.1) rotate(-90) scale(0.886 1)">vyšší  stupeň</text><text transform="translate(2533.9 1381.1) rotate(-90) scale(0.876 1)">s bikou chlupatou</text><text transform="translate(2546.2 1381.1) rotate(-90) scale(0.883 1)">borůvková</text><text transform="translate(2558.5 1381.1) rotate(-90) scale(0.869 1)">mechová</text><text transform="translate(2570.8 1381.1) rotate(-90) scale(0.905 1)">s ostřicí třeslicovitou</text><text transform="translate(2499.9 1547.0) rotate(-90) scale(0.841 1)">KYSELÁ jdDB</text><text transform="translate(2513.9 1547.0) rotate(-90) scale(0.879 1)">nižší  stupeň</text><text transform="translate(2537.4 1547.0) rotate(-90) scale(0.876 1)">s bikou chlupatou</text><text transform="translate(2548.5 1547.0) rotate(-90) scale(0.89 1)">s ostřicí srstnatou</text><text transform="translate(2559.7 1547.0) rotate(-90) scale(0.895 1)">konvalinková</text><text transform="translate(2570.8 1547.0) rotate(-90) scale(0.9 1)">s bukvicí lékařskou</text><text transform="translate(2500.4 1717.2) rotate(-90) scale(0.849 1)">SVĚŽÍ břDB</text><text transform="translate(2529.1 1717.2) rotate(-90) scale(0.901 1)">ostřicová</text><text transform="translate(2543.0 1717.2) rotate(-90) scale(0.884 1)">třtinová</text><text transform="translate(2556.9 1717.2) rotate(-90) scale(0.899 1)">hasivková</text><text transform="translate(2570.8 1717.2) rotate(-90) scale(0.888 1)">vátých písků</text><text transform="translate(2595.9 587.8) rotate(-90) scale(0.854 1)">PODMÁČ. CHUDÁ SM</text><text transform="translate(2623.6 587.8) rotate(-90) scale(0.883 1)">borůvková</text><text transform="translate(2637.8 587.8) rotate(-90) scale(0.896 1)">rašeliníková</text><text transform="translate(2595.9 745.0) rotate(-90) scale(0.859 1)">CHUDÁ jdSM</text><text transform="translate(2623.6 745.0) rotate(-90) scale(0.883 1)">borůvková</text><text transform="translate(2637.8 745.0) rotate(-90) scale(0.886 1)">s borovicí /bezkolencová/</text><text transform="translate(2595.9 899.2) rotate(-90) scale(0.871 1)">CHUDÁ smJD</text><text transform="translate(2623.6 899.2) rotate(-90) scale(0.883 1)">borůvková</text><text transform="translate(2637.8 899.2) rotate(-90) scale(0.891 1)">s rašeliníkem</text><text transform="translate(2652.0 899.2) rotate(-90) scale(0.886 1)">s borovicí /bezkolencová/</text><text transform="translate(2595.9 1055.0) rotate(-90) scale(0.868 1)">CHUDÁ JD</text><text transform="translate(2623.6 1055.0) rotate(-90) scale(0.883 1)">borůvková</text><text transform="translate(2637.3 1055.0) rotate(-90) scale(0.891 1)">s rašeliníkem</text><text transform="translate(2651.0 1055.0) rotate(-90) scale(0.869 1)">mechová</text><text transform="translate(2664.7 1055.0) rotate(-90) scale(0.884 1)">bezkolencová</text><text transform="translate(2595.9 1216.1) rotate(-90) scale(0.864 1)">CHUDÁ dbJD</text><text transform="translate(2623.6 1216.1) rotate(-90) scale(0.883 1)">borůvková</text><text transform="translate(2637.3 1216.1) rotate(-90) scale(0.891 1)">s rašeliníkem</text><text transform="translate(2651.0 1216.1) rotate(-90) scale(0.869 1)">mechová</text><text transform="translate(2664.7 1216.1) rotate(-90) scale(0.884 1)">bezkolencová</text><text transform="translate(2594.3 1381.1) rotate(-90) scale(0.862 1)">CHUDÁ jdDB</text><text transform="translate(2608.3 1381.1) rotate(-90) scale(0.886 1)">vyšší  stupeň</text><text transform="translate(2634.3 1381.1) rotate(-90) scale(0.883 1)">borůvková</text><text transform="translate(2648.5 1381.1) rotate(-90) scale(0.884 1)">bezkolencová</text><text transform="translate(2594.3 1547.0) rotate(-90) scale(0.862 1)">CHUDÁ jdDB</text><text transform="translate(2608.3 1547.0) rotate(-90) scale(0.879 1)">nižší  stupeň</text><text transform="translate(2634.3 1547.0) rotate(-90) scale(0.883 1)">borůvková</text><text transform="translate(2648.5 1547.0) rotate(-90) scale(0.869 1)">mechová</text><text transform="translate(2595.9 1717.2) rotate(-90) scale(0.859 1)">CHUDÁ břDB</text><text transform="translate(2623.6 1717.2) rotate(-90) scale(0.884 1)">bezkolencová</text><text transform="translate(2637.3 1717.2) rotate(-90) scale(0.883 1)">borůvková</text><text transform="translate(2651.0 1717.2) rotate(-90) scale(0.891 1)">s rašeliníkem</text><text transform="translate(2664.7 1717.2) rotate(-90) scale(0.87 1)">tomková s medyňkem</text><text transform="translate(2688.5 587.8) rotate(-90) scale(0.849 1)">PODMÁČ. ZAKRS. SM</text><text transform="translate(2717.5 587.8) rotate(-90) scale(0.884 1)">bezkolencová</text><text transform="translate(2731.1 587.8) rotate(-90) scale(0.87 1)">prutnatcová</text><text transform="translate(2744.6 587.8) rotate(-90) scale(0.884 1)">třtinová</text><text transform="translate(2758.2 587.8) rotate(-90) scale(0.879 1)">močálová</text><text transform="translate(2771.8 587.8) rotate(-90) scale(0.901 1)">klečová</text><text transform="translate(2688.5 745.0) rotate(-90) scale(0.859 1)">PODMÁČ. CHUD. jdSM</text><text transform="translate(2717.5 745.0) rotate(-90) scale(0.896 1)">rašeliníková</text><text transform="translate(2731.7 745.0) rotate(-90) scale(0.87 1)">prutnatcová</text><text transform="translate(2688.5 899.2) rotate(-90) scale(0.866 1)">PODMÁČ. CHUD. smJD</text><text transform="translate(2717.5 899.2) rotate(-90) scale(0.896 1)">rašeliníková</text><text transform="translate(2731.7 899.2) rotate(-90) scale(0.897 1)">s borovicí</text><text transform="translate(2745.9 899.2) rotate(-90) scale(0.881 1)">s bezkolencem</text><text transform="translate(2688.5 1381.1) rotate(-90) scale(0.861 1)">PODM. CHUDÁ jdDB</text><text transform="translate(2702.5 1381.1) rotate(-90) scale(0.886 1)">vyšší  stupeň</text><text transform="translate(2730.2 1381.1) rotate(-90) scale(0.884 1)">bezkolencová</text><text transform="translate(2688.5 1547.0) rotate(-90) scale(0.861 1)">PODM. CHUDÁ jdDB</text><text transform="translate(2702.5 1547.0) rotate(-90) scale(0.879 1)">nižší  stupeň</text><text transform="translate(2730.2 1547.0) rotate(-90) scale(0.884 1)">bezkolencová</text><text transform="translate(2744.4 1547.0) rotate(-90) scale(0.896 1)">rašeliníková</text><text transform="translate(2758.6 1547.0) rotate(-90) scale(0.909 1)">přesličková</text><text transform="translate(2688.5 1717.2) rotate(-90) scale(0.858 1)">BŘEZOVÁ OL</text><text transform="translate(2717.5 1717.2) rotate(-90) scale(0.884 1)">bezkolencová</text><text transform="translate(2731.1 1717.2) rotate(-90) scale(0.901 1)">ostřicová</text><text transform="translate(2744.6 1717.2) rotate(-90) scale(0.887 1)">slatinná</text><text transform="translate(2758.2 1717.2) rotate(-90) scale(0.888 1)">vátých písků</text><text transform="translate(2771.8 1717.2) rotate(-90) scale(0.881 1)">smOL</text><text transform="translate(2686.5 1138.5) rotate(-90) scale(0.865 1)">PODMÁČ CHUDÁ (db) JD</text><text transform="translate(2714.8 1138.5) rotate(-90) scale(0.884 1)">bezkolencová</text><text transform="translate(2729.0 1138.5) rotate(-90) scale(0.896 1)">rašeliníková</text><text transform="translate(2743.4 1138.5) rotate(-90) scale(0.909 1)">přesličková</text><text transform="translate(2795.9 587.8) rotate(-90) scale(0.848 1)">PODMÁČENÁ SM</text><text transform="translate(2824.6 587.8) rotate(-90) scale(0.909 1)">přesličková</text><text transform="translate(2838.5 587.8) rotate(-90) scale(0.896 1)">rašeliníková</text><text transform="translate(2852.4 587.8) rotate(-90) scale(0.884 1)">třtinová</text><text transform="translate(2866.3 587.8) rotate(-90) scale(0.89 1)">skeletová</text><text transform="translate(2795.9 745.0) rotate(-90) scale(0.857 1)">PODMÁČ. jdSM</text><text transform="translate(2824.6 745.0) rotate(-90) scale(0.909 1)">přesličková</text><text transform="translate(2838.5 745.0) rotate(-90) scale(0.884 1)">třtinová</text><text transform="translate(2852.4 745.0) rotate(-90) scale(0.888 1)">šťavelová</text><text transform="translate(2866.3 745.0) rotate(-90) scale(0.86 1)">potoční</text><text transform="translate(2795.9 899.2) rotate(-90) scale(0.861 1)">PODMÁČENÁ smJD</text><text transform="translate(2824.6 899.2) rotate(-90) scale(0.909 1)">přesličková</text><text transform="translate(2838.5 899.2) rotate(-90) scale(0.901 1)">ostřicová</text><text transform="translate(2852.4 899.2) rotate(-90) scale(0.884 1)">třtinová</text><text transform="translate(2866.3 899.2) rotate(-90) scale(0.898 1)">vysokobylinná</text><text transform="translate(2795.9 1055.0) rotate(-90) scale(0.858 1)">PODMÁČENÁ JD</text><text transform="translate(2824.6 1055.0) rotate(-90) scale(0.909 1)">přesličková</text><text transform="translate(2838.5 1055.0) rotate(-90) scale(0.901 1)">ostřicová</text><text transform="translate(2852.4 1055.0) rotate(-90) scale(0.884 1)">třtinová</text><text transform="translate(2866.3 1055.0) rotate(-90) scale(0.897 1)">s borovicí</text><text transform="translate(2795.9 1216.1) rotate(-90) scale(0.856 1)">PODMÁČENÁ dbJD</text><text transform="translate(2824.6 1216.1) rotate(-90) scale(0.909 1)">přesličková</text><text transform="translate(2838.5 1216.1) rotate(-90) scale(0.901 1)">ostřicová</text><text transform="translate(2852.4 1216.1) rotate(-90) scale(0.892 1)">metličková s rašeliníkem</text><text transform="translate(2866.3 1216.1) rotate(-90) scale(0.898 1)">vysokobylinná</text><text transform="translate(2795.9 1381.1) rotate(-90) scale(0.855 1)">PODMÁČENÁ jdDB</text><text transform="translate(2809.9 1381.1) rotate(-90) scale(0.886 1)">vyšší  stupeň</text><text transform="translate(2840.3 1381.1) rotate(-90) scale(0.909 1)">přesličková</text><text transform="translate(2853.3 1381.1) rotate(-90) scale(0.901 1)">ostřicová</text><text transform="translate(2866.3 1381.1) rotate(-90) scale(0.884 1)">třtinová</text><text transform="translate(2797.3 1547.0) rotate(-90) scale(0.855 1)">PODMÁČENÁ jdDB</text><text transform="translate(2811.3 1547.0) rotate(-90) scale(0.879 1)">nižší  stupeň</text><text transform="translate(2840.3 1547.0) rotate(-90) scale(0.909 1)">přesličková</text><text transform="translate(2854.5 1547.0) rotate(-90) scale(0.901 1)">ostřicová</text><text transform="translate(2795.9 1717.2) rotate(-90) scale(0.853 1)">/VRBOVÁ/ OL</text><text transform="translate(2824.6 1717.2) rotate(-90) scale(0.89 1)">lužní</text><text transform="translate(2838.8 1717.2) rotate(-90) scale(0.865 1)">mokřadní</text><text transform="translate(2853.0 1717.2) rotate(-90) scale(0.896 1)">iniciální  stádia</text><text transform="translate(2867.2 1717.2) rotate(-90) scale(0.879 1)">přechodná s js</text><text transform="translate(2925.0 393.0) scale(0.84 1)" font-size="12.6">VRCHOVIŠTNÍ KLEČ</text><text transform="translate(2925.0 408.0) scale(0.84 1)" font-size="12.6">kleč vrchovištní</text><text transform="translate(2925.0 422.0) scale(0.84 1)" font-size="12.6">kleč Pinus uncinata</text><text transform="translate(2890.3 587.8) rotate(-90) scale(0.855 1)">VRCHOVIŠTNÍ SM</text><text transform="translate(2919.8 587.8) rotate(-90) scale(0.884 1)">suchopýrová</text><text transform="translate(2934.0 587.8) rotate(-90) scale(0.884 1)">třtinová</text><text transform="translate(2948.2 587.8) rotate(-90) scale(0.883 1)">borůvková</text><text transform="translate(2962.4 587.8) rotate(-90) scale(0.888 1)">šťavelová</text><text transform="translate(2917.5 746.5) rotate(-90) scale(0.891 1)">metlicová</text><text transform="translate(2892.5 943.0) rotate(-90) scale(0.842 1)">SVĚŽÍ RAŠELINNÁ SM</text><text transform="translate(2920.0 943.0) rotate(-90) scale(0.888 1)">šťavelová</text><text transform="translate(2934.5 943.0) rotate(-90) scale(0.895 1)">olšová</text><text transform="translate(2977.5 773.0) rotate(-90) scale(0.837 1)">KYSELÁ RAŠELINNÁ SM</text><text transform="translate(3008.5 773.0) rotate(-90) scale(0.884 1)">třtinová</text><text transform="translate(3023.5 773.0) rotate(-90) scale(0.883 1)">borůvková</text><text transform="translate(3038.0 773.0) rotate(-90) scale(0.884 1)">bezkolencová</text><text transform="translate(3023.0 924.0) rotate(-90) scale(0.884 1)">bezkolencová</text><text transform="translate(3036.0 924.0) rotate(-90) scale(0.883 1)">borůvková</text><text transform="translate(3004.0 1072.5) rotate(-90) scale(0.842 1)">RAŠELINNÁ boSM</text><text transform="translate(3032.5 1072.5) rotate(-90) scale(0.896 1)">rašeliníková</text><text transform="translate(2892.0 1380.5) rotate(-90) scale(0.846 1)">SVĚŽÍ RELIKTNÍ SM</text><text transform="translate(2920.0 1380.5) rotate(-90) scale(0.888 1)">šťavelová</text><text transform="translate(2934.5 1380.5) rotate(-90) scale(0.895 1)">olšová</text><text transform="translate(2948.5 1380.5) rotate(-90) scale(0.884 1)">třtinová</text><text transform="translate(2980.5 1380.5) rotate(-90) scale(0.84 1)">KYSELÁ RELIKTNÍ SM</text><text transform="translate(3008.0 1380.5) rotate(-90) scale(0.883 1)">borůvková</text><text transform="translate(18.0 428.0) rotate(-90) scale(0.86 1)" letter-spacing="0.4">kleč</text><text transform="translate(16.5 588.6) rotate(-90) scale(0.86 1)" font-size="16" letter-spacing="0.4">smrkový</text><text transform="translate(16.5 745.8) rotate(-90) scale(0.86 1)" font-size="16" letter-spacing="0.4">bukosmrkový</text><text transform="translate(16.5 900.0) rotate(-90) scale(0.86 1)" font-size="16" letter-spacing="0.4">smrkobukový</text><text transform="translate(16.5 1055.8) rotate(-90) scale(0.86 1)" font-size="16" letter-spacing="0.4">jedlobukový</text><text transform="translate(16.5 1216.9) rotate(-90) scale(0.86 1)" font-size="16" letter-spacing="0.4">bukový</text><text transform="translate(16.5 1381.9) rotate(-90) scale(0.86 1)" font-size="16" letter-spacing="0.4">dubobukový</text><text transform="translate(16.5 1547.8) rotate(-90) scale(0.86 1)" font-size="16" letter-spacing="0.4">bukodubový</text><text transform="translate(16.5 1718.0) rotate(-90) scale(0.86 1)" font-size="16" letter-spacing="0.4">dubový</text><text transform="translate(55.0 444.3) scale(0.86 1)">I</text><text transform="translate(76.0 444.3) scale(0.87 1)" letter-spacing="0.35">ovlivnění vodou</text><text transform="translate(55.0 458.4) scale(0.86 1)">II</text><text transform="translate(77.0 458.4) scale(0.87 1)" letter-spacing="0.35">řada</text><text transform="translate(55.0 472.6) scale(0.86 1)">III</text><text transform="translate(78.0 472.6) scale(0.87 1)" letter-spacing="0.35">kategorie</text><text transform="translate(55.0 486.7) scale(0.86 1)">IV</text><text transform="translate(75.0 486.7) scale(0.87 1)" letter-spacing="0.35">charakteristické</text><text transform="translate(76.0 500.9) scale(0.87 1)" letter-spacing="0.35">rozšíření</text><text transform="translate(55.0 515.0) scale(0.86 1)">V</text><text transform="translate(74.0 515.0) scale(0.87 1)" letter-spacing="0.35">půdní typ (Němeč.)</text><text transform="translate(55.0 529.1) scale(0.86 1)">VI</text><text transform="translate(75.0 529.1) scale(0.87 1)" letter-spacing="0.35">vyznačené druhy</text><text transform="translate(73.0 543.3) scale(0.87 1)" letter-spacing="0.35">/typ./ fytocenózy</text><text transform="translate(55.0 557.4) scale(0.86 1)">VII</text><text transform="translate(75.0 557.4) scale(0.87 1)" letter-spacing="0.35">převládající</text><text transform="translate(73.0 571.6) scale(0.87 1)" letter-spacing="0.35">bonity (Schwap.)</text><text transform="translate(55.0 585.7) scale(0.86 1)">VIII</text><text transform="translate(75.5 585.7) scale(0.87 1)" letter-spacing="0.35">funkce lesa</text><text transform="translate(74.0 599.8) scale(0.87 1)" letter-spacing="0.35">P - produkční</text><text transform="translate(74.0 614.0) scale(0.87 1)" letter-spacing="0.35">O - ochranná</text><text transform="translate(74.0 628.1) scale(0.87 1)" letter-spacing="0.35">X - výjimky</text><text transform="translate(55.0 642.3) scale(0.86 1)">IX</text><text transform="translate(75.5 642.3) scale(0.87 1)" letter-spacing="0.35">subkategorie</text><text transform="translate(76.0 656.4) scale(0.87 1)" letter-spacing="0.35">zvláštních typů</text><text transform="translate(16.5 2005.0) rotate(-90) scale(0.86 1)" font-size="16" letter-spacing="0.4">bory</text><text transform="translate(50.5 2004.5) rotate(-90) scale(0.842 1)">DEALPINSKÝ BO</text><text transform="translate(78.5 2004.5) rotate(-90) scale(0.882 1)">s válečkou prap.</text><text transform="translate(92.6 2004.5) rotate(-90) scale(0.885 1)">pěchavový</text><text transform="translate(106.7 2004.5) rotate(-90) scale(0.884 1)">hadcový</text><text transform="translate(206.9 2004.5) rotate(-90) scale(0.85 1)">ZAKRSLÝ RELIKTNÍ BO</text><text transform="translate(234.9 2004.5) rotate(-90) scale(0.897 1)">skalnatý</text><text transform="translate(249.0 2004.5) rotate(-90) scale(0.884 1)">hadcový</text><text transform="translate(263.1 2004.5) rotate(-90) scale(0.89 1)">kamenitý /vřesový/</text><text transform="translate(373.5 2004.5) rotate(-90) scale(0.841 1)">SKELETOVÝ A</text><text transform="translate(387.5 2004.5) rotate(-90) scale(0.861 1)">ROKLINOVÝ BO</text><text transform="translate(418.0 2004.5) rotate(-90) scale(0.866 1)">CHUDÝ (db)BO</text><text transform="translate(447.0 2004.5) rotate(-90) scale(0.91 1)">vřesový</text><text transform="translate(461.1 2004.5) rotate(-90) scale(0.902 1)">brusinkový</text><text transform="translate(475.2 2004.5) rotate(-90) scale(0.894 1)">borůvkový</text><text transform="translate(489.3 2004.5) rotate(-90) scale(0.917 1)">lišejníkový</text><text transform="translate(503.4 2004.5) rotate(-90) scale(0.856 1)">na dunách</text><text transform="translate(536.0 1862.8) scale(0.87 1)" letter-spacing="0.3">KYSELÝ (dbbk)BO</text><text transform="translate(536.0 1891.6) scale(0.87 1)" letter-spacing="0.3">dbBO borůvkový</text><text transform="translate(536.0 1905.6) scale(0.87 1)" letter-spacing="0.3">dbBO na výr. podzolech</text><text transform="translate(536.0 1919.6) scale(0.87 1)" letter-spacing="0.3">dbbkBO borůvkový</text><text transform="translate(536.0 1933.6) scale(0.87 1)" letter-spacing="0.3">dbbkBO na výr. podzolech</text><text transform="translate(536.0 1947.6) scale(0.87 1)" letter-spacing="0.3">bkBO borůvkový</text><text transform="translate(536.0 1961.6) scale(0.87 1)" letter-spacing="0.3">bkBO na výr. podzolech</text><text transform="translate(728.0 1862.4) scale(0.87 1)" letter-spacing="0.3">(BUKO)SMRKOVÝ BO</text><text transform="translate(728.0 1890.2) scale(0.87 1)" letter-spacing="0.3">balvanitý borůvkový</text><text transform="translate(728.0 1904.2) scale(0.87 1)" letter-spacing="0.3">údolní borůvkový</text><text transform="translate(728.0 1918.2) scale(0.87 1)" letter-spacing="0.3">údolní metlicový</text><text transform="translate(728.0 1932.2) scale(0.87 1)" letter-spacing="0.3">údolní s kapradí osténkatou</text><text transform="translate(728.0 1946.2) scale(0.87 1)" letter-spacing="0.3">hadcový</text><text transform="translate(728.0 1960.2) scale(0.87 1)" letter-spacing="0.3">(bk)boSMborůvková</text><text transform="translate(728.0 1974.2) scale(0.87 1)" letter-spacing="0.3">(bk)boSMmetličková</text><text transform="translate(728.0 1988.2) scale(0.87 1)" letter-spacing="0.3">(bk)boSMtřtinová</text><text transform="translate(728.0 2002.2) scale(0.87 1)" letter-spacing="0.3">(bk)boSMs kapradí osténkatou</text><text transform="translate(967.5 1864.4) scale(0.87 1)" letter-spacing="0.3">HADCOVÝ BO</text><text transform="translate(967.5 1892.2) scale(0.87 1)" letter-spacing="0.3">borůvkový /se třtinou rákos./</text><text transform="translate(967.5 1906.2) scale(0.87 1)" letter-spacing="0.3">oglejený</text><text transform="translate(967.5 1920.2) scale(0.87 1)" letter-spacing="0.3">kostřavový</text><text transform="translate(967.5 1934.2) scale(0.87 1)" letter-spacing="0.3">s válečkou prap.</text><text transform="translate(967.5 1948.2) scale(0.87 1)" letter-spacing="0.3">/válečkový/</text><text transform="translate(1257.5 2011.0) scale(0.83 1)" font-size="14.2">© ÚHÚL BRANDÝS NAD LABEM -  2003</text><text transform="translate(2339.3 2004.0) rotate(-90) scale(0.856 1)">SVĚŽÍ jddbBO</text><text transform="translate(2369.3 2004.0) rotate(-90) scale(0.894 1)">borůvkový</text><text transform="translate(2383.5 2004.0) rotate(-90) scale(0.907 1)">metličkový</text><text transform="translate(2397.7 2004.0) rotate(-90) scale(0.861 1)">SVĚŽÍ bř(db)BO</text><text transform="translate(2498.9 2004.0) rotate(-90) scale(0.846 1)">KYSELÝ jddbBO</text><text transform="translate(2528.4 2004.0) rotate(-90) scale(0.894 1)">borůvkový</text><text transform="translate(2542.6 2004.0) rotate(-90) scale(0.9 1)">třtinový</text><text transform="translate(2556.8 2004.0) rotate(-90) scale(0.846 1)">KYSELÝ jdBO</text><text transform="translate(2594.8 2004.0) rotate(-90) scale(0.863 1)">CHUDÝ jddbBO</text><text transform="translate(2623.3 2004.0) rotate(-90) scale(0.894 1)">borůvkový</text><text transform="translate(2637.1 2004.0) rotate(-90) scale(0.902 1)">brusinkový</text><text transform="translate(2650.9 2004.0) rotate(-90) scale(0.892 1)">bezkolencový</text><text transform="translate(2664.7 2004.0) rotate(-90) scale(0.867 1)">CHUDÝ jdBO /smBO/</text><text transform="translate(2688.2 2004.0) rotate(-90) scale(0.864 1)">CHUDÝ břBO</text><text transform="translate(2715.7 2004.0) rotate(-90) scale(0.899 1)">rojovníkový</text><text transform="translate(2729.9 2004.0) rotate(-90) scale(0.892 1)">bezkolencový</text><text transform="translate(2744.1 2004.0) rotate(-90) scale(0.856 1)">PODMÁČENÝ břBO</text><text transform="translate(2795.3 2004.0) rotate(-90) scale(0.858 1)">PODMÁČENÝ smBO</text><text transform="translate(2822.8 2004.0) rotate(-90) scale(0.892 1)">bezkolencový</text><text transform="translate(2837.0 2004.0) rotate(-90) scale(0.883 1)">bezkolencový na hadci</text><text transform="translate(2851.2 2004.0) rotate(-90) scale(0.9 1)">třtinový</text><text transform="translate(2865.4 2004.0) rotate(-90) scale(0.848 1)">PODMÁČENÁ boSM</text><text transform="translate(2919.1 2004.0) rotate(-90) scale(0.85 1)">RAŠELINNÝ  BOR</text><text transform="translate(2947.1 2004.0) rotate(-90) scale(0.894 1)">borůvkový</text><text transform="translate(2961.3 2004.0) rotate(-90) scale(0.899 1)">rojovníkový</text><text transform="translate(2975.5 2004.0) rotate(-90) scale(0.867 1)">BLATKOVÝ BO borůvkový</text><text transform="translate(2989.7 2004.0) rotate(-90) scale(0.87 1)">BLATKOVÝ BO rojovníkový</text><text transform="translate(3003.9 2004.0) rotate(-90) scale(0.846 1)">boBŘ</text><text transform="translate(2340.0 1772.0) scale(0.88 1)" font-size="1"></text><text transform="translate(2327.0 1742.0) scale(0.87 1)" letter-spacing="0.4">LVS:</text><text transform="translate(2385.0 1742.0) scale(0.87 1)" letter-spacing="0.4">1 - 3</text><text transform="translate(2516.0 1742.0) scale(0.87 1)" letter-spacing="0.4">1 - 4</text><text transform="translate(2608.0 1742.0) scale(0.87 1)" letter-spacing="0.4">1 - 4</text><text transform="translate(2707.0 1742.0) scale(0.87 1)" letter-spacing="0.4">1 - 6</text><text transform="translate(2828.0 1742.0) scale(0.87 1)" letter-spacing="0.4">1 - 4</text></g><text transform="translate(10.5 18.0) scale(0.9 1)" font-size="24">*</text><text transform="translate(105.5 162.6) scale(0.8 1)" font-size="32" text-anchor="middle">X</text><text transform="translate(269.6 162.6) scale(0.8 1)" font-size="32" text-anchor="middle">Z</text><text transform="translate(375.2 162.6) scale(0.8 1)" font-size="32" text-anchor="middle">Y</text><text transform="translate(464.0 162.6) scale(0.8 1)" font-size="32" text-anchor="middle">M</text><text transform="translate(600.0 162.6) scale(0.8 1)" font-size="32" text-anchor="middle">K</text><text transform="translate(720.3 162.6) scale(0.8 1)" font-size="32" text-anchor="middle">N</text><text transform="translate(822.8 162.6) scale(0.8 1)" font-size="32" text-anchor="middle">I</text><text transform="translate(956.6 162.6) scale(0.8 1)" font-size="32" text-anchor="middle">S</text><text transform="translate(1066.9 162.6) scale(0.8 1)" font-size="32" text-anchor="middle">F</text><text transform="translate(1159.7 162.6) scale(0.8 1)" font-size="32" text-anchor="middle">C</text><text transform="translate(1483.8 162.6) scale(0.8 1)" font-size="32" text-anchor="middle">H</text><text transform="translate(1633.9 162.6) scale(0.8 1)" font-size="32" text-anchor="middle">D</text><text transform="translate(1787.4 162.6) scale(0.8 1)" font-size="32" text-anchor="middle">A</text><text transform="translate(1915.5 162.6) scale(0.8 1)" font-size="32" text-anchor="middle">J</text><text transform="translate(2042.3 162.6) scale(0.8 1)" font-size="32" text-anchor="middle">L</text><text transform="translate(2145.7 162.6) scale(0.8 1)" font-size="32" text-anchor="middle">U</text><text transform="translate(2246.7 162.6) scale(0.8 1)" font-size="32" text-anchor="middle">V</text><text transform="translate(2400.9 162.6) scale(0.8 1)" font-size="32" text-anchor="middle">O</text><text transform="translate(2529.4 162.6) scale(0.8 1)" font-size="32" text-anchor="middle">P</text><text transform="translate(2622.2 162.6) scale(0.8 1)" font-size="32" text-anchor="middle">Q</text><text transform="translate(2722.8 162.6) scale(0.8 1)" font-size="32" text-anchor="middle">T</text><text transform="translate(2823.6 162.6) scale(0.8 1)" font-size="32" text-anchor="middle">G</text><text transform="translate(1283.0 162.6) scale(0.8 1)" font-size="32" text-anchor="middle">B</text><text transform="translate(1379.0 162.6) scale(0.8 1)" font-size="32" text-anchor="middle">W</text><text transform="translate(2960.0 162.6) scale(0.8 1)" font-size="32" text-anchor="middle">R</text><text transform="translate(104.5 1094.1) scale(0.85 1)" font-size="33.5">4X</text><text transform="translate(37.5 1252.9) scale(0.85 1)" font-size="33.5">3X</text><text transform="translate(37.5 1417.9) scale(0.85 1)" font-size="33.5">2X</text><text transform="translate(36.5 1583.8) scale(0.85 1)" font-size="33.5">1X</text><text transform="translate(193.0 406.8) scale(0.85 1)" font-size="33.5">9Z</text><text transform="translate(193.0 464.0) scale(0.85 1)" font-size="33.5">8Z</text><text transform="translate(193.0 624.6) scale(0.85 1)" font-size="33.5">7Z</text><text transform="translate(193.0 781.8) scale(0.85 1)" font-size="33.5">6Z</text><text transform="translate(193.0 936.0) scale(0.85 1)" font-size="33.5">5Z</text><text transform="translate(193.0 1093.1) scale(0.85 1)" font-size="33.5">4Z</text><text transform="translate(193.0 1252.9) scale(0.85 1)" font-size="33.5">3Z</text><text transform="translate(193.0 1417.9) scale(0.85 1)" font-size="33.5">2Z</text><text transform="translate(193.0 1583.8) scale(0.85 1)" font-size="33.5">1Z</text><text transform="translate(356.8 406.8) scale(0.85 1)" font-size="33.5">9Y</text><text transform="translate(356.8 464.0) scale(0.85 1)" font-size="33.5">8Y</text><text transform="translate(356.8 624.6) scale(0.85 1)" font-size="33.5">7Y</text><text transform="translate(356.8 781.8) scale(0.85 1)" font-size="33.5">6Y</text><text transform="translate(356.8 936.0) scale(0.85 1)" font-size="33.5">5Y</text><text transform="translate(356.8 1093.1) scale(0.85 1)" font-size="33.5">4Y</text><text transform="translate(356.8 1252.9) scale(0.85 1)" font-size="33.5">3Y</text><text transform="translate(356.8 1417.9) scale(0.85 1)" font-size="33.5">2Y</text><text transform="translate(406.0 428.6) scale(0.85 1)" font-size="33.5">9K</text><text transform="translate(405.1 464.0) scale(0.85 1)" font-size="33.5">8M</text><text transform="translate(405.1 624.6) scale(0.85 1)" font-size="33.5">7M</text><text transform="translate(405.1 781.8) scale(0.85 1)" font-size="33.5">6M</text><text transform="translate(405.1 936.0) scale(0.85 1)" font-size="33.5">5M</text><text transform="translate(405.1 1093.1) scale(0.85 1)" font-size="33.5">4M</text><text transform="translate(405.1 1252.9) scale(0.85 1)" font-size="33.5">3M</text><text transform="translate(405.1 1417.9) scale(0.85 1)" font-size="33.5">2M</text><text transform="translate(405.1 1583.8) scale(0.85 1)" font-size="33.5">1M</text><text transform="translate(532.4 464.0) scale(0.85 1)" font-size="33.5">8K</text><text transform="translate(532.4 624.6) scale(0.85 1)" font-size="33.5">7K</text><text transform="translate(532.4 781.8) scale(0.85 1)" font-size="33.5">6K</text><text transform="translate(532.4 936.0) scale(0.85 1)" font-size="33.5">5K</text><text transform="translate(532.4 1093.1) scale(0.85 1)" font-size="33.5">4K</text><text transform="translate(532.4 1252.9) scale(0.85 1)" font-size="33.5">3K</text><text transform="translate(532.4 1417.9) scale(0.85 1)" font-size="33.5">2K</text><text transform="translate(532.4 1583.8) scale(0.85 1)" font-size="33.5">1K</text><text transform="translate(676.9 464.0) scale(0.85 1)" font-size="33.5">8N</text><text transform="translate(676.9 624.6) scale(0.85 1)" font-size="33.5">7N</text><text transform="translate(676.9 781.8) scale(0.85 1)" font-size="33.5">6N</text><text transform="translate(676.9 936.0) scale(0.85 1)" font-size="33.5">5N</text><text transform="translate(676.9 1093.1) scale(0.85 1)" font-size="33.5">4N</text><text transform="translate(676.9 1252.9) scale(0.85 1)" font-size="33.5">3N</text><text transform="translate(676.9 1417.9) scale(0.85 1)" font-size="33.5">2N</text><text transform="translate(676.9 1583.8) scale(0.85 1)" font-size="33.5">1N</text><text transform="translate(772.3 781.8) scale(0.85 1)" font-size="33.5">6I</text><text transform="translate(772.3 936.0) scale(0.85 1)" font-size="33.5">5I</text><text transform="translate(772.3 1093.1) scale(0.85 1)" font-size="33.5">4I</text><text transform="translate(772.3 1252.9) scale(0.85 1)" font-size="33.5">3I</text><text transform="translate(772.3 1417.9) scale(0.85 1)" font-size="33.5">2I</text><text transform="translate(772.3 1583.8) scale(0.85 1)" font-size="33.5">1I</text><text transform="translate(882.1 464.0) scale(0.85 1)" font-size="33.5">8S</text><text transform="translate(882.1 624.6) scale(0.85 1)" font-size="33.5">7S</text><text transform="translate(882.1 781.8) scale(0.85 1)" font-size="33.5">6S</text><text transform="translate(882.1 936.0) scale(0.85 1)" font-size="33.5">5S</text><text transform="translate(882.1 1093.1) scale(0.85 1)" font-size="33.5">4S</text><text transform="translate(882.1 1252.9) scale(0.85 1)" font-size="33.5">3S</text><text transform="translate(882.1 1417.9) scale(0.85 1)" font-size="33.5">2S</text><text transform="translate(882.1 1583.8) scale(0.85 1)" font-size="33.5">1S</text><text transform="translate(1042.5 464.0) scale(0.85 1)" font-size="33.5">8F</text><text transform="translate(1042.5 624.6) scale(0.85 1)" font-size="33.5">7F</text><text transform="translate(1042.5 781.8) scale(0.85 1)" font-size="33.5">6F</text><text transform="translate(1042.5 936.0) scale(0.85 1)" font-size="33.5">5F</text><text transform="translate(1042.5 1093.1) scale(0.85 1)" font-size="33.5">4F</text><text transform="translate(1042.5 1252.9) scale(0.85 1)" font-size="33.5">3F</text><text transform="translate(1103.3 936.0) scale(0.85 1)" font-size="33.5">5C</text><text transform="translate(1103.3 1093.1) scale(0.85 1)" font-size="33.5">4C</text><text transform="translate(1103.3 1252.9) scale(0.85 1)" font-size="33.5">3C</text><text transform="translate(1103.3 1417.9) scale(0.85 1)" font-size="33.5">2C</text><text transform="translate(1103.3 1583.8) scale(0.85 1)" font-size="33.5">1C</text><text transform="translate(1227.2 624.6) scale(0.85 1)" font-size="33.5">7B</text><text transform="translate(1227.2 781.8) scale(0.85 1)" font-size="33.5">6B</text><text transform="translate(1227.2 936.0) scale(0.85 1)" font-size="33.5">5B</text><text transform="translate(1227.2 1093.1) scale(0.85 1)" font-size="33.5">4B</text><text transform="translate(1227.2 1252.9) scale(0.85 1)" font-size="33.5">3B</text><text transform="translate(1227.2 1417.9) scale(0.85 1)" font-size="33.5">2B</text><text transform="translate(1227.2 1583.8) scale(0.85 1)" font-size="33.5">1B</text><text transform="translate(1366.7 936.0) scale(0.85 1)" font-size="33.5">5W</text><text transform="translate(1366.7 1093.1) scale(0.85 1)" font-size="33.5">4W</text><text transform="translate(1366.7 1252.9) scale(0.85 1)" font-size="33.5">3W</text><text transform="translate(1366.7 1417.9) scale(0.85 1)" font-size="33.5">2W</text><text transform="translate(1366.7 1583.8) scale(0.85 1)" font-size="33.5">1W</text><text transform="translate(1417.3 781.8) scale(0.85 1)" font-size="33.5">6H</text><text transform="translate(1417.3 936.0) scale(0.85 1)" font-size="33.5">5H</text><text transform="translate(1417.3 1093.1) scale(0.85 1)" font-size="33.5">4H</text><text transform="translate(1417.3 1252.9) scale(0.85 1)" font-size="33.5">3H</text><text transform="translate(1417.3 1417.9) scale(0.85 1)" font-size="33.5">2H</text><text transform="translate(1417.3 1583.8) scale(0.85 1)" font-size="33.5">1H</text><text transform="translate(1559.3 781.8) scale(0.85 1)" font-size="33.5">6D</text><text transform="translate(1559.3 936.0) scale(0.85 1)" font-size="33.5">5D</text><text transform="translate(1559.3 1093.1) scale(0.85 1)" font-size="33.5">4D</text><text transform="translate(1559.3 1252.9) scale(0.85 1)" font-size="33.5">3D</text><text transform="translate(1559.3 1417.9) scale(0.85 1)" font-size="33.5">2D</text><text transform="translate(1559.3 1583.8) scale(0.85 1)" font-size="33.5">1D</text><text transform="translate(1718.1 464.0) scale(0.85 1)" font-size="33.5">8A</text><text transform="translate(1718.1 781.8) scale(0.85 1)" font-size="33.5">6A</text><text transform="translate(1718.1 936.0) scale(0.85 1)" font-size="33.5">5A</text><text transform="translate(1718.1 1093.1) scale(0.85 1)" font-size="33.5">4A</text><text transform="translate(1718.1 1252.9) scale(0.85 1)" font-size="33.5">3A</text><text transform="translate(1718.1 1417.9) scale(0.85 1)" font-size="33.5">2A</text><text transform="translate(1718.1 1583.8) scale(0.85 1)" font-size="33.5">1A</text><text transform="translate(1866.7 781.8) scale(0.85 1)" font-size="33.5">6J</text><text transform="translate(1866.7 936.0) scale(0.85 1)" font-size="33.5">5J</text><text transform="translate(1866.7 1252.9) scale(0.85 1)" font-size="33.5">3J</text><text transform="translate(1865.3 1583.8) scale(0.85 1)" font-size="33.5">1J</text><text transform="translate(1976.4 780.0) scale(0.85 1)" font-size="33.5">6L</text><text transform="translate(1976.4 936.0) scale(0.85 1)" font-size="33.5">5L</text><text transform="translate(2021.8 1252.2) scale(0.85 1)" font-size="33.5">3L</text><text transform="translate(1979.3 1419.4) scale(0.85 1)" font-size="33.5">2L</text><text transform="translate(1975.3 1583.8) scale(0.85 1)" font-size="33.5">1L</text><text transform="translate(2119.9 936.0) scale(0.85 1)" font-size="33.5">5U</text><text transform="translate(2119.9 1252.9) scale(0.85 1)" font-size="33.5">3U</text><text transform="translate(2118.4 1583.8) scale(0.85 1)" font-size="33.5">1U</text><text transform="translate(2182.4 464.0) scale(0.85 1)" font-size="33.5">8V</text><text transform="translate(2182.4 624.6) scale(0.85 1)" font-size="33.5">7V</text><text transform="translate(2182.4 781.8) scale(0.85 1)" font-size="33.5">6V</text><text transform="translate(2182.4 936.0) scale(0.85 1)" font-size="33.5">5V</text><text transform="translate(2182.4 1093.1) scale(0.85 1)" font-size="33.5">4V</text><text transform="translate(2182.4 1252.9) scale(0.85 1)" font-size="33.5">3V</text><text transform="translate(2182.4 1417.9) scale(0.85 1)" font-size="33.5">2V</text><text transform="translate(2182.4 1583.8) scale(0.85 1)" font-size="33.5">1V</text><text transform="translate(2374.2 464.0) scale(0.85 1)" font-size="33.5">8O</text><text transform="translate(2374.2 624.6) scale(0.85 1)" font-size="33.5">7O</text><text transform="translate(2374.2 781.8) scale(0.85 1)" font-size="33.5">6O</text><text transform="translate(2374.2 936.0) scale(0.85 1)" font-size="33.5">5O</text><text transform="translate(2374.2 1093.1) scale(0.85 1)" font-size="33.5">4O</text><text transform="translate(2325.2 1252.9) scale(0.85 1)" font-size="33.5">3O</text><text transform="translate(2325.2 1417.9) scale(0.85 1)" font-size="33.5">2O</text><text transform="translate(2325.2 1583.8) scale(0.85 1)" font-size="33.5">1O</text><text transform="translate(2484.6 464.0) scale(0.85 1)" font-size="33.5">8P</text><text transform="translate(2484.6 624.6) scale(0.85 1)" font-size="33.5">7P</text><text transform="translate(2484.6 781.8) scale(0.85 1)" font-size="33.5">6P</text><text transform="translate(2484.6 936.0) scale(0.85 1)" font-size="33.5">5P</text><text transform="translate(2484.6 1093.1) scale(0.85 1)" font-size="33.5">4P</text><text transform="translate(2484.6 1252.9) scale(0.85 1)" font-size="33.5">3P</text><text transform="translate(2484.6 1417.9) scale(0.85 1)" font-size="33.5">2P</text><text transform="translate(2484.6 1583.8) scale(0.85 1)" font-size="33.5">1P</text><text transform="translate(2579.5 464.0) scale(0.85 1)" font-size="33.5">8Q</text><text transform="translate(2579.5 624.6) scale(0.85 1)" font-size="33.5">7Q</text><text transform="translate(2579.5 781.8) scale(0.85 1)" font-size="33.5">6Q</text><text transform="translate(2579.5 936.0) scale(0.85 1)" font-size="33.5">5Q</text><text transform="translate(2579.5 1093.1) scale(0.85 1)" font-size="33.5">4Q</text><text transform="translate(2579.5 1252.9) scale(0.85 1)" font-size="33.5">3Q</text><text transform="translate(2579.5 1417.9) scale(0.85 1)" font-size="33.5">2Q</text><text transform="translate(2579.5 1583.8) scale(0.85 1)" font-size="33.5">1Q</text><text transform="translate(2673.1 464.0) scale(0.85 1)" font-size="33.5">8T</text><text transform="translate(2673.1 624.6) scale(0.85 1)" font-size="33.5">7T</text><text transform="translate(2673.1 781.8) scale(0.85 1)" font-size="33.5">6T</text><text transform="translate(2673.1 1252.9) scale(0.85 1)" font-size="33.5">3T</text><text transform="translate(2673.1 1417.9) scale(0.85 1)" font-size="33.5">2T</text><text transform="translate(2673.1 1583.8) scale(0.85 1)" font-size="33.5">1T</text><text transform="translate(2673.1 936.0) scale(0.85 1)" font-size="33.5">5T</text><text transform="translate(2781.2 464.0) scale(0.85 1)" font-size="33.5">8G</text><text transform="translate(2781.2 624.6) scale(0.85 1)" font-size="33.5">7G</text><text transform="translate(2781.2 781.8) scale(0.85 1)" font-size="33.5">6G</text><text transform="translate(2781.2 936.0) scale(0.85 1)" font-size="33.5">5G</text><text transform="translate(2781.2 1093.1) scale(0.85 1)" font-size="33.5">4G</text><text transform="translate(2781.2 1252.9) scale(0.85 1)" font-size="33.5">3G</text><text transform="translate(2781.2 1417.9) scale(0.85 1)" font-size="33.5">2G</text><text transform="translate(2781.2 1583.8) scale(0.85 1)" font-size="33.5">1G</text><text transform="translate(2877.4 406.3) scale(0.85 1)" font-size="33.5">9R</text><text transform="translate(2877.4 464.0) scale(0.85 1)" font-size="33.5">8R</text><text transform="translate(2877.4 781.8) scale(0.85 1)" font-size="33.5">6R</text><text transform="translate(2965.5 624.6) scale(0.85 1)" font-size="33.5">7R</text><text transform="translate(2987.5 952.5) scale(0.85 1)" font-size="33.5">5R</text><text transform="translate(2877.4 1093.1) scale(0.85 1)" font-size="33.5">4R</text><text transform="translate(2966.5 1252.9) scale(0.85 1)" font-size="33.5">3R</text><text transform="translate(13.8 402.8) scale(0.82 1)" font-size="33.5" text-anchor="middle">9</text><text transform="translate(13.8 464.0) scale(0.82 1)" font-size="33.5" text-anchor="middle">8</text><text transform="translate(13.8 624.6) scale(0.82 1)" font-size="33.5" text-anchor="middle">7</text><text transform="translate(13.8 781.8) scale(0.82 1)" font-size="33.5" text-anchor="middle">6</text><text transform="translate(13.8 936.0) scale(0.82 1)" font-size="33.5" text-anchor="middle">5</text><text transform="translate(13.8 1091.8) scale(0.82 1)" font-size="33.5" text-anchor="middle">4</text><text transform="translate(13.8 1252.9) scale(0.82 1)" font-size="33.5" text-anchor="middle">3</text><text transform="translate(13.8 1417.9) scale(0.82 1)" font-size="33.5" text-anchor="middle">2</text><text transform="translate(13.8 1583.8) scale(0.82 1)" font-size="33.5" text-anchor="middle">1</text><text transform="translate(54.0 426.5) scale(0.9 1)" font-size="24">*</text><text transform="translate(1124.0 469.6) scale(0.845 1)" font-size="54.5">Přehled lesních typů</text><text transform="translate(1124.0 527.0) scale(0.845 1)" font-size="54.5">a souborů lesních typů v ČR</text><text transform="translate(13.8 1836.0) scale(0.8 1)" font-size="33.5" text-anchor="middle">0</text><text transform="translate(39.0 1836.5) scale(0.85 1)" font-size="33.5">0X</text><text transform="translate(195.4 1836.5) scale(0.85 1)" font-size="33.5">0Z</text><text transform="translate(356.9 1836.5) scale(0.85 1)" font-size="33.5">0Y</text><text transform="translate(406.5 1836.5) scale(0.85 1)" font-size="33.5">0M</text><text transform="translate(535.2 1836.5) scale(0.85 1)" font-size="33.5">0K</text><text transform="translate(727.7 1836.5) scale(0.85 1)" font-size="33.5">0N</text><text transform="translate(965.8 1836.5) scale(0.85 1)" font-size="33.5">0C</text><text transform="translate(2325.3 1835.5) scale(0.85 1)" font-size="33.5">0O</text><text transform="translate(2484.9 1835.5) scale(0.85 1)" font-size="33.5">0P</text><text transform="translate(2580.8 1835.5) scale(0.85 1)" font-size="33.5">0Q</text><text transform="translate(2674.7 1835.5) scale(0.85 1)" font-size="33.5">0T</text><text transform="translate(2781.8 1835.5) scale(0.85 1)" font-size="33.5">0G</text><text transform="translate(2906.1 1835.5) scale(0.85 1)" font-size="33.5">0R</text></g></svg></body></html>
